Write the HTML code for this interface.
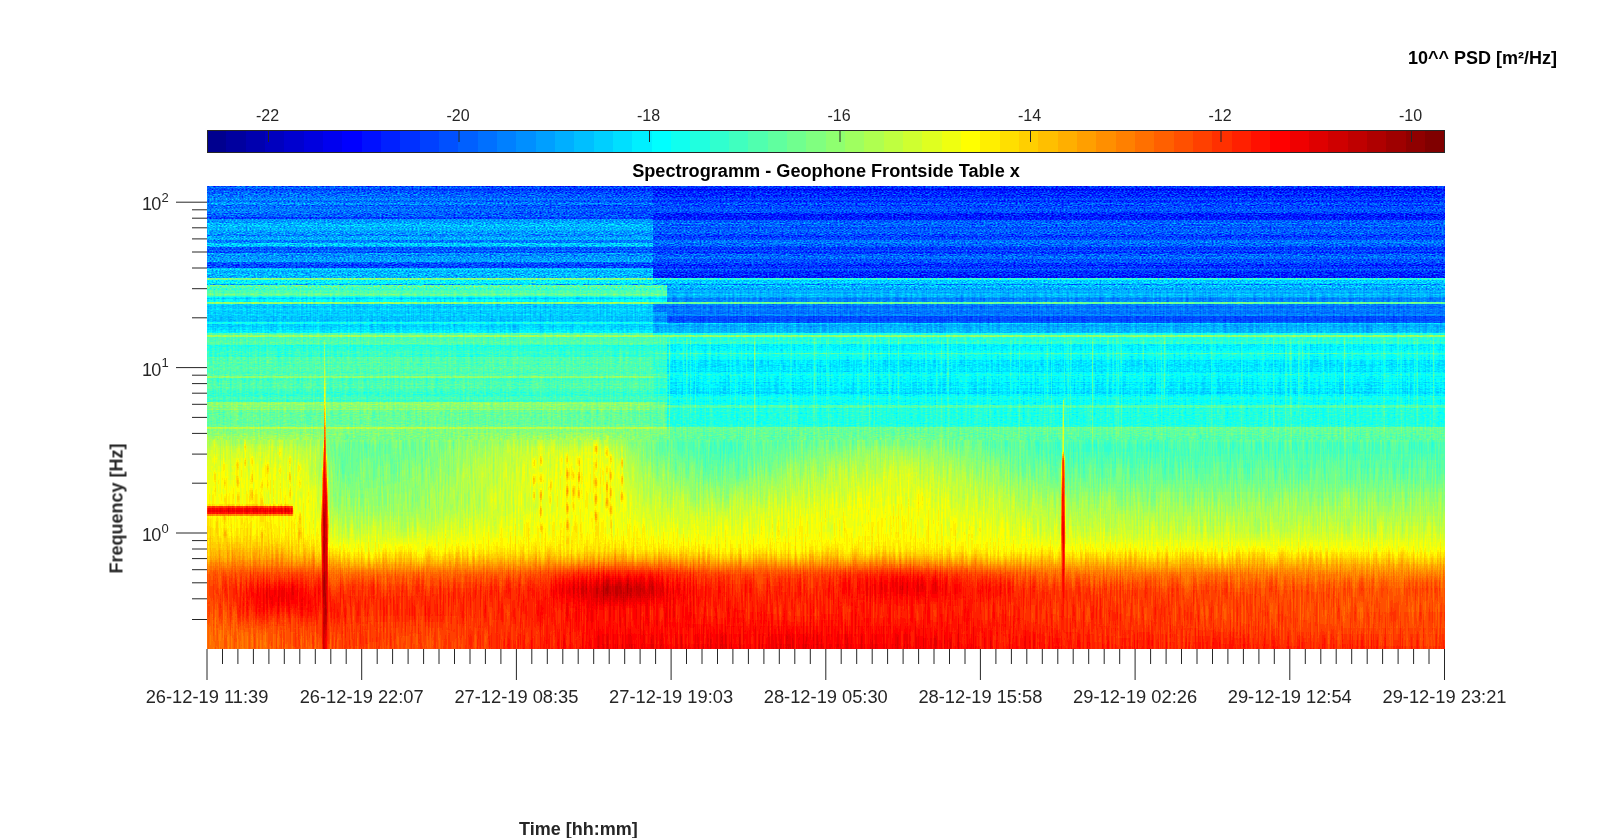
<!DOCTYPE html>
<html><head><meta charset="utf-8"><style>
html,body{margin:0;padding:0;background:#fff;width:1597px;height:838px;overflow:hidden;}
body{position:relative;font-family:"Liberation Sans",sans-serif;}
svg text{font-family:"Liberation Sans",sans-serif;}
</style></head><body>
<svg width="1597" height="838" viewBox="0 0 1597 838" style="position:absolute;left:0;top:0">
<defs>
<filter id="jet" x="0" y="0" width="1" height="1" filterUnits="objectBoundingBox" color-interpolation-filters="sRGB">
<feComponentTransfer><feFuncR type="discrete" tableValues="0 0 0 0 0 0 0 0 0 0 0 0 0 0 0 0 0 0 0 0 0 0 0 0 0.0625 0.125 0.1875 0.25 0.3125 0.375 0.4375 0.5 0.5625 0.625 0.6875 0.75 0.8125 0.875 0.9375 1 1 1 1 1 1 1 1 1 1 1 1 1 1 1 1 1 0.9375 0.875 0.8125 0.75 0.6875 0.625 0.5625 0.5"/><feFuncG type="discrete" tableValues="0 0 0 0 0 0 0 0 0.0625 0.125 0.1875 0.25 0.3125 0.375 0.4375 0.5 0.5625 0.625 0.6875 0.75 0.8125 0.875 0.9375 1 1 1 1 1 1 1 1 1 1 1 1 1 1 1 1 1 0.9375 0.875 0.8125 0.75 0.6875 0.625 0.5625 0.5 0.4375 0.375 0.3125 0.25 0.1875 0.125 0.0625 0 0 0 0 0 0 0 0 0"/><feFuncB type="discrete" tableValues="0.5625 0.625 0.6875 0.75 0.8125 0.875 0.9375 1 1 1 1 1 1 1 1 1 1 1 1 1 1 1 1 1 0.9375 0.875 0.8125 0.75 0.6875 0.625 0.5625 0.5 0.4375 0.375 0.3125 0.25 0.1875 0.125 0.0625 0 0 0 0 0 0 0 0 0 0 0 0 0 0 0 0 0 0 0 0 0 0 0 0 0"/><feFuncA type="identity"/></feComponentTransfer>
</filter>
<filter id="nz1" x="207" y="186" width="1238" height="104" filterUnits="userSpaceOnUse" color-interpolation-filters="sRGB">
<feTurbulence type="fractalNoise" baseFrequency="0.5 1.1" numOctaves="1" seed="3" result="t"/>
<feColorMatrix in="t" type="matrix" values="1 0 0 0 0  1 0 0 0 0  1 0 0 0 0  0 0 0 0 1" result="n"/>
<feComposite in="SourceGraphic" in2="n" operator="arithmetic" k1="0" k2="1" k3="0.3" k4="-0.15"/>
</filter>
<filter id="nz2" x="207" y="290" width="1238" height="150" filterUnits="userSpaceOnUse" color-interpolation-filters="sRGB">
<feTurbulence type="fractalNoise" baseFrequency="0.3 0.9" numOctaves="1" seed="4" result="t"/>
<feColorMatrix in="t" type="matrix" values="1 0 0 0 0  1 0 0 0 0  1 0 0 0 0  0 0 0 0 1" result="n"/>
<feTurbulence type="fractalNoise" baseFrequency="0.6 0.035" numOctaves="1" seed="7" result="t2"/>
<feColorMatrix in="t2" type="matrix" values="1 0 0 0 0  1 0 0 0 0  1 0 0 0 0  0 0 0 0 1" result="n2"/>
<feComposite in="SourceGraphic" in2="n" operator="arithmetic" k1="0" k2="1" k3="0.11" k4="-0.055" result="s1"/>
<feComposite in="s1" in2="n2" operator="arithmetic" k1="0" k2="1" k3="0.1" k4="-0.05"/>
</filter>
<filter id="nz3" x="207" y="440" width="1238" height="209" filterUnits="userSpaceOnUse" color-interpolation-filters="sRGB">
<feTurbulence type="fractalNoise" baseFrequency="0.6 0.035" numOctaves="1" seed="5" result="t"/>
<feColorMatrix in="t" type="matrix" values="1 0 0 0 0  1 0 0 0 0  1 0 0 0 0  0 0 0 0 1" result="n"/>
<feComposite in="SourceGraphic" in2="n" operator="arithmetic" k1="0" k2="1" k3="0.13" k4="-0.065"/>
</filter>
<linearGradient id="vlg" x1="0" y1="0" x2="0" y2="1"><stop offset="0" stop-color="#fff" stop-opacity="0.3"/><stop offset="0.05" stop-color="#fff" stop-opacity="1"/><stop offset="0.6" stop-color="#fff" stop-opacity="0.8"/><stop offset="1" stop-color="#fff" stop-opacity="0"/></linearGradient>
<clipPath id="pc"><rect x="207" y="186" width="1238" height="463"/></clipPath>
</defs>
<g filter="url(#jet)" clip-path="url(#pc)" shape-rendering="crispEdges">
<g filter="url(#nz1)"><path fill="#1e1e1e" d="M653 189h792v1h-792z"/>
<path fill="#222222" d="M653 190h792v1h-792zM653 276h792v1h-792zM653 277h792v1h-792z"/>
<path fill="#242424" d="M653 214h792v1h-792zM653 215h792v1h-792zM653 216h792v1h-792zM653 217h792v1h-792zM653 218h792v1h-792zM653 219h792v1h-792z"/>
<path fill="#262626" d="M626 186h27v1h-27zM653 188h792v1h-792zM575 189h78v1h-78zM653 192h792v1h-792zM653 195h792v1h-792zM653 213h792v1h-792zM653 265h792v1h-792zM653 272h792v1h-792zM653 275h792v1h-792z"/>
<path fill="#282828" d="M546 186h80v1h-80zM495 189h80v1h-80zM653 191h792v1h-792zM653 193h792v1h-792zM653 196h792v1h-792zM653 201h792v1h-792zM653 252h792v1h-792zM653 274h792v1h-792z"/>
<path fill="#2a2a2a" d="M467 186h79v1h-79zM653 186h792v1h-792zM416 189h79v1h-79zM576 190h77v1h-77zM653 194h792v1h-792zM653 197h792v1h-792zM653 200h792v1h-792zM653 236h792v1h-792zM653 249h792v1h-792zM653 264h792v1h-792zM653 267h792v1h-792zM653 271h792v1h-792zM653 273h792v1h-792z"/>
<path fill="#2c2c2c" d="M383 186h84v1h-84zM653 187h792v1h-792zM642 188h11v1h-11zM319 189h97v1h-97zM496 190h80v1h-80zM633 192h20v1h-20zM640 205h805v1h-805zM207 217h446v1h-446zM207 218h446v1h-446zM653 247h792v1h-792zM653 248h792v1h-792zM653 263h792v1h-792zM207 265h446v1h-446zM653 266h792v1h-792zM653 268h792v1h-792z"/>
<path fill="#2e2e2e" d="M282 186h101v1h-101zM563 188h79v1h-79zM217 189h102v1h-102zM416 190h80v1h-80zM609 191h44v1h-44zM553 192h80v1h-80zM647 193h6v1h-6zM653 198h792v1h-792zM644 201h9v1h-9zM653 202h792v1h-792zM560 205h80v1h-80zM653 235h792v1h-792zM653 237h792v1h-792zM653 251h792v1h-792zM653 253h792v1h-792zM207 267h446v1h-446zM653 270h792v1h-792z"/>
<path fill="#303030" d="M207 186h75v1h-75zM483 188h80v1h-80zM207 189h10v1h-10zM319 190h97v1h-97zM530 191h79v1h-79zM473 192h80v1h-80zM567 193h80v1h-80zM615 196h38v1h-38zM564 201h80v1h-80zM481 205h79v1h-79zM653 206h792v1h-792zM628 207h817v1h-817zM641 208h804v1h-804zM637 211h808v1h-808zM653 212h792v1h-792zM600 213h53v1h-53zM612 214h41v1h-41zM653 227h792v1h-792zM653 234h792v1h-792zM653 238h792v1h-792zM653 239h792v1h-792zM207 249h446v1h-446zM207 252h446v1h-446zM653 259h792v1h-792zM207 264h446v1h-446zM207 266h446v1h-446z"/>
<path fill="#323232" d="M611 187h42v1h-42zM403 188h80v1h-80zM218 190h101v1h-101zM450 191h80v1h-80zM392 192h81v1h-81zM488 193h79v1h-79zM577 194h76v1h-76zM642 195h11v1h-11zM535 196h80v1h-80zM605 197h48v1h-48zM653 199h792v1h-792zM624 200h29v1h-29zM484 201h80v1h-80zM653 204h792v1h-792zM401 205h80v1h-80zM577 206h76v1h-76zM548 207h80v1h-80zM561 208h80v1h-80zM558 211h79v1h-79zM601 212h52v1h-52zM505 213h95v1h-95zM484 214h128v1h-128zM577 215h76v1h-76zM653 228h792v1h-792zM653 250h792v1h-792zM653 260h792v1h-792zM653 262h792v1h-792zM207 263h446v1h-446z"/>
<path fill="#343434" d="M531 187h80v1h-80zM303 188h100v1h-100zM207 190h11v1h-11zM362 191h88v1h-88zM291 192h101v1h-101zM408 193h80v1h-80zM497 194h80v1h-80zM563 195h79v1h-79zM455 196h80v1h-80zM526 197h79v1h-79zM544 200h80v1h-80zM405 201h79v1h-79zM653 203h792v1h-792zM300 205h101v1h-101zM497 206h80v1h-80zM469 207h79v1h-79zM481 208h80v1h-80zM653 209h792v1h-792zM630 210h815v1h-815zM478 211h80v1h-80zM520 212h81v1h-81zM411 213h94v1h-94zM345 214h139v1h-139zM355 215h222v1h-222zM546 216h107v1h-107zM653 220h792v1h-792zM653 224h792v1h-792zM653 231h792v1h-792zM653 232h792v1h-792zM653 246h792v1h-792zM207 247h446v1h-446zM207 248h446v1h-446zM207 251h446v1h-446zM653 255h792v1h-792zM653 261h792v1h-792z"/>
<path fill="#363636" d="M451 187h80v1h-80zM207 188h96v1h-96zM261 191h101v1h-101zM207 192h84v1h-84zM309 193h99v1h-99zM418 194h79v1h-79zM483 195h80v1h-80zM369 196h86v1h-86zM446 197h80v1h-80zM636 198h17v1h-17zM464 200h80v1h-80zM305 201h100v1h-100zM586 202h67v1h-67zM207 205h93v1h-93zM418 206h79v1h-79zM386 207h83v1h-83zM402 208h79v1h-79zM599 209h54v1h-54zM551 210h79v1h-79zM398 211h80v1h-80zM438 212h82v1h-82zM294 213h117v1h-117zM207 214h138v1h-138zM207 215h148v1h-148zM207 216h339v1h-339zM653 221h792v1h-792zM653 222h792v1h-792zM653 225h792v1h-792zM653 229h792v1h-792zM653 233h792v1h-792zM653 244h792v1h-792zM207 262h446v1h-446zM653 269h792v1h-792z"/>
<path fill="#383838" d="M364 187h87v1h-87zM207 191h54v1h-54zM207 193h102v1h-102zM321 194h97v1h-97zM403 195h80v1h-80zM268 196h101v1h-101zM357 197h89v1h-89zM556 198h80v1h-80zM642 199h11v1h-11zM380 200h84v1h-84zM207 201h98v1h-98zM506 202h80v1h-80zM641 204h12v1h-12zM321 206h97v1h-97zM285 207h101v1h-101zM301 208h101v1h-101zM520 209h79v1h-79zM471 210h80v1h-80zM296 211h102v1h-102zM345 212h93v1h-93zM207 213h87v1h-87zM653 226h792v1h-792zM653 230h792v1h-792zM653 243h792v1h-792zM653 245h792v1h-792zM653 254h792v1h-792zM653 256h792v1h-792z"/>
<path fill="#3a3a3a" d="M263 187h101v1h-101zM220 194h101v1h-101zM303 195h100v1h-100zM207 196h61v1h-61zM256 197h101v1h-101zM477 198h79v1h-79zM562 199h80v1h-80zM279 200h101v1h-101zM426 202h80v1h-80zM561 204h80v1h-80zM220 206h101v1h-101zM207 207h78v1h-78zM207 208h94v1h-94zM440 209h80v1h-80zM389 210h82v1h-82zM207 211h89v1h-89zM242 212h103v1h-103zM653 223h792v1h-792zM653 240h792v1h-792zM653 241h792v1h-792zM207 250h446v1h-446zM653 257h792v1h-792zM653 258h792v1h-792z"/>
<path fill="#3c3c3c" d="M207 187h56v1h-56zM207 194h13v1h-13zM207 195h96v1h-96zM207 197h49v1h-49zM396 198h81v1h-81zM482 199h80v1h-80zM207 200h72v1h-72zM332 202h94v1h-94zM619 203h34v1h-34zM481 204h80v1h-80zM207 206h13v1h-13zM349 209h91v1h-91zM288 210h101v1h-101zM207 212h35v1h-35zM207 240h446v1h-446zM207 241h446v1h-446zM653 242h792v1h-792z"/>
<path fill="#3e3e3e" d="M295 198h101v1h-101zM403 199h79v1h-79zM231 202h101v1h-101zM539 203h80v1h-80zM402 204h79v1h-79zM248 209h101v1h-101zM207 210h81v1h-81zM207 235h446v1h-446zM207 242h446v1h-446zM207 255h446v1h-446zM653 284h792v1h-792z"/>
<path fill="#404040" d="M207 198h88v1h-88zM302 199h101v1h-101zM207 202h24v1h-24zM460 203h79v1h-79zM301 204h101v1h-101zM207 209h41v1h-41zM207 234h446v1h-446z"/>
<path fill="#424242" d="M207 199h95v1h-95zM375 203h85v1h-85zM207 204h94v1h-94zM207 219h446v1h-446zM207 254h446v1h-446zM207 256h446v1h-446z"/>
<path fill="#444444" d="M273 203h102v1h-102zM207 220h446v1h-446zM207 221h446v1h-446zM207 231h446v1h-446zM207 232h446v1h-446zM207 236h446v1h-446zM207 257h446v1h-446zM207 258h446v1h-446zM207 259h446v1h-446zM667 289h778v1h-778z"/>
<path fill="#464646" d="M207 203h66v1h-66zM207 222h446v1h-446zM207 233h446v1h-446zM207 253h446v1h-446zM207 260h446v1h-446zM667 288h778v1h-778z"/>
<path fill="#484848" d="M207 227h446v1h-446zM207 230h446v1h-446zM207 237h446v1h-446zM207 239h446v1h-446zM207 246h446v1h-446zM207 261h446v1h-446zM207 271h446v1h-446zM207 284h446v1h-446z"/>
<path fill="#4a4a4a" d="M207 223h446v1h-446zM207 224h446v1h-446zM207 228h446v1h-446zM207 238h446v1h-446zM207 272h446v1h-446zM207 275h446v1h-446zM207 276h446v1h-446zM207 277h446v1h-446z"/>
<path fill="#4c4c4c" d="M207 229h446v1h-446zM207 268h446v1h-446zM207 270h446v1h-446zM207 274h446v1h-446zM667 287h778v1h-778z"/>
<path fill="#4e4e4e" d="M207 225h446v1h-446zM207 226h446v1h-446zM207 273h446v1h-446zM667 285h778v1h-778zM667 286h778v1h-778z"/>
<path fill="#505050" d="M207 244h446v1h-446zM653 280h792v1h-792zM653 283h792v1h-792z"/>
<path fill="#525252" d="M207 243h446v1h-446zM207 245h446v1h-446zM653 281h792v1h-792z"/>
<path fill="#545454" d="M207 269h446v1h-446zM653 282h792v1h-792z"/>
<path fill="#5a5a5a" d="M207 280h446v1h-446zM207 283h446v1h-446z"/>
<path fill="#5c5c5c" d="M207 281h446v1h-446z"/>
<path fill="#5e5e5e" d="M207 282h446v1h-446z"/>
<path fill="#666666" d="M653 279h792v1h-792z"/>
<path fill="#6a6a6a" d="M653 278h792v1h-792zM207 289h460v1h-460z"/>
<path fill="#6c6c6c" d="M207 288h460v1h-460z"/>
<path fill="#727272" d="M207 287h460v1h-460z"/>
<path fill="#747474" d="M207 285h460v1h-460zM207 286h460v1h-460z"/>
<path fill="#7a7a7a" d="M207 279h446v1h-446z"/>
<path fill="#7e7e7e" d="M207 278h446v1h-446z"/></g>
<g filter="url(#nz2)"><path fill="#2e2e2e" d="M667 320h778v1h-778z"/>
<path fill="#303030" d="M667 316h778v1h-778zM667 317h778v1h-778zM667 319h778v1h-778z"/>
<path fill="#323232" d="M667 318h778v1h-778z"/>
<path fill="#343434" d="M667 321h778v1h-778zM667 322h778v1h-778z"/>
<path fill="#383838" d="M653 306h792v1h-792z"/>
<path fill="#3a3a3a" d="M653 307h792v1h-792zM653 311h792v1h-792zM667 312h778v1h-778zM667 313h778v1h-778z"/>
<path fill="#3c3c3c" d="M667 298h778v1h-778zM653 308h792v1h-792zM653 310h792v1h-792z"/>
<path fill="#3e3e3e" d="M667 299h778v1h-778zM653 304h792v1h-792zM653 305h792v1h-792zM653 319h14v1h-14zM653 320h14v1h-14z"/>
<path fill="#404040" d="M667 300h778v1h-778zM667 301h778v1h-778zM653 309h792v1h-792zM667 314h778v1h-778zM667 315h778v1h-778zM653 316h14v1h-14zM653 317h14v1h-14z"/>
<path fill="#424242" d="M653 318h14v1h-14zM653 321h14v1h-14z"/>
<path fill="#444444" d="M667 297h778v1h-778z"/>
<path fill="#464646" d="M667 292h778v1h-778zM653 312h14v1h-14zM653 313h14v1h-14zM653 326h792v1h-792z"/>
<path fill="#484848" d="M653 315h14v1h-14zM653 324h792v1h-792zM653 325h792v1h-792z"/>
<path fill="#4a4a4a" d="M667 290h778v1h-778zM667 293h778v1h-778zM667 295h778v1h-778zM653 314h14v1h-14zM653 327h792v1h-792zM653 329h792v1h-792z"/>
<path fill="#4c4c4c" d="M667 291h778v1h-778zM667 296h778v1h-778zM207 320h446v1h-446zM653 322h14v1h-14zM653 328h792v1h-792zM653 330h792v1h-792zM653 331h792v1h-792z"/>
<path fill="#4e4e4e" d="M207 306h446v1h-446zM207 316h446v1h-446zM207 317h446v1h-446zM207 319h446v1h-446zM653 332h792v1h-792z"/>
<path fill="#505050" d="M667 294h778v1h-778zM207 307h446v1h-446zM207 311h446v1h-446zM207 312h446v1h-446zM207 313h446v1h-446zM207 318h446v1h-446zM207 326h446v1h-446z"/>
<path fill="#525252" d="M207 298h460v1h-460zM207 304h446v1h-446zM207 305h446v1h-446zM207 308h446v1h-446zM207 310h446v1h-446zM207 315h446v1h-446zM207 321h446v1h-446zM207 324h446v1h-446zM207 325h446v1h-446z"/>
<path fill="#545454" d="M207 314h446v1h-446zM667 323h778v1h-778zM207 327h446v1h-446zM207 329h446v1h-446zM667 371h778v1h-778zM667 392h778v1h-778zM667 393h778v1h-778z"/>
<path fill="#565656" d="M207 309h446v1h-446zM207 328h446v1h-446zM667 360h778v1h-778zM667 364h778v1h-778zM667 365h778v1h-778zM667 366h778v1h-778zM667 382h778v1h-778zM667 388h778v1h-778zM667 389h778v1h-778zM667 391h778v1h-778z"/>
<path fill="#585858" d="M207 331h446v1h-446zM667 345h778v1h-778zM667 361h778v1h-778zM667 362h778v1h-778zM667 363h778v1h-778zM667 367h778v1h-778zM667 369h778v1h-778zM667 370h778v1h-778zM667 384h778v1h-778zM667 385h778v1h-778z"/>
<path fill="#5a5a5a" d="M207 297h460v1h-460zM207 299h460v1h-460zM653 323h14v1h-14zM207 330h446v1h-446zM667 344h778v1h-778zM667 346h778v1h-778zM667 347h778v1h-778zM667 349h778v1h-778zM667 368h778v1h-778zM667 379h778v1h-778zM667 383h778v1h-778zM667 386h778v1h-778zM667 390h778v1h-778z"/>
<path fill="#5c5c5c" d="M207 300h460v1h-460zM207 301h460v1h-460zM207 332h446v1h-446zM667 348h778v1h-778zM667 350h778v1h-778zM667 372h778v1h-778zM667 376h778v1h-778zM667 378h778v1h-778zM667 380h778v1h-778zM667 387h778v1h-778zM667 394h778v1h-778zM667 395h778v1h-778z"/>
<path fill="#5e5e5e" d="M667 359h778v1h-778zM667 373h778v1h-778zM667 377h778v1h-778zM667 381h778v1h-778zM667 400h395v1h-395zM1064 400h381v1h-381zM667 401h395v1h-395zM1064 401h381v1h-381z"/>
<path fill="#606060" d="M207 323h446v1h-446zM667 351h778v1h-778zM667 352h778v1h-778zM667 355h778v1h-778zM667 356h778v1h-778zM667 357h778v1h-778zM667 358h778v1h-778zM667 375h778v1h-778zM667 396h778v1h-778zM1062 400h1v1h-1zM667 402h395v1h-395zM1064 402h381v1h-381zM667 403h395v1h-395zM1064 403h381v1h-381zM667 404h395v1h-395zM1064 404h381v1h-381z"/>
<path fill="#626262" d="M207 322h446v1h-446zM667 354h778v1h-778zM667 374h778v1h-778zM667 397h778v1h-778zM667 399h778v1h-778zM1062 401h1v1h-1zM667 408h395v1h-395zM1064 408h381v1h-381z"/>
<path fill="#646464" d="M653 334h792v1h-792zM667 340h778v1h-778zM207 345h117v1h-117zM325 345h342v1h-342zM653 392h14v1h-14zM653 393h14v1h-14zM667 398h778v1h-778zM1062 402h1v1h-1zM667 412h395v1h-395zM1064 412h381v1h-381zM667 413h395v1h-395zM1064 413h381v1h-381zM667 417h395v1h-395zM1064 417h381v1h-381zM667 420h395v1h-395zM1064 420h381v1h-381zM667 421h395v1h-395zM1064 421h381v1h-381zM667 422h395v1h-395zM1064 422h381v1h-381zM667 423h395v1h-395zM1064 423h381v1h-381z"/>
<path fill="#666666" d="M207 296h460v1h-460zM653 333h792v1h-792zM667 338h778v1h-778zM667 339h778v1h-778zM207 346h117v1h-117zM325 346h342v1h-342zM653 347h14v1h-14zM653 348h14v1h-14zM653 349h14v1h-14zM653 389h14v1h-14zM653 391h14v1h-14zM1062 403h1v1h-1zM667 409h395v1h-395zM1064 409h381v1h-381zM667 410h395v1h-395zM1064 410h381v1h-381zM667 414h395v1h-395zM1064 414h381v1h-381zM667 415h395v1h-395zM1064 415h381v1h-381zM667 416h395v1h-395zM1064 416h381v1h-381zM667 418h395v1h-395zM1064 418h381v1h-381zM667 419h395v1h-395zM1064 419h381v1h-381zM667 424h395v1h-395zM1064 424h381v1h-381zM667 425h395v1h-395zM1064 425h381v1h-381z"/>
<path fill="#686868" d="M667 337h778v1h-778zM667 341h778v1h-778zM207 347h117v1h-117zM325 347h328v1h-328zM207 348h117v1h-117zM325 348h328v1h-328zM207 349h117v1h-117zM325 349h328v1h-328zM207 350h117v1h-117zM325 350h342v1h-342zM207 356h117v1h-117zM325 356h328v1h-328zM653 360h14v1h-14zM653 364h14v1h-14zM653 366h14v1h-14zM653 371h14v1h-14zM653 379h14v1h-14zM653 382h14v1h-14zM653 388h14v1h-14zM653 390h14v1h-14zM653 394h14v1h-14zM653 395h14v1h-14zM1062 404h1v1h-1zM667 411h395v1h-395zM1064 411h381v1h-381zM667 426h395v1h-395zM1064 426h381v1h-381z"/>
<path fill="#6a6a6a" d="M667 342h778v1h-778zM667 343h778v1h-778zM653 344h14v1h-14zM653 351h14v1h-14zM207 354h117v1h-117zM325 354h342v1h-342zM207 355h117v1h-117zM325 355h342v1h-342zM653 356h14v1h-14zM653 361h14v1h-14zM653 363h14v1h-14zM653 365h14v1h-14zM653 367h14v1h-14zM653 369h14v1h-14zM653 370h14v1h-14zM653 372h14v1h-14zM653 378h14v1h-14zM653 380h14v1h-14zM653 383h14v1h-14zM653 384h14v1h-14zM653 385h14v1h-14zM207 392h117v1h-117zM326 392h327v1h-327zM207 393h117v1h-117zM326 393h327v1h-327zM207 394h117v1h-117zM326 394h327v1h-327zM207 395h117v1h-117zM326 395h327v1h-327zM207 400h117v1h-117zM326 400h341v1h-341zM653 401h14v1h-14z"/>
<path fill="#6c6c6c" d="M207 351h117v1h-117zM325 351h328v1h-328zM207 352h117v1h-117zM325 352h342v1h-342zM207 353h117v1h-117zM325 353h328v1h-328zM653 359h14v1h-14zM653 362h14v1h-14zM653 368h14v1h-14zM653 373h14v1h-14zM207 379h117v1h-117zM326 379h327v1h-327zM653 381h14v1h-14zM653 386h14v1h-14zM207 391h117v1h-117zM326 391h327v1h-327zM207 396h117v1h-117zM326 396h341v1h-341zM207 401h117v1h-117zM326 401h327v1h-327z"/>
<path fill="#6e6e6e" d="M653 358h14v1h-14zM207 372h117v1h-117zM326 372h327v1h-327zM653 375h14v1h-14zM207 378h117v1h-117zM326 378h327v1h-327zM207 380h117v1h-117zM326 380h327v1h-327zM653 387h14v1h-14zM207 389h117v1h-117zM326 389h327v1h-327zM207 390h117v1h-117zM326 390h327v1h-327zM653 397h14v1h-14zM207 399h117v1h-117zM326 399h341v1h-341zM1062 408h1v1h-1z"/>
<path fill="#707070" d="M207 290h460v1h-460zM207 292h460v1h-460zM207 337h460v1h-460zM207 338h460v1h-460zM207 339h460v1h-460zM207 340h117v1h-117zM325 340h342v1h-342zM207 344h117v1h-117zM325 344h328v1h-328zM667 353h778v1h-778zM653 357h14v1h-14zM207 360h117v1h-117zM326 360h327v1h-327zM207 364h117v1h-117zM326 364h327v1h-327zM207 366h117v1h-117zM326 366h327v1h-327zM207 371h117v1h-117zM326 371h327v1h-327zM207 373h117v1h-117zM326 373h327v1h-327zM653 374h14v1h-14zM207 381h117v1h-117zM326 381h327v1h-327zM207 382h117v1h-117zM326 382h327v1h-327zM207 385h117v1h-117zM326 385h327v1h-327zM207 388h117v1h-117zM326 388h327v1h-327zM207 397h117v1h-117zM326 397h327v1h-327zM207 398h117v1h-117zM326 398h341v1h-341zM667 405h395v1h-395zM1064 405h381v1h-381zM667 407h395v1h-395zM1064 407h381v1h-381zM1062 409h1v1h-1z"/>
<path fill="#727272" d="M207 291h460v1h-460zM207 334h446v1h-446zM207 341h117v1h-117zM325 341h342v1h-342zM207 358h117v1h-117zM325 358h328v1h-328zM207 359h117v1h-117zM325 359h328v1h-328zM325 360h1v1h-1zM207 361h117v1h-117zM326 361h327v1h-327zM207 363h117v1h-117zM326 363h327v1h-327zM207 365h117v1h-117zM326 365h327v1h-327zM207 369h117v1h-117zM326 369h327v1h-327zM207 370h117v1h-117zM326 370h327v1h-327zM207 375h117v1h-117zM326 375h327v1h-327zM207 383h117v1h-117zM326 383h327v1h-327zM207 384h117v1h-117zM326 384h327v1h-327zM207 386h117v1h-117zM326 386h327v1h-327zM667 406h395v1h-395zM1064 406h381v1h-381zM1062 410h1v1h-1zM653 412h14v1h-14zM1062 412h1v1h-1zM653 413h14v1h-14zM1062 413h1v1h-1zM653 417h14v1h-14zM653 420h14v1h-14zM653 421h14v1h-14zM653 422h14v1h-14zM653 423h14v1h-14zM1055 437h7v1h-7zM1064 437h117v1h-117zM702 438h39v1h-39zM1039 438h23v1h-23zM1064 438h381v1h-381zM714 439h14v1h-14zM1051 439h11v1h-11zM1064 439h134v1h-134z"/>
<path fill="#747474" d="M207 293h460v1h-460zM207 295h460v1h-460zM207 333h446v1h-446zM207 342h117v1h-117zM325 342h342v1h-342zM207 343h117v1h-117zM325 343h342v1h-342zM653 353h14v1h-14zM207 357h117v1h-117zM325 357h328v1h-328zM325 361h1v1h-1zM207 362h117v1h-117zM326 362h327v1h-327zM325 364h1v1h-1zM207 367h117v1h-117zM326 367h327v1h-327zM207 368h117v1h-117zM326 368h327v1h-327zM207 374h117v1h-117zM326 374h327v1h-327zM653 376h14v1h-14zM653 377h14v1h-14zM207 387h117v1h-117zM326 387h327v1h-327zM653 410h14v1h-14zM1062 411h1v1h-1zM653 414h14v1h-14zM1062 414h1v1h-1zM653 415h14v1h-14zM1062 415h1v1h-1zM653 416h14v1h-14zM653 418h14v1h-14zM653 419h14v1h-14zM653 424h14v1h-14zM653 425h14v1h-14zM713 431h15v1h-15zM1051 431h11v1h-11zM1064 431h135v1h-135zM696 432h52v1h-52zM1032 432h30v1h-30zM1064 432h381v1h-381zM698 434h47v1h-47zM1035 434h27v1h-27zM1064 434h381v1h-381zM689 435h66v1h-66zM1025 435h37v1h-37zM1064 435h381v1h-381zM695 436h53v1h-53zM1032 436h30v1h-30zM1064 436h381v1h-381zM675 437h96v1h-96zM1009 437h46v1h-46zM1181 437h264v1h-264zM668 438h34v1h-34zM741 438h38v1h-38zM1001 438h38v1h-38zM683 439h31v1h-31zM728 439h34v1h-34zM1018 439h33v1h-33zM1198 439h247v1h-247z"/>
<path fill="#767676" d="M653 303h792v1h-792zM325 362h1v1h-1zM325 363h1v1h-1zM325 365h1v1h-1zM325 366h1v1h-1zM653 402h14v1h-14zM653 403h14v1h-14zM653 404h14v1h-14zM1062 405h1v1h-1zM1062 407h1v1h-1zM653 408h14v1h-14zM653 411h14v1h-14zM207 412h117v1h-117zM326 412h327v1h-327zM207 413h117v1h-117zM326 413h327v1h-327zM1062 416h1v1h-1zM207 417h117v1h-117zM326 417h327v1h-327zM1062 417h1v1h-1zM1062 418h1v1h-1zM207 420h117v1h-117zM326 420h327v1h-327zM207 421h117v1h-117zM326 421h327v1h-327zM207 422h117v1h-117zM326 422h327v1h-327zM207 423h117v1h-117zM326 423h327v1h-327zM653 426h14v1h-14zM667 430h395v1h-395zM1064 430h381v1h-381zM667 431h46v1h-46zM728 431h323v1h-323zM1199 431h246v1h-246zM667 432h29v1h-29zM748 432h284v1h-284zM667 433h145v1h-145zM970 433h92v1h-92zM1064 433h381v1h-381zM667 434h31v1h-31zM745 434h96v1h-96zM948 434h87v1h-87zM667 435h22v1h-22zM755 435h74v1h-74zM957 435h68v1h-68zM667 436h28v1h-28zM748 436h56v1h-56zM977 436h55v1h-55zM667 437h8v1h-8zM771 437h50v1h-50zM963 437h46v1h-46zM667 438h1v1h-1zM779 438h43v1h-43zM963 438h38v1h-38zM667 439h16v1h-16zM762 439h34v1h-34zM985 439h33v1h-33z"/>
<path fill="#787878" d="M653 302h792v1h-792zM325 367h1v1h-1zM325 369h1v1h-1zM325 371h1v1h-1zM325 372h1v1h-1zM1062 406h1v1h-1zM653 409h14v1h-14zM207 410h117v1h-117zM326 410h327v1h-327zM207 414h117v1h-117zM326 414h327v1h-327zM207 415h117v1h-117zM326 415h327v1h-327zM207 416h117v1h-117zM326 416h327v1h-327zM207 418h117v1h-117zM326 418h327v1h-327zM207 419h117v1h-117zM326 419h327v1h-327zM1062 419h1v1h-1zM1062 420h1v1h-1zM1062 421h1v1h-1zM1062 422h1v1h-1zM207 424h117v1h-117zM326 424h327v1h-327zM207 425h117v1h-117zM326 425h327v1h-327zM667 428h395v1h-395zM1064 428h381v1h-381zM667 429h395v1h-395zM1064 429h381v1h-381zM812 433h158v1h-158zM841 434h107v1h-107zM829 435h128v1h-128zM804 436h68v1h-68zM922 436h55v1h-55zM821 437h57v1h-57zM918 437h45v1h-45zM822 438h48v1h-48zM924 438h39v1h-39zM796 439h40v1h-40zM951 439h34v1h-34z"/>
<path fill="#7a7a7a" d="M207 294h460v1h-460zM325 368h1v1h-1zM325 370h1v1h-1zM325 373h1v1h-1zM325 378h1v1h-1zM325 379h1v1h-1zM207 411h117v1h-117zM326 411h327v1h-327zM1062 423h1v1h-1zM1062 424h1v1h-1zM207 426h117v1h-117zM326 426h327v1h-327zM667 427h395v1h-395zM1064 427h381v1h-381zM872 436h50v1h-50zM878 437h40v1h-40zM340 438h32v1h-32zM651 438h2v1h-2zM658 438h9v1h-9zM870 438h54v1h-54zM664 439h3v1h-3zM836 439h42v1h-42zM918 439h33v1h-33z"/>
<path fill="#7c7c7c" d="M324 340h1v1h-1zM324 345h1v1h-1zM325 375h1v1h-1zM325 380h1v1h-1zM653 405h14v1h-14zM653 407h14v1h-14zM1062 425h1v1h-1zM1062 426h1v1h-1zM331 431h102v1h-102zM642 431h11v1h-11zM331 432h102v1h-102zM642 432h11v1h-11zM335 434h82v1h-82zM647 434h6v1h-6zM334 435h90v1h-90zM645 435h8v1h-8zM657 435h10v1h-10zM336 436h76v1h-76zM648 436h5v1h-5zM658 436h9v1h-9zM331 437h102v1h-102zM642 437h25v1h-25zM330 438h10v1h-10zM372 438h65v1h-65zM641 438h10v1h-10zM653 438h5v1h-5zM333 439h92v1h-92zM645 439h19v1h-19zM878 439h40v1h-40z"/>
<path fill="#7e7e7e" d="M324 341h1v1h-1zM324 342h1v1h-1zM324 343h1v1h-1zM324 344h1v1h-1zM324 346h1v1h-1zM324 347h1v1h-1zM324 348h1v1h-1zM325 374h1v1h-1zM325 381h1v1h-1zM325 382h1v1h-1zM207 405h117v1h-117zM326 405h327v1h-327zM653 406h14v1h-14zM207 407h117v1h-117zM326 407h327v1h-327zM207 408h117v1h-117zM326 408h327v1h-327zM207 429h117v1h-117zM326 429h242v1h-242zM603 429h50v1h-50zM207 430h117v1h-117zM326 430h341v1h-341zM207 431h117v1h-117zM326 431h5v1h-5zM433 431h209v1h-209zM653 431h14v1h-14zM207 432h117v1h-117zM326 432h5v1h-5zM433 432h128v1h-128zM609 432h33v1h-33zM653 432h14v1h-14zM323 433h1v1h-1zM326 433h139v1h-139zM631 433h36v1h-36zM321 434h3v1h-3zM326 434h9v1h-9zM417 434h59v1h-59zM627 434h20v1h-20zM653 434h14v1h-14zM323 435h1v1h-1zM326 435h8v1h-8zM424 435h44v1h-44zM630 435h15v1h-15zM653 435h4v1h-4zM326 436h10v1h-10zM412 436h42v1h-42zM635 436h13v1h-13zM653 436h5v1h-5zM326 437h5v1h-5zM433 437h28v1h-28zM632 437h10v1h-10zM326 438h4v1h-4zM437 438h24v1h-24zM632 438h9v1h-9zM327 439h6v1h-6zM425 439h22v1h-22zM637 439h8v1h-8z"/>
<path fill="#818181" d="M207 303h446v1h-446zM653 335h792v1h-792zM324 349h1v1h-1zM324 350h1v1h-1zM207 376h117v1h-117zM326 376h327v1h-327zM207 377h117v1h-117zM326 377h327v1h-327zM325 383h1v1h-1zM325 384h1v1h-1zM325 385h1v1h-1zM325 388h1v1h-1zM325 389h1v1h-1zM325 392h1v1h-1zM207 402h117v1h-117zM326 402h327v1h-327zM207 406h117v1h-117zM326 406h327v1h-327zM568 429h35v1h-35zM653 429h14v1h-14zM561 432h48v1h-48zM207 433h116v1h-116zM465 433h95v1h-95zM609 433h22v1h-22zM207 434h36v1h-36zM247 434h6v1h-6zM261 434h17v1h-17zM282 434h39v1h-39zM476 434h66v1h-66zM610 434h17v1h-17zM307 435h16v1h-16zM468 435h42v1h-42zM616 435h14v1h-14zM318 436h6v1h-6zM454 436h34v1h-34zM623 436h12v1h-12zM317 437h7v1h-7zM461 437h29v1h-29zM623 437h9v1h-9zM318 438h5v1h-5zM461 438h25v1h-25zM624 438h8v1h-8zM326 439h1v1h-1zM447 439h21v1h-21zM630 439h7v1h-7z"/>
<path fill="#838383" d="M207 302h446v1h-446zM653 336h792v1h-792zM324 351h1v1h-1zM324 352h1v1h-1zM324 353h1v1h-1zM324 354h1v1h-1zM324 355h1v1h-1zM325 386h1v1h-1zM325 390h1v1h-1zM325 391h1v1h-1zM325 393h1v1h-1zM325 394h1v1h-1zM325 395h1v1h-1zM207 403h117v1h-117zM326 403h327v1h-327zM207 404h117v1h-117zM326 404h327v1h-327zM207 409h117v1h-117zM326 409h327v1h-327zM560 433h46v1h-46zM608 433h1v1h-1zM243 434h4v1h-4zM253 434h8v1h-8zM278 434h4v1h-4zM542 434h64v1h-64zM608 434h2v1h-2zM207 435h72v1h-72zM281 435h26v1h-26zM510 435h84v1h-84zM597 435h8v1h-8zM609 435h7v1h-7zM207 436h5v1h-5zM284 436h34v1h-34zM488 436h38v1h-38zM612 436h11v1h-11zM293 437h24v1h-24zM490 437h30v1h-30zM613 437h10v1h-10zM308 438h10v1h-10zM486 438h24v1h-24zM616 438h8v1h-8zM317 439h6v1h-6zM468 439h21v1h-21zM623 439h7v1h-7z"/>
<path fill="#858585" d="M207 335h446v1h-446zM324 356h1v1h-1zM325 387h1v1h-1zM325 396h1v1h-1zM606 433h2v1h-2zM279 435h2v1h-2zM594 435h3v1h-3zM605 435h1v1h-1zM608 435h1v1h-1zM212 436h67v1h-67zM281 436h3v1h-3zM526 436h69v1h-69zM597 436h8v1h-8zM609 436h3v1h-3zM207 437h7v1h-7zM216 437h63v1h-63zM281 437h12v1h-12zM520 437h57v1h-57zM600 437h4v1h-4zM609 437h4v1h-4zM207 438h6v1h-6zM217 438h27v1h-27zM247 438h31v1h-31zM282 438h26v1h-26zM323 438h1v1h-1zM510 438h40v1h-40zM610 438h6v1h-6zM307 439h10v1h-10zM489 439h22v1h-22zM616 439h7v1h-7z"/>
<path fill="#878787" d="M207 336h446v1h-446zM324 357h1v1h-1zM324 358h1v1h-1zM324 359h1v1h-1zM324 360h1v1h-1zM324 361h1v1h-1zM325 376h1v1h-1zM325 377h1v1h-1zM325 397h1v1h-1zM325 399h1v1h-1zM325 400h1v1h-1zM1063 400h1v1h-1zM1063 401h1v1h-1zM1063 402h1v1h-1zM653 428h14v1h-14zM1062 428h1v1h-1zM1062 429h1v1h-1zM1062 430h1v1h-1zM1062 431h1v1h-1zM1062 432h1v1h-1zM606 434h2v1h-2zM279 436h2v1h-2zM595 436h2v1h-2zM605 436h1v1h-1zM608 436h1v1h-1zM214 437h2v1h-2zM577 437h23v1h-23zM604 437h1v1h-1zM213 438h1v1h-1zM216 438h1v1h-1zM244 438h3v1h-3zM278 438h1v1h-1zM281 438h1v1h-1zM550 438h55v1h-55zM609 438h1v1h-1zM207 439h6v1h-6zM217 439h26v1h-26zM247 439h3v1h-3zM254 439h24v1h-24zM282 439h25v1h-25zM511 439h33v1h-33zM612 439h4v1h-4z"/>
<path fill="#898989" d="M324 362h1v1h-1zM324 363h1v1h-1zM324 364h1v1h-1zM324 365h1v1h-1zM325 398h1v1h-1zM325 401h1v1h-1zM1063 403h1v1h-1zM1063 404h1v1h-1zM653 427h14v1h-14zM1062 427h1v1h-1zM1062 433h1v1h-1zM1062 434h1v1h-1zM606 435h2v1h-2zM1062 435h1v1h-1zM1062 436h1v1h-1zM279 437h2v1h-2zM605 437h1v1h-1zM608 437h1v1h-1zM1062 437h1v1h-1zM214 438h2v1h-2zM279 438h2v1h-2zM605 438h1v1h-1zM608 438h1v1h-1zM1062 438h1v1h-1zM213 439h1v1h-1zM216 439h1v1h-1zM243 439h4v1h-4zM250 439h4v1h-4zM278 439h1v1h-1zM281 439h1v1h-1zM323 439h1v1h-1zM544 439h50v1h-50zM597 439h8v1h-8zM609 439h3v1h-3zM1062 439h1v1h-1z"/>
<path fill="#8b8b8b" d="M324 366h1v1h-1zM324 367h1v1h-1zM324 368h1v1h-1zM324 369h1v1h-1zM1063 405h1v1h-1zM1063 406h1v1h-1zM1063 407h1v1h-1zM1063 408h1v1h-1zM1063 409h1v1h-1zM1063 410h1v1h-1zM207 428h117v1h-117zM326 428h327v1h-327zM606 436h2v1h-2zM214 439h2v1h-2zM279 439h2v1h-2zM594 439h3v1h-3zM605 439h1v1h-1zM608 439h1v1h-1z"/>
<path fill="#8d8d8d" d="M324 370h1v1h-1zM324 371h1v1h-1zM324 372h1v1h-1zM324 373h1v1h-1zM1063 411h1v1h-1zM1063 412h1v1h-1zM1063 413h1v1h-1zM1063 414h1v1h-1zM1063 415h1v1h-1zM207 427h117v1h-117zM326 427h327v1h-327zM606 437h2v1h-2zM606 438h2v1h-2z"/>
<path fill="#8f8f8f" d="M324 374h1v1h-1zM324 375h1v1h-1zM324 378h1v1h-1zM1063 416h1v1h-1zM1063 417h1v1h-1zM1063 418h1v1h-1zM1063 419h1v1h-1zM1063 420h1v1h-1zM1063 421h1v1h-1zM606 439h2v1h-2z"/>
<path fill="#919191" d="M324 376h1v1h-1zM324 377h1v1h-1zM324 379h1v1h-1zM324 380h1v1h-1zM324 381h1v1h-1zM324 382h1v1h-1zM1063 422h1v1h-1zM1063 423h1v1h-1zM1063 424h1v1h-1zM1063 425h1v1h-1z"/>
<path fill="#939393" d="M324 383h1v1h-1zM324 384h1v1h-1zM324 385h1v1h-1zM325 402h1v1h-1zM1063 426h1v1h-1z"/>
<path fill="#959595" d="M324 386h1v1h-1zM324 387h1v1h-1zM324 388h1v1h-1zM324 389h1v1h-1zM324 390h1v1h-1zM325 403h1v1h-1zM325 404h1v1h-1zM325 405h1v1h-1zM1063 427h1v1h-1zM1063 428h1v1h-1zM1063 429h1v1h-1zM1063 430h1v1h-1zM1063 431h1v1h-1zM1063 432h1v1h-1zM1063 433h1v1h-1z"/>
<path fill="#979797" d="M324 391h1v1h-1zM324 392h1v1h-1zM324 393h1v1h-1zM324 394h1v1h-1zM325 406h1v1h-1zM325 407h1v1h-1zM1063 434h1v1h-1zM1063 435h1v1h-1zM1063 436h1v1h-1zM1063 437h1v1h-1zM1063 438h1v1h-1zM1063 439h1v1h-1z"/>
<path fill="#999999" d="M324 395h1v1h-1zM324 396h1v1h-1zM324 397h1v1h-1zM325 408h1v1h-1zM325 410h1v1h-1zM325 412h1v1h-1z"/>
<path fill="#9b9b9b" d="M324 398h1v1h-1zM324 399h1v1h-1zM324 400h1v1h-1zM325 409h1v1h-1zM325 411h1v1h-1zM325 413h1v1h-1z"/>
<path fill="#9d9d9d" d="M324 401h1v1h-1zM325 414h1v1h-1z"/>
<path fill="#9f9f9f" d="M324 402h1v1h-1zM325 415h1v1h-1zM325 416h1v1h-1z"/>
<path fill="#a1a1a1" d="M324 403h1v1h-1zM324 404h1v1h-1zM325 417h1v1h-1zM325 418h1v1h-1z"/>
<path fill="#a3a3a3" d="M324 405h1v1h-1zM324 406h1v1h-1zM325 419h1v1h-1zM325 420h1v1h-1z"/>
<path fill="#a5a5a5" d="M324 407h1v1h-1zM324 408h1v1h-1zM325 421h1v1h-1z"/>
<path fill="#a7a7a7" d="M324 409h1v1h-1zM324 410h1v1h-1zM325 422h1v1h-1zM325 423h1v1h-1z"/>
<path fill="#a9a9a9" d="M324 411h1v1h-1zM324 412h1v1h-1zM325 424h1v1h-1z"/>
<path fill="#ababab" d="M324 413h1v1h-1zM325 425h1v1h-1zM325 426h1v1h-1z"/>
<path fill="#adadad" d="M324 414h1v1h-1zM324 415h1v1h-1z"/>
<path fill="#afafaf" d="M324 416h1v1h-1zM324 417h1v1h-1z"/>
<path fill="#b1b1b1" d="M324 418h1v1h-1zM325 427h1v1h-1zM325 429h1v1h-1zM325 430h1v1h-1z"/>
<path fill="#b3b3b3" d="M324 419h1v1h-1zM324 420h1v1h-1zM325 428h1v1h-1zM325 431h1v1h-1zM325 432h1v1h-1z"/>
<path fill="#b5b5b5" d="M324 421h1v1h-1zM324 422h1v1h-1zM325 433h1v1h-1z"/>
<path fill="#b7b7b7" d="M324 423h1v1h-1zM325 434h1v1h-1zM325 435h1v1h-1z"/>
<path fill="#b9b9b9" d="M324 424h1v1h-1zM324 425h1v1h-1zM325 436h1v1h-1zM325 437h1v1h-1z"/>
<path fill="#bbbbbb" d="M324 426h1v1h-1zM325 438h1v1h-1z"/>
<path fill="#bdbdbd" d="M324 427h1v1h-1zM324 428h1v1h-1zM325 439h1v1h-1z"/>
<path fill="#bfbfbf" d="M324 429h1v1h-1zM324 430h1v1h-1z"/>
<path fill="#c1c1c1" d="M324 431h1v1h-1zM324 432h1v1h-1z"/>
<path fill="#c3c3c3" d="M324 433h1v1h-1zM324 434h1v1h-1z"/>
<path fill="#c5c5c5" d="M324 435h1v1h-1zM324 436h1v1h-1z"/>
<path fill="#c7c7c7" d="M324 437h1v1h-1zM324 438h1v1h-1z"/>
<path fill="#c9c9c9" d="M324 439h1v1h-1z"/></g>
<g filter="url(#nz3)"><path fill="#6e6e6e" d="M1064 444h100v2h-100zM1064 446h103v2h-103zM1059 448h3v2h-3zM1064 448h113v2h-113zM1061 450h1v2h-1zM1064 450h108v2h-108z"/>
<path fill="#707070" d="M704 442h34v2h-34zM1042 442h20v2h-20zM1064 442h381v2h-381zM701 444h41v2h-41zM1038 444h24v2h-24zM1164 444h281v2h-281zM703 446h36v2h-36zM1041 446h21v2h-21zM1167 446h278v2h-278zM703 448h36v2h-36zM1041 448h18v2h-18zM1177 448h268v2h-268zM705 450h31v2h-31zM1044 450h17v2h-17zM1172 450h273v2h-273zM709 452h22v2h-22zM1048 452h14v2h-14zM1064 452h381v2h-381zM717 454h6v2h-6zM1054 454h8v2h-8zM1065 454h156v2h-156zM1065 456h110v2h-110z"/>
<path fill="#727272" d="M714 440h13v2h-13zM1052 440h10v2h-10zM1064 440h133v2h-133zM683 442h21v2h-21zM738 442h23v2h-23zM1019 442h23v2h-23zM683 444h18v2h-18zM742 444h19v2h-19zM1019 444h19v2h-19zM687 446h16v2h-16zM739 446h17v2h-17zM1024 446h17v2h-17zM689 448h14v2h-14zM739 448h15v2h-15zM1026 448h15v2h-15zM692 450h13v2h-13zM736 450h14v2h-14zM1030 450h14v2h-14zM696 452h13v2h-13zM731 452h14v2h-14zM1035 452h13v2h-13zM701 454h16v2h-16zM723 454h17v2h-17zM1040 454h14v2h-14zM1221 454h224v2h-224zM706 456h29v2h-29zM1045 456h17v2h-17zM1175 456h270v2h-270zM711 458h18v2h-18zM1050 458h12v2h-12zM1065 458h380v2h-380zM1056 460h5v2h-5zM1065 460h169v2h-169zM1067 462h100v2h-100z"/>
<path fill="#747474" d="M686 440h28v2h-28zM727 440h31v2h-31zM1022 440h30v2h-30zM1197 440h248v2h-248zM667 442h16v2h-16zM761 442h23v2h-23zM996 442h23v2h-23zM667 444h16v2h-16zM761 444h19v2h-19zM1000 444h19v2h-19zM672 446h15v2h-15zM756 446h16v2h-16zM1008 446h16v2h-16zM675 448h14v2h-14zM754 448h14v2h-14zM1012 448h14v2h-14zM679 450h13v2h-13zM750 450h14v2h-14zM1016 450h14v2h-14zM683 452h13v2h-13zM745 452h14v2h-14zM1021 452h14v2h-14zM688 454h13v2h-13zM740 454h13v2h-13zM1027 454h13v2h-13zM693 456h13v2h-13zM735 456h13v2h-13zM1032 456h13v2h-13zM698 458h13v2h-13zM729 458h13v2h-13zM1038 458h12v2h-12zM703 460h34v2h-34zM1042 460h14v2h-14zM1234 460h211v2h-211zM708 462h24v2h-24zM1047 462h14v2h-14zM1065 462h2v2h-2zM1167 462h278v2h-278zM714 464h12v2h-12zM1052 464h9v2h-9zM1065 464h380v2h-380zM1058 466h3v2h-3zM1065 466h380v2h-380z"/>
<path fill="#767676" d="M667 440h19v2h-19zM758 440h29v2h-29zM993 440h29v2h-29zM784 442h26v2h-26zM972 442h24v2h-24zM666 444h1v2h-1zM780 444h20v2h-20zM981 444h19v2h-19zM666 446h6v2h-6zM772 446h17v2h-17zM991 446h17v2h-17zM665 448h10v2h-10zM768 448h15v2h-15zM997 448h15v2h-15zM667 450h12v2h-12zM764 450h14v2h-14zM1002 450h14v2h-14zM671 452h12v2h-12zM759 452h13v2h-13zM1008 452h13v2h-13zM676 454h12v2h-12zM753 454h13v2h-13zM1014 454h13v2h-13zM681 456h12v2h-12zM748 456h12v2h-12zM1020 456h12v2h-12zM686 458h12v2h-12zM742 458h13v2h-13zM1025 458h13v2h-13zM691 460h12v2h-12zM737 460h13v2h-13zM1030 460h12v2h-12zM695 462h13v2h-13zM732 462h13v2h-13zM1035 462h12v2h-12zM700 464h14v2h-14zM726 464h14v2h-14zM1040 464h12v2h-12zM704 466h31v2h-31zM1045 466h13v2h-13zM709 468h21v2h-21zM1049 468h12v2h-12zM1065 468h380v2h-380zM717 470h6v2h-6zM1054 470h7v2h-7zM1065 470h380v2h-380zM1065 472h380v2h-380z"/>
<path fill="#787878" d="M787 440h33v2h-33zM964 440h29v2h-29zM341 442h24v2h-24zM656 442h11v2h-11zM810 442h29v2h-29zM949 442h23v2h-23zM338 444h51v2h-51zM654 444h12v2h-12zM800 444h24v2h-24zM961 444h20v2h-20zM338 446h52v2h-52zM655 446h11v2h-11zM789 446h19v2h-19zM974 446h17v2h-17zM337 448h61v2h-61zM655 448h10v2h-10zM783 448h16v2h-16zM982 448h15v2h-15zM336 450h63v2h-63zM656 450h11v2h-11zM778 450h14v2h-14zM988 450h14v2h-14zM337 452h55v2h-55zM659 452h12v2h-12zM772 452h13v2h-13zM995 452h13v2h-13zM338 454h44v2h-44zM664 454h12v2h-12zM766 454h13v2h-13zM1001 454h13v2h-13zM339 456h35v2h-35zM669 456h12v2h-12zM760 456h13v2h-13zM1007 456h13v2h-13zM340 458h25v2h-25zM674 458h12v2h-12zM755 458h12v2h-12zM1013 458h12v2h-12zM342 460h16v2h-16zM679 460h12v2h-12zM750 460h12v2h-12zM1018 460h12v2h-12zM346 462h3v2h-3zM683 462h12v2h-12zM745 462h12v2h-12zM1023 462h12v2h-12zM688 464h12v2h-12zM740 464h12v2h-12zM1028 464h12v2h-12zM693 466h11v2h-11zM735 466h12v2h-12zM1033 466h12v2h-12zM697 468h12v2h-12zM730 468h12v2h-12zM1038 468h11v2h-11zM702 470h15v2h-15zM723 470h15v2h-15zM1042 470h12v2h-12zM707 472h26v2h-26zM1047 472h14v2h-14zM713 474h13v2h-13zM1052 474h9v2h-9zM1065 474h380v2h-380zM1058 476h3v2h-3zM1065 476h380v2h-380zM1122 478h323v2h-323z"/>
<path fill="#7a7a7a" d="M663 440h4v2h-4zM820 440h37v2h-37zM935 440h29v2h-29zM333 442h8v2h-8zM365 442h61v2h-61zM646 442h10v2h-10zM839 442h29v2h-29zM925 442h24v2h-24zM332 444h6v2h-6zM389 444h38v2h-38zM646 444h8v2h-8zM824 444h25v2h-25zM941 444h20v2h-20zM333 446h5v2h-5zM390 446h35v2h-35zM648 446h7v2h-7zM808 446h21v2h-21zM957 446h17v2h-17zM333 448h4v2h-4zM398 448h28v2h-28zM648 448h7v2h-7zM799 448h18v2h-18zM966 448h16v2h-16zM333 450h3v2h-3zM399 450h26v2h-26zM650 450h6v2h-6zM792 450h16v2h-16zM974 450h14v2h-14zM333 452h4v2h-4zM392 452h31v2h-31zM652 452h7v2h-7zM785 452h14v2h-14zM981 452h14v2h-14zM333 454h5v2h-5zM382 454h38v2h-38zM655 454h9v2h-9zM779 454h13v2h-13zM988 454h13v2h-13zM334 456h5v2h-5zM374 456h41v2h-41zM658 456h11v2h-11zM773 456h13v2h-13zM994 456h13v2h-13zM335 458h5v2h-5zM365 458h44v2h-44zM662 458h12v2h-12zM767 458h13v2h-13zM1000 458h13v2h-13zM335 460h7v2h-7zM358 460h43v2h-43zM667 460h12v2h-12zM762 460h12v2h-12zM1006 460h12v2h-12zM336 462h10v2h-10zM349 462h44v2h-44zM672 462h11v2h-11zM757 462h12v2h-12zM1011 462h12v2h-12zM337 464h48v2h-48zM676 464h12v2h-12zM752 464h11v2h-11zM1017 464h11v2h-11zM338 466h40v2h-40zM681 466h12v2h-12zM747 466h11v2h-11zM1022 466h11v2h-11zM338 468h33v2h-33zM686 468h11v2h-11zM742 468h11v2h-11zM1027 468h11v2h-11zM340 470h24v2h-24zM690 470h12v2h-12zM738 470h11v2h-11zM1031 470h11v2h-11zM341 472h16v2h-16zM695 472h12v2h-12zM733 472h11v2h-11zM1036 472h11v2h-11zM346 474h3v2h-3zM700 474h13v2h-13zM726 474h13v2h-13zM1040 474h12v2h-12zM706 476h27v2h-27zM1045 476h13v2h-13zM715 478h9v2h-9zM1051 478h10v2h-10zM1065 478h57v2h-57zM1057 480h4v2h-4zM1065 480h380v2h-380zM1092 482h353v2h-353z"/>
<path fill="#7c7c7c" d="M334 440h88v2h-88zM646 440h17v2h-17zM857 440h78v2h-78zM329 442h4v2h-4zM426 442h16v2h-16zM640 442h6v2h-6zM868 442h57v2h-57zM329 444h3v2h-3zM427 444h14v2h-14zM641 444h5v2h-5zM849 444h25v2h-25zM921 444h20v2h-20zM330 446h3v2h-3zM425 446h13v2h-13zM643 446h5v2h-5zM829 446h22v2h-22zM939 446h18v2h-18zM330 448h3v2h-3zM426 448h11v2h-11zM644 448h4v2h-4zM817 448h20v2h-20zM950 448h16v2h-16zM330 450h3v2h-3zM425 450h11v2h-11zM645 450h5v2h-5zM808 450h18v2h-18zM959 450h15v2h-15zM330 452h3v2h-3zM423 452h11v2h-11zM647 452h5v2h-5zM799 452h17v2h-17zM967 452h14v2h-14zM331 454h2v2h-2zM420 454h12v2h-12zM649 454h6v2h-6zM792 454h15v2h-15zM974 454h14v2h-14zM1064 454h1v2h-1zM331 456h3v2h-3zM415 456h15v2h-15zM651 456h7v2h-7zM786 456h13v2h-13zM981 456h13v2h-13zM332 458h3v2h-3zM409 458h18v2h-18zM654 458h8v2h-8zM780 458h13v2h-13zM988 458h12v2h-12zM332 460h3v2h-3zM401 460h24v2h-24zM657 460h10v2h-10zM774 460h12v2h-12zM994 460h12v2h-12zM333 462h3v2h-3zM393 462h29v2h-29zM661 462h11v2h-11zM769 462h12v2h-12zM999 462h12v2h-12zM333 464h4v2h-4zM385 464h33v2h-33zM665 464h11v2h-11zM763 464h12v2h-12zM1005 464h12v2h-12zM334 466h4v2h-4zM378 466h36v2h-36zM670 466h11v2h-11zM758 466h12v2h-12zM1010 466h12v2h-12zM334 468h4v2h-4zM371 468h37v2h-37zM674 468h12v2h-12zM753 468h12v2h-12zM1015 468h12v2h-12zM335 470h5v2h-5zM364 470h37v2h-37zM679 470h11v2h-11zM749 470h11v2h-11zM1020 470h11v2h-11zM335 472h6v2h-6zM357 472h37v2h-37zM684 472h11v2h-11zM744 472h11v2h-11zM1025 472h11v2h-11zM336 474h10v2h-10zM349 474h38v2h-38zM689 474h11v2h-11zM739 474h11v2h-11zM1030 474h10v2h-10zM337 476h43v2h-43zM694 476h12v2h-12zM733 476h11v2h-11zM1034 476h11v2h-11zM338 478h34v2h-34zM700 478h15v2h-15zM724 478h14v2h-14zM1039 478h12v2h-12zM340 480h22v2h-22zM708 480h23v2h-23zM1044 480h13v2h-13zM345 482h6v2h-6zM1050 482h11v2h-11zM1065 482h27v2h-27zM1057 484h4v2h-4zM1065 484h380v2h-380zM1084 486h361v2h-361z"/>
<path fill="#7e7e7e" d="M329 440h5v2h-5zM422 440h20v2h-20zM639 440h7v2h-7zM326 442h3v2h-3zM442 442h15v2h-15zM634 442h6v2h-6zM326 444h3v2h-3zM441 444h13v2h-13zM636 444h5v2h-5zM874 444h47v2h-47zM327 446h3v2h-3zM438 446h11v2h-11zM638 446h5v2h-5zM851 446h21v2h-21zM922 446h17v2h-17zM327 448h3v2h-3zM437 448h10v2h-10zM640 448h4v2h-4zM837 448h20v2h-20zM935 448h15v2h-15zM328 450h2v2h-2zM436 450h10v2h-10zM641 450h4v2h-4zM826 450h19v2h-19zM944 450h15v2h-15zM328 452h2v2h-2zM434 452h10v2h-10zM642 452h5v2h-5zM816 452h18v2h-18zM952 452h15v2h-15zM328 454h3v2h-3zM432 454h10v2h-10zM644 454h5v2h-5zM807 454h18v2h-18zM960 454h14v2h-14zM329 456h2v2h-2zM430 456h10v2h-10zM646 456h5v2h-5zM799 456h17v2h-17zM967 456h14v2h-14zM329 458h3v2h-3zM427 458h11v2h-11zM648 458h6v2h-6zM793 458h14v2h-14zM975 458h13v2h-13zM330 460h2v2h-2zM425 460h10v2h-10zM650 460h7v2h-7zM786 460h13v2h-13zM981 460h13v2h-13zM330 462h3v2h-3zM422 462h11v2h-11zM653 462h8v2h-8zM781 462h12v2h-12zM987 462h12v2h-12zM331 464h2v2h-2zM418 464h13v2h-13zM655 464h10v2h-10zM775 464h12v2h-12zM993 464h12v2h-12zM331 466h3v2h-3zM414 466h15v2h-15zM659 466h11v2h-11zM770 466h11v2h-11zM999 466h11v2h-11zM331 468h3v2h-3zM408 468h18v2h-18zM663 468h11v2h-11zM765 468h11v2h-11zM1004 468h11v2h-11zM332 470h3v2h-3zM401 470h23v2h-23zM668 470h11v2h-11zM760 470h11v2h-11zM1009 470h11v2h-11zM332 472h3v2h-3zM394 472h27v2h-27zM672 472h12v2h-12zM755 472h11v2h-11zM1014 472h11v2h-11zM333 474h3v2h-3zM387 474h31v2h-31zM677 474h12v2h-12zM750 474h11v2h-11zM1019 474h11v2h-11zM333 476h4v2h-4zM380 476h34v2h-34zM682 476h12v2h-12zM744 476h11v2h-11zM1024 476h10v2h-10zM334 478h4v2h-4zM372 478h37v2h-37zM688 478h12v2h-12zM738 478h11v2h-11zM1028 478h11v2h-11zM335 480h5v2h-5zM362 480h41v2h-41zM695 480h13v2h-13zM731 480h12v2h-12zM1033 480h11v2h-11zM336 482h9v2h-9zM351 482h45v2h-45zM702 482h34v2h-34zM1038 482h12v2h-12zM337 484h50v2h-50zM711 484h16v2h-16zM1044 484h13v2h-13zM339 486h38v2h-38zM1050 486h11v2h-11zM1065 486h19v2h-19zM341 488h24v2h-24zM1057 488h4v2h-4zM1065 488h380v2h-380zM1080 490h365v2h-365z"/>
<path fill="#818181" d="M326 440h3v2h-3zM442 440h19v2h-19zM633 440h6v2h-6zM322 442h1v2h-1zM457 442h15v2h-15zM629 442h5v2h-5zM454 444h12v2h-12zM632 444h4v2h-4zM326 446h1v2h-1zM449 446h11v2h-11zM634 446h4v2h-4zM872 446h50v2h-50zM326 448h1v2h-1zM447 448h11v2h-11zM636 448h4v2h-4zM857 448h19v2h-19zM919 448h16v2h-16zM326 450h2v2h-2zM446 450h10v2h-10zM637 450h4v2h-4zM845 450h18v2h-18zM929 450h15v2h-15zM327 452h1v2h-1zM444 452h10v2h-10zM638 452h4v2h-4zM834 452h18v2h-18zM938 452h14v2h-14zM327 454h1v2h-1zM442 454h10v2h-10zM640 454h4v2h-4zM825 454h18v2h-18zM946 454h14v2h-14zM327 456h2v2h-2zM440 456h10v2h-10zM642 456h4v2h-4zM816 456h17v2h-17zM953 456h14v2h-14zM327 458h2v2h-2zM438 458h10v2h-10zM643 458h5v2h-5zM807 458h17v2h-17zM961 458h14v2h-14zM328 460h2v2h-2zM435 460h10v2h-10zM645 460h5v2h-5zM799 460h16v2h-16zM968 460h13v2h-13zM328 462h2v2h-2zM433 462h10v2h-10zM647 462h6v2h-6zM793 462h14v2h-14zM975 462h12v2h-12zM328 464h3v2h-3zM431 464h10v2h-10zM649 464h6v2h-6zM787 464h12v2h-12zM981 464h12v2h-12zM329 466h2v2h-2zM429 466h10v2h-10zM652 466h7v2h-7zM781 466h12v2h-12zM987 466h12v2h-12zM329 468h2v2h-2zM426 468h11v2h-11zM654 468h9v2h-9zM776 468h11v2h-11zM993 468h11v2h-11zM330 470h2v2h-2zM424 470h11v2h-11zM658 470h10v2h-10zM771 470h11v2h-11zM998 470h11v2h-11zM330 472h2v2h-2zM421 472h12v2h-12zM662 472h10v2h-10zM766 472h11v2h-11zM1003 472h11v2h-11zM330 474h3v2h-3zM418 474h13v2h-13zM666 474h11v2h-11zM761 474h10v2h-10zM1008 474h11v2h-11zM331 476h2v2h-2zM414 476h15v2h-15zM671 476h11v2h-11zM755 476h11v2h-11zM1013 476h11v2h-11zM331 478h3v2h-3zM409 478h18v2h-18zM676 478h12v2h-12zM749 478h11v2h-11zM1017 478h11v2h-11zM332 480h3v2h-3zM403 480h22v2h-22zM682 480h13v2h-13zM743 480h11v2h-11zM1022 480h11v2h-11zM333 482h3v2h-3zM396 482h27v2h-27zM689 482h13v2h-13zM736 482h12v2h-12zM1027 482h11v2h-11zM334 484h3v2h-3zM387 484h34v2h-34zM696 484h15v2h-15zM727 484h14v2h-14zM1032 484h12v2h-12zM334 486h5v2h-5zM377 486h42v2h-42zM704 486h29v2h-29zM1038 486h12v2h-12zM335 488h6v2h-6zM365 488h50v2h-50zM1043 488h14v2h-14zM336 490h74v2h-74zM1050 490h11v2h-11zM1065 490h15v2h-15zM338 492h63v2h-63zM1057 492h4v2h-4zM1065 492h380v2h-380zM339 494h49v2h-49zM1078 494h367v2h-367zM342 496h28v2h-28zM1135 496h310v2h-310z"/>
<path fill="#838383" d="M320 440h3v2h-3zM461 440h18v2h-18zM626 440h7v2h-7zM318 442h4v2h-4zM472 442h15v2h-15zM624 442h5v2h-5zM320 444h3v2h-3zM466 444h13v2h-13zM627 444h5v2h-5zM322 446h1v2h-1zM460 446h12v2h-12zM630 446h4v2h-4zM458 448h10v2h-10zM632 448h4v2h-4zM876 448h43v2h-43zM456 450h10v2h-10zM633 450h4v2h-4zM863 450h19v2h-19zM914 450h15v2h-15zM454 452h10v2h-10zM635 452h3v2h-3zM852 452h19v2h-19zM924 452h14v2h-14zM452 454h10v2h-10zM636 454h4v2h-4zM843 454h18v2h-18zM932 454h14v2h-14zM450 456h10v2h-10zM638 456h4v2h-4zM833 456h18v2h-18zM939 456h14v2h-14zM448 458h9v2h-9zM639 458h4v2h-4zM824 458h17v2h-17zM947 458h14v2h-14zM327 460h1v2h-1zM445 460h10v2h-10zM641 460h4v2h-4zM815 460h17v2h-17zM954 460h14v2h-14zM327 462h1v2h-1zM443 462h10v2h-10zM643 462h4v2h-4zM807 462h16v2h-16zM961 462h14v2h-14zM327 464h1v2h-1zM441 464h10v2h-10zM644 464h5v2h-5zM799 464h15v2h-15zM968 464h13v2h-13zM327 466h2v2h-2zM439 466h10v2h-10zM646 466h6v2h-6zM793 466h13v2h-13zM975 466h12v2h-12zM327 468h2v2h-2zM437 468h10v2h-10zM648 468h6v2h-6zM787 468h12v2h-12zM981 468h12v2h-12zM328 470h2v2h-2zM435 470h10v2h-10zM651 470h7v2h-7zM782 470h11v2h-11zM987 470h11v2h-11zM328 472h2v2h-2zM433 472h10v2h-10zM653 472h9v2h-9zM777 472h10v2h-10zM992 472h11v2h-11zM328 474h2v2h-2zM431 474h10v2h-10zM656 474h10v2h-10zM771 474h11v2h-11zM997 474h11v2h-11zM329 476h2v2h-2zM429 476h10v2h-10zM660 476h11v2h-11zM766 476h11v2h-11zM1002 476h11v2h-11zM329 478h2v2h-2zM427 478h11v2h-11zM664 478h12v2h-12zM760 478h12v2h-12zM1007 478h10v2h-10zM330 480h2v2h-2zM425 480h11v2h-11zM669 480h13v2h-13zM754 480h12v2h-12zM1011 480h11v2h-11zM330 482h3v2h-3zM423 482h12v2h-12zM675 482h14v2h-14zM748 482h12v2h-12zM1016 482h11v2h-11zM331 484h3v2h-3zM421 484h13v2h-13zM682 484h14v2h-14zM741 484h12v2h-12zM1021 484h11v2h-11zM331 486h3v2h-3zM419 486h13v2h-13zM689 486h15v2h-15zM733 486h13v2h-13zM1026 486h12v2h-12zM332 488h3v2h-3zM415 488h16v2h-16zM698 488h40v2h-40zM1031 488h12v2h-12zM333 490h3v2h-3zM410 490h19v2h-19zM708 490h21v2h-21zM1037 490h13v2h-13zM334 492h4v2h-4zM401 492h27v2h-27zM1043 492h14v2h-14zM334 494h5v2h-5zM388 494h38v2h-38zM1049 494h12v2h-12zM1066 494h12v2h-12zM335 496h7v2h-7zM370 496h54v2h-54zM1057 496h4v2h-4zM1066 496h69v2h-69zM337 498h84v2h-84zM1077 498h368v2h-368zM338 500h80v2h-80zM1125 500h320v2h-320zM340 502h72v2h-72zM344 504h43v2h-43z"/>
<path fill="#858585" d="M315 440h5v2h-5zM479 440h19v2h-19zM620 440h6v2h-6zM313 442h5v2h-5zM487 442h15v2h-15zM619 442h5v2h-5zM317 444h3v2h-3zM479 444h13v2h-13zM624 444h3v2h-3zM319 446h3v2h-3zM472 446h11v2h-11zM626 446h4v2h-4zM320 448h3v2h-3zM468 448h11v2h-11zM628 448h4v2h-4zM321 450h2v2h-2zM466 450h10v2h-10zM630 450h3v2h-3zM882 450h32v2h-32zM322 452h1v2h-1zM464 452h10v2h-10zM631 452h4v2h-4zM871 452h18v2h-18zM908 452h16v2h-16zM322 454h1v2h-1zM462 454h9v2h-9zM633 454h3v2h-3zM861 454h17v2h-17zM917 454h15v2h-15zM460 456h9v2h-9zM634 456h4v2h-4zM851 456h17v2h-17zM925 456h14v2h-14zM457 458h10v2h-10zM635 458h4v2h-4zM841 458h18v2h-18zM933 458h14v2h-14zM455 460h10v2h-10zM637 460h4v2h-4zM832 460h17v2h-17zM941 460h13v2h-13zM453 462h10v2h-10zM638 462h5v2h-5zM823 462h17v2h-17zM948 462h13v2h-13zM451 464h10v2h-10zM640 464h4v2h-4zM814 464h17v2h-17zM955 464h13v2h-13zM449 466h10v2h-10zM642 466h4v2h-4zM806 466h16v2h-16zM962 466h13v2h-13zM447 468h10v2h-10zM644 468h4v2h-4zM799 468h15v2h-15zM969 468h12v2h-12zM327 470h1v2h-1zM445 470h9v2h-9zM645 470h6v2h-6zM793 470h13v2h-13zM975 470h12v2h-12zM327 472h1v2h-1zM443 472h9v2h-9zM647 472h6v2h-6zM787 472h12v2h-12zM981 472h11v2h-11zM327 474h1v2h-1zM441 474h10v2h-10zM650 474h6v2h-6zM782 474h11v2h-11zM986 474h11v2h-11zM328 476h1v2h-1zM439 476h10v2h-10zM652 476h8v2h-8zM777 476h11v2h-11zM991 476h11v2h-11zM328 478h1v2h-1zM438 478h10v2h-10zM655 478h9v2h-9zM772 478h11v2h-11zM996 478h11v2h-11zM328 480h2v2h-2zM436 480h11v2h-11zM658 480h11v2h-11zM766 480h11v2h-11zM1000 480h11v2h-11zM328 482h2v2h-2zM435 482h11v2h-11zM662 482h13v2h-13zM760 482h11v2h-11zM1005 482h11v2h-11zM329 484h2v2h-2zM434 484h10v2h-10zM668 484h14v2h-14zM753 484h12v2h-12zM1009 484h12v2h-12zM329 486h2v2h-2zM432 486h11v2h-11zM674 486h15v2h-15zM746 486h12v2h-12zM1014 486h12v2h-12zM330 488h2v2h-2zM431 488h11v2h-11zM682 488h16v2h-16zM738 488h13v2h-13zM1019 488h12v2h-12zM330 490h3v2h-3zM429 490h12v2h-12zM690 490h18v2h-18zM729 490h15v2h-15zM1025 490h12v2h-12zM331 492h3v2h-3zM428 492h11v2h-11zM700 492h35v2h-35zM1030 492h13v2h-13zM331 494h3v2h-3zM426 494h12v2h-12zM713 494h10v2h-10zM1036 494h13v2h-13zM332 496h3v2h-3zM424 496h13v2h-13zM1042 496h15v2h-15zM333 498h4v2h-4zM421 498h14v2h-14zM1049 498h12v2h-12zM1066 498h11v2h-11zM334 500h4v2h-4zM418 500h16v2h-16zM1057 500h4v2h-4zM1066 500h59v2h-59zM335 502h5v2h-5zM412 502h20v2h-20zM1076 502h369v2h-369zM336 504h8v2h-8zM387 504h43v2h-43zM1117 504h328v2h-328zM337 506h91v2h-91zM339 508h85v2h-85zM343 510h72v2h-72z"/>
<path fill="#878787" d="M298 440h17v2h-17zM498 440h20v2h-20zM614 440h6v2h-6zM298 442h15v2h-15zM502 442h16v2h-16zM614 442h5v2h-5zM312 444h5v2h-5zM492 444h13v2h-13zM619 444h1v2h-1zM623 444h1v2h-1zM316 446h3v2h-3zM483 446h11v2h-11zM624 446h2v2h-2zM318 448h2v2h-2zM479 448h10v2h-10zM625 448h3v2h-3zM319 450h2v2h-2zM476 450h10v2h-10zM626 450h4v2h-4zM320 452h2v2h-2zM326 452h1v2h-1zM474 452h9v2h-9zM628 452h3v2h-3zM889 452h19v2h-19zM320 454h2v2h-2zM471 454h10v2h-10zM629 454h4v2h-4zM878 454h39v2h-39zM321 456h2v2h-2zM469 456h10v2h-10zM630 456h4v2h-4zM868 456h18v2h-18zM910 456h15v2h-15zM321 458h2v2h-2zM467 458h10v2h-10zM632 458h3v2h-3zM859 458h17v2h-17zM919 458h14v2h-14zM322 460h1v2h-1zM465 460h10v2h-10zM633 460h4v2h-4zM849 460h18v2h-18zM927 460h14v2h-14zM322 462h1v2h-1zM463 462h10v2h-10zM635 462h3v2h-3zM840 462h17v2h-17zM934 462h14v2h-14zM461 464h10v2h-10zM636 464h4v2h-4zM831 464h17v2h-17zM942 464h13v2h-13zM459 466h9v2h-9zM638 466h4v2h-4zM822 466h17v2h-17zM949 466h13v2h-13zM457 468h9v2h-9zM639 468h5v2h-5zM814 468h16v2h-16zM956 468h13v2h-13zM454 470h10v2h-10zM641 470h4v2h-4zM806 470h16v2h-16zM963 470h12v2h-12zM452 472h10v2h-10zM643 472h4v2h-4zM799 472h15v2h-15zM969 472h12v2h-12zM451 474h10v2h-10zM644 474h6v2h-6zM793 474h13v2h-13zM975 474h11v2h-11zM449 476h10v2h-10zM646 476h6v2h-6zM788 476h12v2h-12zM980 476h11v2h-11zM448 478h10v2h-10zM648 478h7v2h-7zM783 478h11v2h-11zM984 478h12v2h-12zM447 480h10v2h-10zM650 480h8v2h-8zM777 480h12v2h-12zM989 480h11v2h-11zM446 482h10v2h-10zM653 482h9v2h-9zM771 482h12v2h-12zM993 482h12v2h-12zM328 484h1v2h-1zM444 484h11v2h-11zM656 484h12v2h-12zM765 484h12v2h-12zM998 484h11v2h-11zM328 486h1v2h-1zM443 486h11v2h-11zM660 486h14v2h-14zM758 486h13v2h-13zM1002 486h12v2h-12zM328 488h2v2h-2zM442 488h11v2h-11zM666 488h16v2h-16zM751 488h13v2h-13zM1007 488h12v2h-12zM328 490h2v2h-2zM441 490h11v2h-11zM673 490h17v2h-17zM744 490h13v2h-13zM1012 490h13v2h-13zM329 492h2v2h-2zM439 492h12v2h-12zM682 492h18v2h-18zM735 492h14v2h-14zM1018 492h12v2h-12zM329 494h2v2h-2zM438 494h12v2h-12zM691 494h22v2h-22zM723 494h18v2h-18zM1023 494h13v2h-13zM1065 494h1v2h-1zM330 496h2v2h-2zM437 496h11v2h-11zM703 496h28v2h-28zM1029 496h13v2h-13zM330 498h3v2h-3zM435 498h12v2h-12zM1035 498h14v2h-14zM331 500h3v2h-3zM434 500h12v2h-12zM1042 500h15v2h-15zM331 502h4v2h-4zM432 502h13v2h-13zM1048 502h13v2h-13zM1066 502h10v2h-10zM332 504h4v2h-4zM430 504h13v2h-13zM1057 504h4v2h-4zM1066 504h51v2h-51zM333 506h4v2h-4zM428 506h13v2h-13zM1075 506h370v2h-370zM334 508h5v2h-5zM424 508h15v2h-15zM1110 508h335v2h-335zM336 510h7v2h-7zM415 510h19v2h-19zM1143 510h302v2h-302zM338 512h90v2h-90zM342 514h73v2h-73z"/>
<path fill="#898989" d="M207 440h6v2h-6zM217 440h26v2h-26zM247 440h3v2h-3zM254 440h24v2h-24zM282 440h16v2h-16zM518 440h33v2h-33zM612 440h2v2h-2zM207 442h6v2h-6zM217 442h25v2h-25zM248 442h1v2h-1zM255 442h24v2h-24zM281 442h17v2h-17zM518 442h22v2h-22zM543 442h2v2h-2zM613 442h1v2h-1zM1062 442h1v2h-1zM298 444h14v2h-14zM505 444h14v2h-14zM614 444h5v2h-5zM620 444h3v2h-3zM312 446h4v2h-4zM494 446h12v2h-12zM619 446h1v2h-1zM315 448h3v2h-3zM489 448h11v2h-11zM624 448h1v2h-1zM316 450h3v2h-3zM486 450h10v2h-10zM624 450h2v2h-2zM317 452h3v2h-3zM483 452h10v2h-10zM625 452h3v2h-3zM318 454h2v2h-2zM481 454h10v2h-10zM626 454h3v2h-3zM318 456h3v2h-3zM479 456h10v2h-10zM627 456h3v2h-3zM886 456h24v2h-24zM319 458h2v2h-2zM477 458h10v2h-10zM628 458h4v2h-4zM876 458h43v2h-43zM320 460h2v2h-2zM475 460h10v2h-10zM630 460h3v2h-3zM867 460h17v2h-17zM913 460h14v2h-14zM1061 460h1v2h-1zM320 462h2v2h-2zM473 462h10v2h-10zM631 462h4v2h-4zM857 462h17v2h-17zM921 462h13v2h-13zM321 464h2v2h-2zM471 464h9v2h-9zM632 464h4v2h-4zM848 464h17v2h-17zM928 464h14v2h-14zM321 466h1v2h-1zM468 466h10v2h-10zM634 466h4v2h-4zM839 466h16v2h-16zM936 466h13v2h-13zM466 468h10v2h-10zM635 468h4v2h-4zM830 468h16v2h-16zM943 468h13v2h-13zM464 470h10v2h-10zM637 470h4v2h-4zM822 470h16v2h-16zM950 470h13v2h-13zM462 472h10v2h-10zM638 472h5v2h-5zM814 472h16v2h-16zM956 472h13v2h-13zM461 474h9v2h-9zM640 474h4v2h-4zM806 474h16v2h-16zM962 474h13v2h-13zM459 476h10v2h-10zM641 476h5v2h-5zM800 476h15v2h-15zM968 476h12v2h-12zM458 478h10v2h-10zM643 478h5v2h-5zM794 478h14v2h-14zM972 478h12v2h-12zM457 480h10v2h-10zM644 480h6v2h-6zM789 480h12v2h-12zM977 480h12v2h-12zM456 482h10v2h-10zM646 482h7v2h-7zM783 482h12v2h-12zM981 482h12v2h-12zM455 484h11v2h-11zM648 484h8v2h-8zM777 484h12v2h-12zM986 484h12v2h-12zM454 486h11v2h-11zM650 486h10v2h-10zM771 486h13v2h-13zM991 486h11v2h-11zM453 488h11v2h-11zM654 488h12v2h-12zM764 488h13v2h-13zM995 488h12v2h-12zM452 490h11v2h-11zM658 490h15v2h-15zM757 490h14v2h-14zM1000 490h12v2h-12zM328 492h1v2h-1zM451 492h11v2h-11zM663 492h19v2h-19zM749 492h14v2h-14zM1005 492h13v2h-13zM328 494h1v2h-1zM450 494h11v2h-11zM671 494h20v2h-20zM741 494h15v2h-15zM1010 494h13v2h-13zM328 496h2v2h-2zM448 496h12v2h-12zM681 496h22v2h-22zM731 496h16v2h-16zM1016 496h13v2h-13zM328 498h2v2h-2zM447 498h12v2h-12zM693 498h45v2h-45zM1022 498h13v2h-13zM328 500h3v2h-3zM446 500h12v2h-12zM708 500h18v2h-18zM1028 500h14v2h-14zM329 502h2v2h-2zM445 502h12v2h-12zM1034 502h14v2h-14zM330 504h2v2h-2zM443 504h13v2h-13zM1041 504h16v2h-16zM330 506h3v2h-3zM441 506h13v2h-13zM1048 506h13v2h-13zM1066 506h9v2h-9zM331 508h3v2h-3zM439 508h13v2h-13zM1056 508h5v2h-5zM1066 508h44v2h-44zM332 510h4v2h-4zM434 510h14v2h-14zM1071 510h72v2h-72zM333 512h5v2h-5zM428 512h14v2h-14zM1101 512h344v2h-344zM335 514h7v2h-7zM415 514h20v2h-20zM1130 514h315v2h-315zM337 516h89v2h-89zM342 518h51v2h-51z"/>
<path fill="#8b8b8b" d="M213 440h1v2h-1zM216 440h1v2h-1zM243 440h1v2h-1zM246 440h1v2h-1zM250 440h4v2h-4zM278 440h1v2h-1zM281 440h1v2h-1zM551 440h43v2h-43zM598 440h7v2h-7zM608 440h4v2h-4zM1062 440h1v2h-1zM242 442h1v2h-1zM247 442h1v2h-1zM249 442h2v2h-2zM253 442h2v2h-2zM279 442h2v2h-2zM540 442h3v2h-3zM545 442h31v2h-31zM600 442h6v2h-6zM608 442h2v2h-2zM612 442h1v2h-1zM207 444h6v2h-6zM217 444h19v2h-19zM268 444h11v2h-11zM281 444h17v2h-17zM519 444h20v2h-20zM613 444h1v2h-1zM1062 444h1v2h-1zM300 446h12v2h-12zM506 446h12v2h-12zM615 446h4v2h-4zM620 446h1v2h-1zM623 446h1v2h-1zM1062 446h1v2h-1zM309 448h6v2h-6zM500 448h10v2h-10zM617 448h3v2h-3zM623 448h1v2h-1zM312 450h4v2h-4zM496 450h10v2h-10zM314 452h3v2h-3zM493 452h10v2h-10zM623 452h2v2h-2zM315 454h3v2h-3zM491 454h10v2h-10zM624 454h2v2h-2zM316 456h2v2h-2zM489 456h10v2h-10zM624 456h3v2h-3zM316 458h3v2h-3zM487 458h10v2h-10zM625 458h3v2h-3zM317 460h3v2h-3zM485 460h10v2h-10zM626 460h4v2h-4zM884 460h29v2h-29zM318 462h2v2h-2zM483 462h9v2h-9zM627 462h4v2h-4zM874 462h19v2h-19zM905 462h16v2h-16zM318 464h3v2h-3zM480 464h10v2h-10zM629 464h3v2h-3zM865 464h16v2h-16zM915 464h13v2h-13zM319 466h2v2h-2zM322 466h1v2h-1zM478 466h10v2h-10zM630 466h4v2h-4zM855 466h17v2h-17zM922 466h14v2h-14zM320 468h2v2h-2zM476 468h10v2h-10zM632 468h3v2h-3zM846 468h17v2h-17zM930 468h13v2h-13zM320 470h2v2h-2zM474 470h10v2h-10zM633 470h4v2h-4zM838 470h16v2h-16zM937 470h13v2h-13zM321 472h1v2h-1zM472 472h10v2h-10zM634 472h4v2h-4zM830 472h16v2h-16zM943 472h13v2h-13zM321 474h1v2h-1zM470 474h10v2h-10zM636 474h4v2h-4zM822 474h16v2h-16zM949 474h13v2h-13zM321 476h1v2h-1zM469 476h10v2h-10zM637 476h4v2h-4zM815 476h16v2h-16zM955 476h13v2h-13zM468 478h10v2h-10zM638 478h5v2h-5zM808 478h16v2h-16zM959 478h13v2h-13zM467 480h10v2h-10zM640 480h4v2h-4zM801 480h16v2h-16zM964 480h13v2h-13zM466 482h11v2h-11zM641 482h5v2h-5zM795 482h15v2h-15zM969 482h12v2h-12zM466 484h10v2h-10zM642 484h6v2h-6zM789 484h14v2h-14zM973 484h13v2h-13zM465 486h10v2h-10zM644 486h6v2h-6zM784 486h13v2h-13zM978 486h13v2h-13zM464 488h11v2h-11zM646 488h8v2h-8zM777 488h13v2h-13zM983 488h12v2h-12zM463 490h11v2h-11zM648 490h10v2h-10zM771 490h13v2h-13zM988 490h12v2h-12zM462 492h11v2h-11zM651 492h12v2h-12zM763 492h14v2h-14zM992 492h13v2h-13zM461 494h11v2h-11zM655 494h16v2h-16zM756 494h14v2h-14zM997 494h13v2h-13zM460 496h12v2h-12zM660 496h21v2h-21zM747 496h15v2h-15zM1003 496h13v2h-13zM459 498h12v2h-12zM669 498h24v2h-24zM738 498h16v2h-16zM1008 498h14v2h-14zM458 500h12v2h-12zM681 500h27v2h-27zM726 500h18v2h-18zM1014 500h14v2h-14zM328 502h1v2h-1zM457 502h12v2h-12zM695 502h39v2h-39zM1020 502h14v2h-14zM328 504h2v2h-2zM456 504h12v2h-12zM1026 504h15v2h-15zM328 506h2v2h-2zM454 506h13v2h-13zM1033 506h15v2h-15zM329 508h2v2h-2zM452 508h13v2h-13zM1039 508h17v2h-17zM329 510h3v2h-3zM448 510h13v2h-13zM1046 510h15v2h-15zM1066 510h5v2h-5zM330 512h3v2h-3zM442 512h14v2h-14zM1054 512h7v2h-7zM1066 512h35v2h-35zM331 514h4v2h-4zM435 514h15v2h-15zM1066 514h64v2h-64zM333 516h4v2h-4zM426 516h16v2h-16zM1088 516h357v2h-357zM335 518h7v2h-7zM393 518h41v2h-41zM1117 518h328v2h-328zM337 520h85v2h-85zM1149 520h296v2h-296zM343 522h28v2h-28z"/>
<path fill="#8d8d8d" d="M244 440h2v2h-2zM279 440h2v2h-2zM323 440h1v2h-1zM594 440h4v2h-4zM605 440h1v2h-1zM213 442h1v2h-1zM216 442h1v2h-1zM243 442h1v2h-1zM246 442h1v2h-1zM251 442h2v2h-2zM576 442h18v2h-18zM598 442h2v2h-2zM606 442h2v2h-2zM236 444h7v2h-7zM247 444h3v2h-3zM254 444h14v2h-14zM279 444h2v2h-2zM539 444h1v2h-1zM542 444h25v2h-25zM603 444h2v2h-2zM608 444h1v2h-1zM612 444h1v2h-1zM207 446h6v2h-6zM218 446h9v2h-9zM275 446h2v2h-2zM282 446h7v2h-7zM291 446h9v2h-9zM518 446h14v2h-14zM613 446h2v2h-2zM295 448h14v2h-14zM510 448h13v2h-13zM614 448h3v2h-3zM620 448h1v2h-1zM1062 448h1v2h-1zM305 450h7v2h-7zM506 450h11v2h-11zM616 450h5v2h-5zM623 450h1v2h-1zM308 452h6v2h-6zM503 452h10v2h-10zM617 452h4v2h-4zM310 454h5v2h-5zM501 454h10v2h-10zM619 454h2v2h-2zM623 454h1v2h-1zM312 456h4v2h-4zM499 456h10v2h-10zM313 458h3v2h-3zM497 458h10v2h-10zM624 458h1v2h-1zM314 460h3v2h-3zM495 460h9v2h-9zM625 460h1v2h-1zM315 462h3v2h-3zM492 462h10v2h-10zM625 462h2v2h-2zM893 462h12v2h-12zM1061 462h1v2h-1zM316 464h2v2h-2zM490 464h10v2h-10zM625 464h4v2h-4zM881 464h34v2h-34zM317 466h2v2h-2zM488 466h10v2h-10zM626 466h4v2h-4zM872 466h17v2h-17zM908 466h14v2h-14zM317 468h3v2h-3zM486 468h10v2h-10zM628 468h4v2h-4zM863 468h16v2h-16zM917 468h13v2h-13zM318 470h2v2h-2zM484 470h10v2h-10zM629 470h4v2h-4zM854 470h16v2h-16zM924 470h13v2h-13zM318 472h3v2h-3zM482 472h10v2h-10zM630 472h4v2h-4zM846 472h16v2h-16zM930 472h13v2h-13zM319 474h2v2h-2zM480 474h10v2h-10zM632 474h4v2h-4zM838 474h16v2h-16zM936 474h13v2h-13zM319 476h2v2h-2zM327 476h1v2h-1zM479 476h10v2h-10zM633 476h4v2h-4zM831 476h16v2h-16zM942 476h13v2h-13zM320 478h2v2h-2zM478 478h10v2h-10zM634 478h4v2h-4zM824 478h17v2h-17zM946 478h13v2h-13zM320 480h2v2h-2zM477 480h11v2h-11zM635 480h5v2h-5zM817 480h18v2h-18zM950 480h14v2h-14zM321 482h1v2h-1zM477 482h10v2h-10zM636 482h5v2h-5zM810 482h18v2h-18zM955 482h14v2h-14zM321 484h1v2h-1zM476 484h11v2h-11zM637 484h5v2h-5zM803 484h18v2h-18zM959 484h14v2h-14zM321 486h1v2h-1zM475 486h11v2h-11zM639 486h5v2h-5zM797 486h17v2h-17zM964 486h14v2h-14zM475 488h11v2h-11zM640 488h6v2h-6zM790 488h16v2h-16zM969 488h14v2h-14zM474 490h11v2h-11zM642 490h6v2h-6zM784 490h14v2h-14zM974 490h14v2h-14zM473 492h11v2h-11zM643 492h8v2h-8zM777 492h15v2h-15zM979 492h13v2h-13zM472 494h12v2h-12zM646 494h9v2h-9zM770 494h15v2h-15zM984 494h13v2h-13zM472 496h11v2h-11zM648 496h12v2h-12zM762 496h15v2h-15zM989 496h14v2h-14zM1065 496h1v2h-1zM471 498h12v2h-12zM652 498h17v2h-17zM754 498h16v2h-16zM994 498h14v2h-14zM470 500h12v2h-12zM657 500h24v2h-24zM744 500h17v2h-17zM1000 500h14v2h-14zM469 502h12v2h-12zM666 502h29v2h-29zM734 502h18v2h-18zM1006 502h14v2h-14zM468 504h13v2h-13zM680 504h61v2h-61zM1012 504h14v2h-14zM467 506h12v2h-12zM699 506h31v2h-31zM1018 506h15v2h-15zM465 508h13v2h-13zM1024 508h15v2h-15zM461 510h14v2h-14zM1030 510h16v2h-16zM329 512h1v2h-1zM456 512h14v2h-14zM1036 512h18v2h-18zM329 514h2v2h-2zM450 514h14v2h-14zM1043 514h18v2h-18zM330 516h3v2h-3zM442 516h15v2h-15zM1049 516h12v2h-12zM1066 516h22v2h-22zM331 518h4v2h-4zM434 518h16v2h-16zM1058 518h3v2h-3zM1066 518h51v2h-51zM332 520h5v2h-5zM422 520h19v2h-19zM1075 520h74v2h-74zM334 522h9v2h-9zM371 522h60v2h-60zM1104 522h341v2h-341zM337 524h79v2h-79zM1133 524h312v2h-312zM343 526h17v2h-17z"/>
<path fill="#8f8f8f" d="M214 440h2v2h-2zM606 440h2v2h-2zM594 442h1v2h-1zM597 442h1v2h-1zM610 442h2v2h-2zM213 444h1v2h-1zM216 444h1v2h-1zM250 444h1v2h-1zM253 444h1v2h-1zM540 444h2v2h-2zM567 444h26v2h-26zM598 444h5v2h-5zM605 444h3v2h-3zM609 444h1v2h-1zM213 446h1v2h-1zM216 446h2v2h-2zM227 446h10v2h-10zM239 446h4v2h-4zM247 446h3v2h-3zM254 446h21v2h-21zM277 446h2v2h-2zM281 446h1v2h-1zM289 446h2v2h-2zM532 446h7v2h-7zM543 446h17v2h-17zM612 446h1v2h-1zM621 446h2v2h-2zM207 448h6v2h-6zM217 448h17v2h-17zM270 448h8v2h-8zM282 448h7v2h-7zM290 448h5v2h-5zM523 448h9v2h-9zM536 448h2v2h-2zM612 448h2v2h-2zM285 450h3v2h-3zM291 450h14v2h-14zM517 450h14v2h-14zM613 450h3v2h-3zM293 452h15v2h-15zM513 452h13v2h-13zM614 452h3v2h-3zM621 452h2v2h-2zM301 454h9v2h-9zM511 454h12v2h-12zM615 454h4v2h-4zM621 454h2v2h-2zM304 456h8v2h-8zM509 456h11v2h-11zM616 456h4v2h-4zM623 456h1v2h-1zM307 458h6v2h-6zM507 458h10v2h-10zM617 458h3v2h-3zM309 460h5v2h-5zM504 460h11v2h-11zM624 460h1v2h-1zM311 462h4v2h-4zM502 462h10v2h-10zM624 462h1v2h-1zM312 464h4v2h-4zM500 464h10v2h-10zM624 464h1v2h-1zM313 466h4v2h-4zM498 466h10v2h-10zM624 466h2v2h-2zM889 466h19v2h-19zM314 468h3v2h-3zM496 468h10v2h-10zM625 468h3v2h-3zM879 468h38v2h-38zM315 470h3v2h-3zM494 470h10v2h-10zM625 470h4v2h-4zM870 470h17v2h-17zM910 470h14v2h-14zM316 472h2v2h-2zM492 472h10v2h-10zM627 472h3v2h-3zM862 472h16v2h-16zM918 472h12v2h-12zM317 474h2v2h-2zM490 474h10v2h-10zM628 474h4v2h-4zM854 474h16v2h-16zM924 474h12v2h-12zM317 476h2v2h-2zM489 476h10v2h-10zM629 476h4v2h-4zM847 476h17v2h-17zM929 476h13v2h-13zM318 478h2v2h-2zM488 478h10v2h-10zM630 478h4v2h-4zM841 478h17v2h-17zM933 478h13v2h-13zM318 480h2v2h-2zM488 480h10v2h-10zM631 480h4v2h-4zM835 480h17v2h-17zM937 480h13v2h-13zM318 482h3v2h-3zM487 482h11v2h-11zM631 482h5v2h-5zM828 482h18v2h-18zM941 482h14v2h-14zM319 484h2v2h-2zM487 484h10v2h-10zM632 484h5v2h-5zM821 484h19v2h-19zM945 484h14v2h-14zM319 486h2v2h-2zM486 486h11v2h-11zM633 486h6v2h-6zM814 486h19v2h-19zM949 486h15v2h-15zM320 488h2v2h-2zM486 488h10v2h-10zM635 488h5v2h-5zM806 488h20v2h-20zM954 488h15v2h-15zM320 490h2v2h-2zM485 490h11v2h-11zM636 490h6v2h-6zM798 490h20v2h-20zM959 490h15v2h-15zM320 492h2v2h-2zM484 492h12v2h-12zM637 492h6v2h-6zM792 492h17v2h-17zM964 492h15v2h-15zM321 494h1v2h-1zM484 494h11v2h-11zM639 494h7v2h-7zM785 494h16v2h-16zM969 494h15v2h-15zM483 496h12v2h-12zM641 496h7v2h-7zM777 496h16v2h-16zM975 496h14v2h-14zM483 498h11v2h-11zM643 498h9v2h-9zM770 498h15v2h-15zM980 498h14v2h-14zM482 500h12v2h-12zM645 500h12v2h-12zM761 500h17v2h-17zM986 500h14v2h-14zM481 502h13v2h-13zM648 502h18v2h-18zM752 502h17v2h-17zM991 502h15v2h-15zM481 504h12v2h-12zM653 504h27v2h-27zM741 504h19v2h-19zM997 504h15v2h-15zM479 506h13v2h-13zM661 506h38v2h-38zM730 506h19v2h-19zM1003 506h15v2h-15zM328 508h1v2h-1zM478 508h13v2h-13zM678 508h61v2h-61zM1008 508h16v2h-16zM475 510h13v2h-13zM700 510h27v2h-27zM1014 510h16v2h-16zM470 512h14v2h-14zM1020 512h16v2h-16zM464 514h15v2h-15zM1025 514h18v2h-18zM329 516h1v2h-1zM457 516h15v2h-15zM1031 516h18v2h-18zM329 518h2v2h-2zM450 518h15v2h-15zM1037 518h21v2h-21zM329 520h3v2h-3zM441 520h17v2h-17zM1044 520h17v2h-17zM1066 520h9v2h-9zM330 522h4v2h-4zM431 522h18v2h-18zM1053 522h8v2h-8zM1066 522h38v2h-38zM332 524h5v2h-5zM416 524h23v2h-23zM1066 524h67v2h-67zM334 526h9v2h-9zM360 526h68v2h-68zM1091 526h354v2h-354zM337 528h66v2h-66zM1120 528h325v2h-325zM345 530h6v2h-6zM1161 530h284v2h-284z"/>
<path fill="#919191" d="M214 442h2v2h-2zM244 442h2v2h-2zM323 442h1v2h-1zM595 442h2v2h-2zM243 444h1v2h-1zM246 444h1v2h-1zM593 444h1v2h-1zM611 444h1v2h-1zM237 446h2v2h-2zM250 446h1v2h-1zM253 446h1v2h-1zM279 446h2v2h-2zM539 446h1v2h-1zM542 446h1v2h-1zM560 446h23v2h-23zM599 446h6v2h-6zM609 446h1v2h-1zM213 448h4v2h-4zM234 448h2v2h-2zM240 448h3v2h-3zM247 448h3v2h-3zM254 448h16v2h-16zM289 448h1v2h-1zM532 448h1v2h-1zM535 448h1v2h-1zM538 448h2v2h-2zM543 448h19v2h-19zM611 448h1v2h-1zM621 448h2v2h-2zM207 450h29v2h-29zM240 450h3v2h-3zM248 450h2v2h-2zM254 450h12v2h-12zM269 450h9v2h-9zM282 450h3v2h-3zM288 450h3v2h-3zM531 450h2v2h-2zM535 450h5v2h-5zM543 450h7v2h-7zM612 450h1v2h-1zM621 450h2v2h-2zM1062 450h1v2h-1zM207 452h6v2h-6zM217 452h15v2h-15zM271 452h6v2h-6zM282 452h11v2h-11zM526 452h7v2h-7zM535 452h4v2h-4zM613 452h1v2h-1zM283 454h5v2h-5zM292 454h9v2h-9zM523 454h10v2h-10zM536 454h2v2h-2zM613 454h2v2h-2zM284 456h3v2h-3zM292 456h12v2h-12zM520 456h12v2h-12zM614 456h2v2h-2zM620 456h1v2h-1zM1064 456h1v2h-1zM293 458h14v2h-14zM517 458h14v2h-14zM614 458h3v2h-3zM296 460h1v2h-1zM302 460h7v2h-7zM515 460h13v2h-13zM615 460h5v2h-5zM303 462h8v2h-8zM512 462h13v2h-13zM616 462h4v2h-4zM306 464h6v2h-6zM510 464h12v2h-12zM617 464h2v2h-2zM1061 464h1v2h-1zM308 466h5v2h-5zM508 466h11v2h-11zM310 468h4v2h-4zM506 468h10v2h-10zM624 468h1v2h-1zM312 470h3v2h-3zM504 470h10v2h-10zM623 470h2v2h-2zM887 470h23v2h-23zM313 472h3v2h-3zM502 472h10v2h-10zM624 472h3v2h-3zM878 472h40v2h-40zM314 474h3v2h-3zM500 474h10v2h-10zM625 474h3v2h-3zM870 474h17v2h-17zM910 474h14v2h-14zM314 476h3v2h-3zM499 476h10v2h-10zM625 476h4v2h-4zM864 476h16v2h-16zM916 476h13v2h-13zM315 478h3v2h-3zM498 478h11v2h-11zM626 478h4v2h-4zM858 478h17v2h-17zM920 478h13v2h-13zM315 480h3v2h-3zM498 480h10v2h-10zM626 480h5v2h-5zM852 480h18v2h-18zM924 480h13v2h-13zM316 482h2v2h-2zM498 482h10v2h-10zM627 482h4v2h-4zM846 482h18v2h-18zM927 482h14v2h-14zM316 484h3v2h-3zM497 484h11v2h-11zM628 484h4v2h-4zM840 484h19v2h-19zM931 484h14v2h-14zM317 486h2v2h-2zM497 486h11v2h-11zM629 486h4v2h-4zM833 486h20v2h-20zM935 486h14v2h-14zM317 488h3v2h-3zM496 488h11v2h-11zM629 488h6v2h-6zM826 488h20v2h-20zM939 488h15v2h-15zM318 490h2v2h-2zM496 490h11v2h-11zM630 490h6v2h-6zM818 490h21v2h-21zM944 490h15v2h-15zM318 492h2v2h-2zM496 492h11v2h-11zM632 492h5v2h-5zM809 492h22v2h-22zM948 492h16v2h-16zM319 494h2v2h-2zM495 494h12v2h-12zM633 494h6v2h-6zM801 494h21v2h-21zM953 494h16v2h-16zM319 496h2v2h-2zM495 496h12v2h-12zM634 496h7v2h-7zM793 496h20v2h-20zM958 496h17v2h-17zM319 498h2v2h-2zM494 498h12v2h-12zM636 498h7v2h-7zM785 498h18v2h-18zM964 498h16v2h-16zM1065 498h1v2h-1zM320 500h1v2h-1zM494 500h12v2h-12zM637 500h8v2h-8zM778 500h17v2h-17zM970 500h16v2h-16zM320 502h1v2h-1zM494 502h12v2h-12zM639 502h9v2h-9zM769 502h17v2h-17zM976 502h15v2h-15zM493 504h12v2h-12zM642 504h11v2h-11zM760 504h18v2h-18zM982 504h15v2h-15zM492 506h13v2h-13zM645 506h16v2h-16zM749 506h20v2h-20zM987 506h16v2h-16zM491 508h13v2h-13zM649 508h29v2h-29zM739 508h20v2h-20zM993 508h15v2h-15zM488 510h13v2h-13zM655 510h45v2h-45zM727 510h23v2h-23zM998 510h16v2h-16zM484 512h14v2h-14zM672 512h69v2h-69zM1003 512h17v2h-17zM479 514h14v2h-14zM694 514h37v2h-37zM1008 514h17v2h-17zM472 516h16v2h-16zM1013 516h18v2h-18zM465 518h16v2h-16zM1018 518h19v2h-19zM458 520h16v2h-16zM1024 520h20v2h-20zM329 522h1v2h-1zM449 522h17v2h-17zM1031 522h22v2h-22zM329 524h3v2h-3zM439 524h19v2h-19zM1038 524h23v2h-23zM330 526h4v2h-4zM428 526h20v2h-20zM1047 526h14v2h-14zM1066 526h25v2h-25zM332 528h5v2h-5zM403 528h34v2h-34zM1057 528h4v2h-4zM1066 528h54v2h-54zM334 530h11v2h-11zM351 530h72v2h-72zM1078 530h83v2h-83zM337 532h50v2h-50zM1111 532h334v2h-334z"/>
<path fill="#939393" d="M214 444h2v2h-2zM251 444h2v2h-2zM610 444h1v2h-1zM214 446h2v2h-2zM540 446h2v2h-2zM583 446h11v2h-11zM598 446h1v2h-1zM605 446h1v2h-1zM608 446h1v2h-1zM610 446h2v2h-2zM236 448h1v2h-1zM239 448h1v2h-1zM250 448h1v2h-1zM253 448h1v2h-1zM278 448h1v2h-1zM281 448h1v2h-1zM533 448h2v2h-2zM542 448h1v2h-1zM562 448h21v2h-21zM599 448h6v2h-6zM609 448h2v2h-2zM236 450h1v2h-1zM239 450h1v2h-1zM247 450h1v2h-1zM250 450h1v2h-1zM253 450h1v2h-1zM266 450h3v2h-3zM533 450h2v2h-2zM540 450h3v2h-3zM550 450h17v2h-17zM609 450h3v2h-3zM213 452h1v2h-1zM216 452h1v2h-1zM232 452h5v2h-5zM240 452h4v2h-4zM246 452h5v2h-5zM253 452h14v2h-14zM269 452h2v2h-2zM277 452h1v2h-1zM533 452h2v2h-2zM539 452h21v2h-21zM612 452h1v2h-1zM207 454h6v2h-6zM217 454h20v2h-20zM239 454h5v2h-5zM246 454h4v2h-4zM254 454h12v2h-12zM270 454h8v2h-8zM282 454h1v2h-1zM288 454h1v2h-1zM291 454h1v2h-1zM326 454h1v2h-1zM533 454h3v2h-3zM538 454h1v2h-1zM543 454h15v2h-15zM207 456h6v2h-6zM217 456h19v2h-19zM240 456h3v2h-3zM247 456h2v2h-2zM255 456h11v2h-11zM270 456h8v2h-8zM282 456h2v2h-2zM287 456h1v2h-1zM532 456h1v2h-1zM536 456h3v2h-3zM543 456h11v2h-11zM613 456h1v2h-1zM621 456h2v2h-2zM207 458h5v2h-5zM218 458h5v2h-5zM227 458h6v2h-6zM270 458h8v2h-8zM282 458h6v2h-6zM292 458h1v2h-1zM531 458h1v2h-1zM536 458h2v2h-2zM544 458h5v2h-5zM613 458h1v2h-1zM623 458h1v2h-1zM273 460h5v2h-5zM282 460h6v2h-6zM292 460h4v2h-4zM297 460h5v2h-5zM528 460h4v2h-4zM537 460h1v2h-1zM613 460h2v2h-2zM282 462h5v2h-5zM292 462h6v2h-6zM302 462h1v2h-1zM525 462h6v2h-6zM537 462h1v2h-1zM614 462h2v2h-2zM292 464h6v2h-6zM302 464h4v2h-4zM522 464h9v2h-9zM614 464h3v2h-3zM619 464h1v2h-1zM294 466h3v2h-3zM302 466h6v2h-6zM519 466h12v2h-12zM615 466h5v2h-5zM1061 466h1v2h-1zM303 468h7v2h-7zM516 468h13v2h-13zM616 468h4v2h-4zM623 468h1v2h-1zM304 470h8v2h-8zM514 470h12v2h-12zM618 470h3v2h-3zM622 470h1v2h-1zM307 472h6v2h-6zM512 472h12v2h-12zM619 472h1v2h-1zM623 472h1v2h-1zM309 474h5v2h-5zM510 474h12v2h-12zM624 474h1v2h-1zM887 474h23v2h-23zM310 476h4v2h-4zM509 476h11v2h-11zM624 476h1v2h-1zM880 476h36v2h-36zM311 478h4v2h-4zM509 478h11v2h-11zM625 478h1v2h-1zM875 478h19v2h-19zM904 478h16v2h-16zM312 480h3v2h-3zM508 480h12v2h-12zM625 480h1v2h-1zM870 480h17v2h-17zM909 480h15v2h-15zM312 482h4v2h-4zM508 482h11v2h-11zM625 482h2v2h-2zM864 482h18v2h-18zM913 482h14v2h-14zM313 484h3v2h-3zM508 484h11v2h-11zM625 484h3v2h-3zM859 484h19v2h-19zM917 484h14v2h-14zM314 486h3v2h-3zM508 486h11v2h-11zM624 486h5v2h-5zM853 486h19v2h-19zM920 486h15v2h-15zM314 488h3v2h-3zM507 488h12v2h-12zM625 488h4v2h-4zM846 488h21v2h-21zM924 488h15v2h-15zM315 490h3v2h-3zM507 490h12v2h-12zM625 490h5v2h-5zM839 490h21v2h-21zM928 490h16v2h-16zM315 492h3v2h-3zM507 492h12v2h-12zM626 492h6v2h-6zM831 492h23v2h-23zM933 492h15v2h-15zM316 494h3v2h-3zM507 494h12v2h-12zM627 494h6v2h-6zM822 494h24v2h-24zM937 494h16v2h-16zM316 496h3v2h-3zM507 496h12v2h-12zM628 496h6v2h-6zM813 496h25v2h-25zM942 496h16v2h-16zM317 498h2v2h-2zM506 498h13v2h-13zM629 498h7v2h-7zM803 498h25v2h-25zM947 498h17v2h-17zM317 500h3v2h-3zM506 500h13v2h-13zM630 500h7v2h-7zM795 500h23v2h-23zM952 500h18v2h-18zM318 502h2v2h-2zM506 502h13v2h-13zM632 502h7v2h-7zM786 502h21v2h-21zM958 502h18v2h-18zM318 504h3v2h-3zM505 504h14v2h-14zM633 504h9v2h-9zM778 504h19v2h-19zM964 504h18v2h-18zM319 506h2v2h-2zM505 506h14v2h-14zM635 506h10v2h-10zM769 506h19v2h-19zM970 506h17v2h-17zM319 508h2v2h-2zM504 508h14v2h-14zM638 508h11v2h-11zM759 508h20v2h-20zM976 508h17v2h-17zM320 510h1v2h-1zM501 510h14v2h-14zM641 510h14v2h-14zM750 510h21v2h-21zM982 510h16v2h-16zM498 512h14v2h-14zM645 512h27v2h-27zM741 512h22v2h-22zM986 512h17v2h-17zM493 514h15v2h-15zM651 514h43v2h-43zM731 514h24v2h-24zM990 514h18v2h-18zM488 516h15v2h-15zM662 516h85v2h-85zM995 516h18v2h-18zM481 518h16v2h-16zM684 518h54v2h-54zM999 518h19v2h-19zM474 520h17v2h-17zM707 520h18v2h-18zM1004 520h20v2h-20zM466 522h18v2h-18zM1010 522h21v2h-21zM458 524h18v2h-18zM1016 524h22v2h-22zM329 526h1v2h-1zM448 526h20v2h-20zM1023 526h24v2h-24zM329 528h3v2h-3zM437 528h21v2h-21zM1031 528h26v2h-26zM329 530h5v2h-5zM423 530h24v2h-24zM1040 530h21v2h-21zM1066 530h12v2h-12zM331 532h6v2h-6zM387 532h47v2h-47zM1052 532h9v2h-9zM1066 532h45v2h-45zM334 534h80v2h-80zM1075 534h370v2h-370zM340 536h23v2h-23zM1122 536h323v2h-323z"/>
<path fill="#959595" d="M323 444h1v2h-1zM594 444h1v2h-1zM597 444h1v2h-1zM243 446h1v2h-1zM246 446h1v2h-1zM251 446h2v2h-2zM237 448h2v2h-2zM243 448h1v2h-1zM246 448h1v2h-1zM251 448h2v2h-2zM540 448h2v2h-2zM583 448h11v2h-11zM598 448h1v2h-1zM243 450h1v2h-1zM246 450h1v2h-1zM251 450h2v2h-2zM278 450h1v2h-1zM281 450h1v2h-1zM567 450h26v2h-26zM599 450h6v2h-6zM214 452h2v2h-2zM239 452h1v2h-1zM244 452h2v2h-2zM251 452h2v2h-2zM267 452h2v2h-2zM560 452h6v2h-6zM569 452h9v2h-9zM581 452h1v2h-1zM599 452h6v2h-6zM213 454h1v2h-1zM216 454h1v2h-1zM237 454h2v2h-2zM244 454h2v2h-2zM250 454h1v2h-1zM253 454h1v2h-1zM266 454h1v2h-1zM269 454h1v2h-1zM290 454h1v2h-1zM539 454h1v2h-1zM542 454h1v2h-1zM558 454h2v2h-2zM562 454h3v2h-3zM570 454h6v2h-6zM601 454h3v2h-3zM236 456h4v2h-4zM243 456h1v2h-1zM246 456h1v2h-1zM249 456h1v2h-1zM254 456h1v2h-1zM266 456h1v2h-1zM269 456h1v2h-1zM281 456h1v2h-1zM288 456h1v2h-1zM291 456h1v2h-1zM535 456h1v2h-1zM554 456h5v2h-5zM563 456h2v2h-2zM571 456h1v2h-1zM212 458h1v2h-1zM217 458h1v2h-1zM223 458h4v2h-4zM233 458h4v2h-4zM239 458h4v2h-4zM247 458h3v2h-3zM254 458h16v2h-16zM278 458h1v2h-1zM281 458h1v2h-1zM538 458h1v2h-1zM543 458h1v2h-1zM549 458h10v2h-10zM620 458h1v2h-1zM207 460h6v2h-6zM217 460h7v2h-7zM226 460h10v2h-10zM240 460h3v2h-3zM247 460h3v2h-3zM254 460h13v2h-13zM269 460h4v2h-4zM278 460h4v2h-4zM536 460h1v2h-1zM538 460h1v2h-1zM543 460h15v2h-15zM207 462h6v2h-6zM217 462h6v2h-6zM227 462h8v2h-8zM241 462h1v2h-1zM248 462h1v2h-1zM255 462h11v2h-11zM270 462h9v2h-9zM281 462h1v2h-1zM287 462h1v2h-1zM298 462h1v2h-1zM301 462h1v2h-1zM531 462h1v2h-1zM536 462h1v2h-1zM538 462h1v2h-1zM543 462h15v2h-15zM613 462h1v2h-1zM207 464h6v2h-6zM217 464h5v2h-5zM228 464h6v2h-6zM264 464h1v2h-1zM271 464h7v2h-7zM282 464h6v2h-6zM531 464h1v2h-1zM536 464h3v2h-3zM543 464h11v2h-11zM613 464h1v2h-1zM271 466h6v2h-6zM282 466h7v2h-7zM291 466h3v2h-3zM297 466h1v2h-1zM531 466h1v2h-1zM536 466h3v2h-3zM543 466h6v2h-6zM613 466h2v2h-2zM623 466h1v2h-1zM283 468h6v2h-6zM291 468h7v2h-7zM302 468h1v2h-1zM529 468h3v2h-3zM536 468h3v2h-3zM543 468h3v2h-3zM613 468h3v2h-3zM620 468h1v2h-1zM284 470h4v2h-4zM292 470h6v2h-6zM302 470h2v2h-2zM526 470h7v2h-7zM536 470h3v2h-3zM614 470h4v2h-4zM621 470h1v2h-1zM293 472h5v2h-5zM302 472h5v2h-5zM524 472h8v2h-8zM536 472h2v2h-2zM615 472h4v2h-4zM620 472h1v2h-1zM295 474h3v2h-3zM301 474h8v2h-8zM522 474h9v2h-9zM616 474h4v2h-4zM302 476h8v2h-8zM520 476h11v2h-11zM617 476h3v2h-3zM303 478h8v2h-8zM327 478h1v2h-1zM520 478h11v2h-11zM617 478h2v2h-2zM624 478h1v2h-1zM894 478h10v2h-10zM305 480h7v2h-7zM520 480h11v2h-11zM617 480h2v2h-2zM624 480h1v2h-1zM887 480h22v2h-22zM306 482h6v2h-6zM519 482h12v2h-12zM618 482h1v2h-1zM624 482h1v2h-1zM882 482h31v2h-31zM308 484h5v2h-5zM519 484h12v2h-12zM618 484h1v2h-1zM624 484h1v2h-1zM878 484h39v2h-39zM309 486h5v2h-5zM519 486h13v2h-13zM619 486h1v2h-1zM623 486h1v2h-1zM872 486h23v2h-23zM902 486h18v2h-18zM310 488h4v2h-4zM519 488h13v2h-13zM623 488h2v2h-2zM867 488h21v2h-21zM908 488h16v2h-16zM311 490h4v2h-4zM519 490h12v2h-12zM624 490h1v2h-1zM860 490h22v2h-22zM913 490h15v2h-15zM311 492h4v2h-4zM519 492h12v2h-12zM624 492h2v2h-2zM854 492h22v2h-22zM917 492h16v2h-16zM312 494h4v2h-4zM519 494h12v2h-12zM625 494h2v2h-2zM846 494h24v2h-24zM921 494h16v2h-16zM313 496h3v2h-3zM519 496h12v2h-12zM625 496h3v2h-3zM838 496h25v2h-25zM925 496h17v2h-17zM314 498h3v2h-3zM519 498h12v2h-12zM625 498h4v2h-4zM828 498h27v2h-27zM930 498h17v2h-17zM314 500h3v2h-3zM519 500h13v2h-13zM625 500h5v2h-5zM818 500h28v2h-28zM934 500h18v2h-18zM1065 500h1v2h-1zM315 502h3v2h-3zM519 502h13v2h-13zM625 502h7v2h-7zM807 502h29v2h-29zM940 502h18v2h-18zM1065 502h1v2h-1zM315 504h3v2h-3zM519 504h15v2h-15zM535 504h1v2h-1zM625 504h8v2h-8zM797 504h28v2h-28zM945 504h19v2h-19zM316 506h3v2h-3zM519 506h18v2h-18zM627 506h8v2h-8zM788 506h24v2h-24zM951 506h19v2h-19zM317 508h2v2h-2zM518 508h18v2h-18zM628 508h10v2h-10zM779 508h22v2h-22zM956 508h20v2h-20zM317 510h3v2h-3zM328 510h1v2h-1zM515 510h18v2h-18zM630 510h11v2h-11zM771 510h22v2h-22zM962 510h20v2h-20zM318 512h3v2h-3zM512 512h17v2h-17zM633 512h12v2h-12zM763 512h23v2h-23zM967 512h19v2h-19zM319 514h2v2h-2zM508 514h16v2h-16zM637 514h14v2h-14zM755 514h24v2h-24zM971 514h19v2h-19zM319 516h2v2h-2zM503 516h16v2h-16zM641 516h21v2h-21zM747 516h25v2h-25zM975 516h20v2h-20zM320 518h1v2h-1zM497 518h16v2h-16zM646 518h38v2h-38zM738 518h27v2h-27zM980 518h19v2h-19zM491 520h16v2h-16zM655 520h52v2h-52zM725 520h31v2h-31zM984 520h20v2h-20zM484 522h17v2h-17zM674 522h72v2h-72zM989 522h21v2h-21zM476 524h19v2h-19zM696 524h39v2h-39zM994 524h22v2h-22zM468 526h19v2h-19zM1000 526h23v2h-23zM458 528h21v2h-21zM1006 528h25v2h-25zM447 530h22v2h-22zM1014 530h26v2h-26zM329 532h2v2h-2zM434 532h24v2h-24zM1023 532h29v2h-29zM329 534h5v2h-5zM414 534h30v2h-30zM1035 534h26v2h-26zM1066 534h9v2h-9zM332 536h8v2h-8zM363 536h65v2h-65zM1052 536h9v2h-9zM1066 536h56v2h-56zM337 538h50v2h-50zM1095 538h350v2h-350z"/>
<path fill="#979797" d="M606 446h2v2h-2zM279 448h2v2h-2zM605 448h1v2h-1zM608 448h1v2h-1zM237 450h2v2h-2zM244 450h2v2h-2zM593 450h1v2h-1zM598 450h1v2h-1zM237 452h2v2h-2zM278 452h1v2h-1zM281 452h1v2h-1zM566 452h3v2h-3zM578 452h3v2h-3zM582 452h12v2h-12zM598 452h1v2h-1zM609 452h1v2h-1zM611 452h1v2h-1zM251 454h2v2h-2zM267 454h2v2h-2zM278 454h1v2h-1zM281 454h1v2h-1zM289 454h1v2h-1zM560 454h2v2h-2zM565 454h1v2h-1zM569 454h1v2h-1zM576 454h2v2h-2zM580 454h14v2h-14zM598 454h3v2h-3zM604 454h1v2h-1zM612 454h1v2h-1zM213 456h1v2h-1zM216 456h1v2h-1zM244 456h2v2h-2zM250 456h1v2h-1zM253 456h1v2h-1zM267 456h2v2h-2zM278 456h1v2h-1zM533 456h2v2h-2zM559 456h1v2h-1zM562 456h1v2h-1zM565 456h1v2h-1zM570 456h1v2h-1zM572 456h5v2h-5zM581 456h13v2h-13zM598 456h7v2h-7zM243 458h1v2h-1zM246 458h1v2h-1zM279 458h2v2h-2zM288 458h1v2h-1zM291 458h1v2h-1zM532 458h1v2h-1zM535 458h1v2h-1zM563 458h2v2h-2zM570 458h6v2h-6zM582 458h4v2h-4zM599 458h7v2h-7zM608 458h1v2h-1zM224 460h2v2h-2zM267 460h2v2h-2zM558 460h1v2h-1zM563 460h2v2h-2zM570 460h6v2h-6zM601 460h5v2h-5zM607 460h2v2h-2zM620 460h1v2h-1zM623 460h1v2h-1zM213 462h1v2h-1zM216 462h1v2h-1zM223 462h1v2h-1zM226 462h1v2h-1zM235 462h1v2h-1zM240 462h1v2h-1zM242 462h1v2h-1zM247 462h1v2h-1zM249 462h1v2h-1zM254 462h1v2h-1zM266 462h1v2h-1zM269 462h1v2h-1zM279 462h2v2h-2zM288 462h1v2h-1zM291 462h1v2h-1zM299 462h2v2h-2zM558 462h1v2h-1zM563 462h2v2h-2zM570 462h4v2h-4zM603 462h2v2h-2zM623 462h1v2h-1zM213 464h1v2h-1zM216 464h1v2h-1zM222 464h1v2h-1zM227 464h1v2h-1zM234 464h2v2h-2zM240 464h3v2h-3zM247 464h3v2h-3zM254 464h10v2h-10zM265 464h1v2h-1zM270 464h1v2h-1zM278 464h1v2h-1zM281 464h1v2h-1zM288 464h1v2h-1zM291 464h1v2h-1zM298 464h1v2h-1zM301 464h1v2h-1zM554 464h6v2h-6zM562 464h4v2h-4zM612 464h1v2h-1zM623 464h1v2h-1zM207 466h16v2h-16zM227 466h9v2h-9zM240 466h3v2h-3zM247 466h3v2h-3zM254 466h7v2h-7zM263 466h3v2h-3zM270 466h1v2h-1zM277 466h1v2h-1zM289 466h2v2h-2zM301 466h1v2h-1zM539 466h1v2h-1zM542 466h1v2h-1zM549 466h11v2h-11zM563 466h2v2h-2zM611 466h2v2h-2zM620 466h1v2h-1zM207 468h7v2h-7zM216 468h7v2h-7zM227 468h9v2h-9zM240 468h3v2h-3zM247 468h3v2h-3zM254 468h6v2h-6zM264 468h2v2h-2zM270 468h8v2h-8zM282 468h1v2h-1zM289 468h2v2h-2zM322 468h1v2h-1zM532 468h1v2h-1zM535 468h1v2h-1zM539 468h2v2h-2zM542 468h1v2h-1zM546 468h4v2h-4zM552 468h7v2h-7zM612 468h1v2h-1zM621 468h2v2h-2zM1061 468h1v2h-1zM207 470h5v2h-5zM218 470h4v2h-4zM228 470h7v2h-7zM241 470h1v2h-1zM248 470h1v2h-1zM255 470h4v2h-4zM264 470h1v2h-1zM270 470h8v2h-8zM282 470h2v2h-2zM288 470h1v2h-1zM291 470h1v2h-1zM298 470h1v2h-1zM301 470h1v2h-1zM533 470h3v2h-3zM539 470h1v2h-1zM542 470h7v2h-7zM553 470h5v2h-5zM613 470h1v2h-1zM271 472h7v2h-7zM282 472h6v2h-6zM292 472h1v2h-1zM298 472h1v2h-1zM301 472h1v2h-1zM532 472h1v2h-1zM535 472h1v2h-1zM538 472h1v2h-1zM543 472h6v2h-6zM554 472h1v2h-1zM613 472h2v2h-2zM621 472h2v2h-2zM273 474h4v2h-4zM282 474h6v2h-6zM292 474h3v2h-3zM298 474h3v2h-3zM531 474h1v2h-1zM536 474h3v2h-3zM544 474h5v2h-5zM614 474h2v2h-2zM623 474h1v2h-1zM282 476h5v2h-5zM292 476h10v2h-10zM531 476h1v2h-1zM536 476h2v2h-2zM544 476h5v2h-5zM614 476h3v2h-3zM282 478h5v2h-5zM292 478h6v2h-6zM302 478h1v2h-1zM531 478h1v2h-1zM536 478h2v2h-2zM544 478h4v2h-4zM614 478h3v2h-3zM619 478h1v2h-1zM285 480h2v2h-2zM292 480h6v2h-6zM302 480h3v2h-3zM531 480h1v2h-1zM536 480h3v2h-3zM544 480h4v2h-4zM614 480h3v2h-3zM619 480h1v2h-1zM292 482h6v2h-6zM302 482h4v2h-4zM531 482h1v2h-1zM536 482h3v2h-3zM543 482h5v2h-5zM614 482h4v2h-4zM619 482h1v2h-1zM293 484h4v2h-4zM302 484h6v2h-6zM531 484h1v2h-1zM536 484h3v2h-3zM543 484h5v2h-5zM614 484h4v2h-4zM619 484h1v2h-1zM623 484h1v2h-1zM295 486h2v2h-2zM302 486h7v2h-7zM532 486h1v2h-1zM535 486h5v2h-5zM542 486h6v2h-6zM614 486h5v2h-5zM620 486h1v2h-1zM895 486h7v2h-7zM302 488h8v2h-8zM532 488h1v2h-1zM535 488h4v2h-4zM543 488h5v2h-5zM614 488h9v2h-9zM888 488h20v2h-20zM302 490h9v2h-9zM531 490h1v2h-1zM536 490h3v2h-3zM543 490h6v2h-6zM614 490h6v2h-6zM623 490h1v2h-1zM882 490h31v2h-31zM303 492h8v2h-8zM531 492h1v2h-1zM536 492h3v2h-3zM544 492h5v2h-5zM615 492h5v2h-5zM876 492h41v2h-41zM305 494h7v2h-7zM531 494h1v2h-1zM536 494h3v2h-3zM544 494h5v2h-5zM615 494h5v2h-5zM624 494h1v2h-1zM870 494h51v2h-51zM307 496h6v2h-6zM321 496h1v2h-1zM531 496h1v2h-1zM536 496h3v2h-3zM544 496h5v2h-5zM615 496h4v2h-4zM624 496h1v2h-1zM863 496h25v2h-25zM907 496h18v2h-18zM308 498h6v2h-6zM531 498h1v2h-1zM536 498h3v2h-3zM543 498h6v2h-6zM616 498h3v2h-3zM624 498h1v2h-1zM855 498h26v2h-26zM912 498h18v2h-18zM309 500h5v2h-5zM532 500h1v2h-1zM536 500h3v2h-3zM543 500h6v2h-6zM554 500h1v2h-1zM616 500h4v2h-4zM624 500h1v2h-1zM846 500h28v2h-28zM917 500h17v2h-17zM310 502h5v2h-5zM532 502h8v2h-8zM542 502h7v2h-7zM554 502h2v2h-2zM617 502h3v2h-3zM624 502h1v2h-1zM836 502h30v2h-30zM921 502h19v2h-19zM311 504h4v2h-4zM534 504h1v2h-1zM536 504h4v2h-4zM543 504h7v2h-7zM553 504h4v2h-4zM617 504h4v2h-4zM623 504h2v2h-2zM825 504h31v2h-31zM926 504h19v2h-19zM1065 504h1v2h-1zM312 506h4v2h-4zM537 506h2v2h-2zM543 506h14v2h-14zM618 506h2v2h-2zM623 506h4v2h-4zM812 506h34v2h-34zM931 506h20v2h-20zM1065 506h1v2h-1zM313 508h4v2h-4zM536 508h3v2h-3zM543 508h14v2h-14zM624 508h4v2h-4zM801 508h34v2h-34zM936 508h20v2h-20zM1065 508h1v2h-1zM314 510h3v2h-3zM533 510h5v2h-5zM544 510h11v2h-11zM624 510h6v2h-6zM793 510h32v2h-32zM941 510h21v2h-21zM315 512h3v2h-3zM529 512h9v2h-9zM544 512h8v2h-8zM624 512h9v2h-9zM786 512h29v2h-29zM945 512h22v2h-22zM315 514h4v2h-4zM524 514h14v2h-14zM544 514h3v2h-3zM625 514h12v2h-12zM779 514h27v2h-27zM949 514h22v2h-22zM316 516h3v2h-3zM519 516h19v2h-19zM628 516h13v2h-13zM772 516h27v2h-27zM953 516h22v2h-22zM317 518h3v2h-3zM513 518h22v2h-22zM632 518h14v2h-14zM765 518h27v2h-27zM957 518h23v2h-23zM318 520h3v2h-3zM507 520h21v2h-21zM636 520h19v2h-19zM756 520h30v2h-30zM961 520h23v2h-23zM319 522h2v2h-2zM501 522h19v2h-19zM641 522h33v2h-33zM746 522h32v2h-32zM966 522h23v2h-23zM320 524h1v2h-1zM495 524h19v2h-19zM649 524h47v2h-47zM735 524h34v2h-34zM970 524h24v2h-24zM487 526h20v2h-20zM664 526h95v2h-95zM975 526h25v2h-25zM479 528h21v2h-21zM686 528h60v2h-60zM981 528h25v2h-25zM469 530h22v2h-22zM709 530h20v2h-20zM987 530h27v2h-27zM458 532h23v2h-23zM994 532h29v2h-29zM444 534h26v2h-26zM1004 534h31v2h-31zM329 536h3v2h-3zM428 536h27v2h-27zM1019 536h33v2h-33zM331 538h6v2h-6zM387 538h51v2h-51zM1038 538h23v2h-23zM1066 538h29v2h-29zM335 540h79v2h-79zM1066 540h379v2h-379z"/>
<path fill="#999999" d="M1063 440h1v2h-1zM1063 442h1v2h-1zM244 444h2v2h-2zM1063 444h1v2h-1zM608 450h1v2h-1zM610 452h1v2h-1zM214 454h2v2h-2zM540 454h2v2h-2zM578 454h2v2h-2zM594 454h1v2h-1zM597 454h1v2h-1zM609 454h1v2h-1zM539 456h1v2h-1zM542 456h1v2h-1zM560 456h1v2h-1zM569 456h1v2h-1zM577 456h1v2h-1zM594 456h1v2h-1zM596 456h2v2h-2zM605 456h1v2h-1zM608 456h1v2h-1zM612 456h1v2h-1zM213 458h1v2h-1zM216 458h1v2h-1zM237 458h2v2h-2zM250 458h1v2h-1zM253 458h1v2h-1zM559 458h1v2h-1zM562 458h1v2h-1zM565 458h1v2h-1zM569 458h1v2h-1zM576 458h1v2h-1zM581 458h1v2h-1zM586 458h8v2h-8zM598 458h1v2h-1zM606 458h2v2h-2zM213 460h1v2h-1zM216 460h1v2h-1zM236 460h1v2h-1zM239 460h1v2h-1zM288 460h1v2h-1zM291 460h1v2h-1zM559 460h1v2h-1zM562 460h1v2h-1zM565 460h1v2h-1zM569 460h1v2h-1zM576 460h1v2h-1zM581 460h13v2h-13zM598 460h3v2h-3zM606 460h1v2h-1zM267 462h2v2h-2zM559 462h1v2h-1zM562 462h1v2h-1zM565 462h1v2h-1zM569 462h1v2h-1zM574 462h3v2h-3zM581 462h12v2h-12zM599 462h4v2h-4zM605 462h1v2h-1zM608 462h1v2h-1zM612 462h1v2h-1zM620 462h1v2h-1zM214 464h2v2h-2zM223 464h1v2h-1zM250 464h1v2h-1zM253 464h1v2h-1zM266 464h1v2h-1zM269 464h1v2h-1zM560 464h2v2h-2zM566 464h1v2h-1zM568 464h9v2h-9zM581 464h9v2h-9zM599 464h6v2h-6zM609 464h1v2h-1zM611 464h1v2h-1zM620 464h1v2h-1zM243 466h1v2h-1zM246 466h1v2h-1zM250 466h1v2h-1zM253 466h1v2h-1zM261 466h2v2h-2zM278 466h1v2h-1zM281 466h1v2h-1zM298 466h1v2h-1zM532 466h1v2h-1zM535 466h1v2h-1zM560 466h3v2h-3zM565 466h1v2h-1zM569 466h8v2h-8zM582 466h1v2h-1zM600 466h5v2h-5zM609 466h2v2h-2zM214 468h2v2h-2zM243 468h4v2h-4zM250 468h4v2h-4zM260 468h1v2h-1zM263 468h1v2h-1zM298 468h1v2h-1zM301 468h1v2h-1zM541 468h1v2h-1zM550 468h2v2h-2zM559 468h1v2h-1zM562 468h3v2h-3zM570 468h2v2h-2zM576 468h1v2h-1zM602 468h2v2h-2zM212 470h2v2h-2zM216 470h2v2h-2zM222 470h2v2h-2zM226 470h2v2h-2zM235 470h2v2h-2zM239 470h2v2h-2zM242 470h6v2h-6zM249 470h2v2h-2zM253 470h2v2h-2zM259 470h2v2h-2zM263 470h1v2h-1zM265 470h1v2h-1zM289 470h2v2h-2zM540 470h2v2h-2zM549 470h1v2h-1zM552 470h1v2h-1zM558 470h2v2h-2zM563 470h2v2h-2zM570 470h1v2h-1zM1061 470h1v2h-1zM207 472h6v2h-6zM217 472h7v2h-7zM226 472h11v2h-11zM239 472h11v2h-11zM254 472h7v2h-7zM263 472h3v2h-3zM270 472h1v2h-1zM288 472h1v2h-1zM291 472h1v2h-1zM299 472h2v2h-2zM533 472h2v2h-2zM549 472h1v2h-1zM552 472h2v2h-2zM555 472h4v2h-4zM563 472h2v2h-2zM207 474h6v2h-6zM217 474h7v2h-7zM226 474h10v2h-10zM240 474h10v2h-10zM254 474h7v2h-7zM263 474h4v2h-4zM269 474h4v2h-4zM277 474h1v2h-1zM281 474h1v2h-1zM532 474h1v2h-1zM535 474h1v2h-1zM543 474h1v2h-1zM549 474h11v2h-11zM563 474h1v2h-1zM613 474h1v2h-1zM620 474h1v2h-1zM207 476h5v2h-5zM218 476h5v2h-5zM227 476h9v2h-9zM240 476h9v2h-9zM255 476h6v2h-6zM263 476h4v2h-4zM269 476h10v2h-10zM280 476h2v2h-2zM287 476h1v2h-1zM538 476h1v2h-1zM543 476h1v2h-1zM549 476h15v2h-15zM613 476h1v2h-1zM207 478h5v2h-5zM218 478h4v2h-4zM228 478h7v2h-7zM241 478h8v2h-8zM255 478h5v2h-5zM264 478h2v2h-2zM270 478h12v2h-12zM287 478h1v2h-1zM298 478h1v2h-1zM301 478h1v2h-1zM538 478h1v2h-1zM543 478h1v2h-1zM548 478h2v2h-2zM553 478h11v2h-11zM613 478h1v2h-1zM270 480h9v2h-9zM281 480h4v2h-4zM287 480h1v2h-1zM543 480h1v2h-1zM548 480h1v2h-1zM553 480h12v2h-12zM613 480h1v2h-1zM271 482h8v2h-8zM281 482h8v2h-8zM291 482h1v2h-1zM548 482h1v2h-1zM553 482h12v2h-12zM612 482h2v2h-2zM271 484h8v2h-8zM281 484h12v2h-12zM297 484h1v2h-1zM532 484h1v2h-1zM535 484h1v2h-1zM539 484h1v2h-1zM542 484h1v2h-1zM548 484h1v2h-1zM553 484h12v2h-12zM612 484h2v2h-2zM620 484h1v2h-1zM272 486h17v2h-17zM291 486h4v2h-4zM297 486h1v2h-1zM533 486h2v2h-2zM540 486h2v2h-2zM548 486h1v2h-1zM553 486h12v2h-12zM613 486h1v2h-1zM621 486h2v2h-2zM275 488h13v2h-13zM292 488h6v2h-6zM301 488h1v2h-1zM533 488h2v2h-2zM539 488h1v2h-1zM542 488h1v2h-1zM548 488h1v2h-1zM553 488h12v2h-12zM613 488h1v2h-1zM279 490h9v2h-9zM292 490h7v2h-7zM301 490h1v2h-1zM532 490h1v2h-1zM535 490h1v2h-1zM549 490h1v2h-1zM552 490h13v2h-13zM613 490h1v2h-1zM620 490h1v2h-1zM282 492h5v2h-5zM293 492h10v2h-10zM543 492h1v2h-1zM549 492h16v2h-16zM613 492h2v2h-2zM285 494h2v2h-2zM293 494h5v2h-5zM301 494h4v2h-4zM543 494h1v2h-1zM549 494h1v2h-1zM552 494h13v2h-13zM613 494h2v2h-2zM293 496h5v2h-5zM302 496h5v2h-5zM543 496h1v2h-1zM553 496h12v2h-12zM570 496h1v2h-1zM613 496h2v2h-2zM619 496h1v2h-1zM888 496h19v2h-19zM293 498h4v2h-4zM302 498h6v2h-6zM553 498h13v2h-13zM570 498h1v2h-1zM613 498h3v2h-3zM619 498h1v2h-1zM881 498h31v2h-31zM295 500h2v2h-2zM303 500h6v2h-6zM535 500h1v2h-1zM539 500h1v2h-1zM542 500h1v2h-1zM553 500h1v2h-1zM555 500h11v2h-11zM570 500h2v2h-2zM612 500h4v2h-4zM874 500h43v2h-43zM303 502h7v2h-7zM540 502h2v2h-2zM549 502h1v2h-1zM552 502h2v2h-2zM556 502h9v2h-9zM570 502h1v2h-1zM613 502h4v2h-4zM620 502h1v2h-1zM623 502h1v2h-1zM866 502h55v2h-55zM303 504h8v2h-8zM542 504h1v2h-1zM550 504h3v2h-3zM557 504h8v2h-8zM570 504h1v2h-1zM613 504h4v2h-4zM621 504h2v2h-2zM856 504h33v2h-33zM905 504h21v2h-21zM304 506h8v2h-8zM557 506h8v2h-8zM570 506h1v2h-1zM614 506h4v2h-4zM620 506h1v2h-1zM622 506h1v2h-1zM846 506h34v2h-34zM911 506h20v2h-20zM306 508h7v2h-7zM557 508h8v2h-8zM570 508h1v2h-1zM614 508h7v2h-7zM623 508h1v2h-1zM835 508h37v2h-37zM916 508h20v2h-20zM308 510h6v2h-6zM538 510h1v2h-1zM543 510h1v2h-1zM555 510h10v2h-10zM570 510h1v2h-1zM614 510h6v2h-6zM623 510h1v2h-1zM825 510h38v2h-38zM920 510h21v2h-21zM1065 510h1v2h-1zM309 512h6v2h-6zM538 512h1v2h-1zM543 512h1v2h-1zM552 512h13v2h-13zM570 512h2v2h-2zM614 512h7v2h-7zM623 512h1v2h-1zM815 512h41v2h-41zM923 512h22v2h-22zM1065 512h1v2h-1zM311 514h4v2h-4zM538 514h1v2h-1zM543 514h1v2h-1zM547 514h18v2h-18zM614 514h11v2h-11zM806 514h42v2h-42zM927 514h22v2h-22zM312 516h4v2h-4zM538 516h1v2h-1zM543 516h22v2h-22zM616 516h12v2h-12zM799 516h42v2h-42zM930 516h23v2h-23zM313 518h4v2h-4zM535 518h5v2h-5zM543 518h19v2h-19zM618 518h14v2h-14zM792 518h42v2h-42zM933 518h24v2h-24zM314 520h4v2h-4zM528 520h12v2h-12zM543 520h13v2h-13zM622 520h14v2h-14zM786 520h39v2h-39zM937 520h24v2h-24zM315 522h4v2h-4zM520 522h19v2h-19zM544 522h5v2h-5zM625 522h16v2h-16zM778 522h38v2h-38zM940 522h26v2h-26zM316 524h4v2h-4zM514 524h24v2h-24zM630 524h19v2h-19zM769 524h37v2h-37zM944 524h26v2h-26zM317 526h4v2h-4zM507 526h25v2h-25zM635 526h29v2h-29zM759 526h38v2h-38zM949 526h26v2h-26zM318 528h3v2h-3zM500 528h23v2h-23zM643 528h43v2h-43zM746 528h41v2h-41zM953 528h28v2h-28zM320 530h1v2h-1zM491 530h23v2h-23zM655 530h54v2h-54zM729 530h47v2h-47zM958 530h29v2h-29zM481 532h24v2h-24zM676 532h85v2h-85zM965 532h29v2h-29zM470 534h25v2h-25zM701 534h40v2h-40zM974 534h30v2h-30zM455 536h27v2h-27zM986 536h33v2h-33zM329 538h2v2h-2zM438 538h29v2h-29zM1002 538h36v2h-36zM330 540h5v2h-5zM414 540h35v2h-35zM1023 540h38v2h-38zM334 542h95v2h-95zM1048 542h13v2h-13zM1066 542h379v2h-379zM1135 544h310v2h-310z"/>
<path fill="#9b9b9b" d="M595 444h2v2h-2zM594 446h1v2h-1zM597 446h1v2h-1zM1063 446h1v2h-1zM244 448h2v2h-2zM1063 448h1v2h-1zM605 450h1v2h-1zM594 452h1v2h-1zM597 452h1v2h-1zM608 452h1v2h-1zM566 454h1v2h-1zM568 454h1v2h-1zM595 454h2v2h-2zM605 454h1v2h-1zM608 454h1v2h-1zM279 456h2v2h-2zM289 456h2v2h-2zM561 456h1v2h-1zM580 456h1v2h-1zM595 456h1v2h-1zM609 456h1v2h-1zM539 458h1v2h-1zM542 458h1v2h-1zM594 458h1v2h-1zM597 458h1v2h-1zM612 458h1v2h-1zM622 458h1v2h-1zM243 460h1v2h-1zM246 460h1v2h-1zM250 460h1v2h-1zM253 460h1v2h-1zM532 460h1v2h-1zM535 460h1v2h-1zM612 460h1v2h-1zM224 462h2v2h-2zM236 462h1v2h-1zM239 462h1v2h-1zM243 462h1v2h-1zM246 462h1v2h-1zM250 462h1v2h-1zM253 462h1v2h-1zM532 462h1v2h-1zM535 462h1v2h-1zM560 462h2v2h-2zM593 462h1v2h-1zM598 462h1v2h-1zM606 462h2v2h-2zM609 462h1v2h-1zM226 464h1v2h-1zM243 464h1v2h-1zM246 464h1v2h-1zM279 464h2v2h-2zM289 464h2v2h-2zM299 464h2v2h-2zM532 464h1v2h-1zM535 464h1v2h-1zM539 464h1v2h-1zM542 464h1v2h-1zM567 464h1v2h-1zM590 464h4v2h-4zM598 464h1v2h-1zM608 464h1v2h-1zM610 464h1v2h-1zM223 466h1v2h-1zM226 466h1v2h-1zM236 466h1v2h-1zM239 466h1v2h-1zM251 466h2v2h-2zM266 466h1v2h-1zM269 466h1v2h-1zM540 466h2v2h-2zM566 466h3v2h-3zM577 466h1v2h-1zM580 466h2v2h-2zM583 466h10v2h-10zM598 466h2v2h-2zM223 468h1v2h-1zM226 468h1v2h-1zM236 468h1v2h-1zM239 468h1v2h-1zM261 468h2v2h-2zM278 468h1v2h-1zM281 468h1v2h-1zM533 468h2v2h-2zM560 468h2v2h-2zM565 468h1v2h-1zM569 468h1v2h-1zM572 468h1v2h-1zM574 468h2v2h-2zM577 468h1v2h-1zM580 468h13v2h-13zM598 468h4v2h-4zM604 468h1v2h-1zM609 468h3v2h-3zM237 470h2v2h-2zM251 470h2v2h-2zM299 470h2v2h-2zM550 470h2v2h-2zM562 470h1v2h-1zM571 470h1v2h-1zM576 470h1v2h-1zM581 470h12v2h-12zM598 470h7v2h-7zM612 470h1v2h-1zM224 472h2v2h-2zM237 472h2v2h-2zM250 472h1v2h-1zM253 472h1v2h-1zM261 472h2v2h-2zM266 472h1v2h-1zM269 472h1v2h-1zM278 472h1v2h-1zM281 472h1v2h-1zM539 472h1v2h-1zM542 472h1v2h-1zM550 472h2v2h-2zM559 472h1v2h-1zM562 472h1v2h-1zM570 472h2v2h-2zM576 472h1v2h-1zM582 472h6v2h-6zM599 472h6v2h-6zM224 474h2v2h-2zM236 474h4v2h-4zM261 474h2v2h-2zM267 474h2v2h-2zM278 474h1v2h-1zM288 474h1v2h-1zM291 474h1v2h-1zM560 474h3v2h-3zM564 474h1v2h-1zM570 474h1v2h-1zM582 474h3v2h-3zM600 474h5v2h-5zM212 476h1v2h-1zM217 476h1v2h-1zM223 476h1v2h-1zM226 476h1v2h-1zM249 476h1v2h-1zM254 476h1v2h-1zM261 476h2v2h-2zM267 476h2v2h-2zM279 476h1v2h-1zM564 476h1v2h-1zM570 476h1v2h-1zM601 476h5v2h-5zM620 476h1v2h-1zM623 476h1v2h-1zM212 478h1v2h-1zM217 478h1v2h-1zM222 478h1v2h-1zM227 478h1v2h-1zM235 478h1v2h-1zM240 478h1v2h-1zM249 478h1v2h-1zM254 478h1v2h-1zM260 478h1v2h-1zM263 478h1v2h-1zM266 478h1v2h-1zM269 478h1v2h-1zM299 478h2v2h-2zM552 478h1v2h-1zM564 478h1v2h-1zM570 478h2v2h-2zM601 478h5v2h-5zM608 478h1v2h-1zM207 480h6v2h-6zM217 480h6v2h-6zM227 480h9v2h-9zM240 480h10v2h-10zM254 480h6v2h-6zM264 480h2v2h-2zM279 480h2v2h-2zM288 480h1v2h-1zM291 480h1v2h-1zM298 480h1v2h-1zM301 480h1v2h-1zM327 480h1v2h-1zM565 480h1v2h-1zM569 480h3v2h-3zM582 480h1v2h-1zM601 480h4v2h-4zM612 480h1v2h-1zM207 482h7v2h-7zM216 482h7v2h-7zM227 482h9v2h-9zM240 482h10v2h-10zM254 482h6v2h-6zM264 482h2v2h-2zM270 482h1v2h-1zM279 482h2v2h-2zM298 482h1v2h-1zM301 482h1v2h-1zM539 482h1v2h-1zM542 482h1v2h-1zM565 482h2v2h-2zM568 482h5v2h-5zM575 482h2v2h-2zM582 482h2v2h-2zM601 482h3v2h-3zM609 482h3v2h-3zM620 482h1v2h-1zM623 482h1v2h-1zM207 484h16v2h-16zM227 484h9v2h-9zM240 484h11v2h-11zM253 484h7v2h-7zM264 484h2v2h-2zM270 484h1v2h-1zM279 484h2v2h-2zM301 484h1v2h-1zM540 484h2v2h-2zM565 484h1v2h-1zM569 484h3v2h-3zM575 484h2v2h-2zM581 484h4v2h-4zM600 484h4v2h-4zM609 484h3v2h-3zM207 486h6v2h-6zM217 486h6v2h-6zM227 486h9v2h-9zM240 486h11v2h-11zM253 486h7v2h-7zM264 486h2v2h-2zM270 486h2v2h-2zM289 486h2v2h-2zM298 486h1v2h-1zM301 486h1v2h-1zM570 486h2v2h-2zM576 486h1v2h-1zM581 486h6v2h-6zM600 486h4v2h-4zM612 486h1v2h-1zM207 488h6v2h-6zM217 488h6v2h-6zM227 488h9v2h-9zM240 488h10v2h-10zM254 488h6v2h-6zM264 488h2v2h-2zM270 488h5v2h-5zM288 488h1v2h-1zM291 488h1v2h-1zM298 488h1v2h-1zM549 488h1v2h-1zM570 488h1v2h-1zM576 488h1v2h-1zM581 488h7v2h-7zM599 488h5v2h-5zM207 490h6v2h-6zM217 490h6v2h-6zM227 490h9v2h-9zM240 490h9v2h-9zM255 490h5v2h-5zM264 490h2v2h-2zM269 490h10v2h-10zM299 490h2v2h-2zM533 490h2v2h-2zM570 490h1v2h-1zM582 490h8v2h-8zM599 490h6v2h-6zM207 492h5v2h-5zM218 492h4v2h-4zM228 492h7v2h-7zM241 492h8v2h-8zM255 492h5v2h-5zM263 492h19v2h-19zM287 492h1v2h-1zM292 492h1v2h-1zM532 492h1v2h-1zM535 492h1v2h-1zM570 492h1v2h-1zM582 492h10v2h-10zM599 492h6v2h-6zM620 492h1v2h-1zM623 492h1v2h-1zM264 494h21v2h-21zM287 494h1v2h-1zM292 494h1v2h-1zM298 494h3v2h-3zM550 494h2v2h-2zM570 494h2v2h-2zM582 494h11v2h-11zM599 494h7v2h-7zM608 494h1v2h-1zM265 496h23v2h-23zM292 496h1v2h-1zM298 496h1v2h-1zM301 496h1v2h-1zM549 496h1v2h-1zM552 496h1v2h-1zM565 496h1v2h-1zM569 496h1v2h-1zM571 496h1v2h-1zM575 496h2v2h-2zM581 496h12v2h-12zM599 496h6v2h-6zM269 498h19v2h-19zM292 498h1v2h-1zM297 498h1v2h-1zM532 498h1v2h-1zM535 498h1v2h-1zM549 498h1v2h-1zM552 498h1v2h-1zM566 498h1v2h-1zM568 498h2v2h-2zM571 498h2v2h-2zM575 498h2v2h-2zM581 498h12v2h-12zM599 498h6v2h-6zM612 498h1v2h-1zM272 500h17v2h-17zM291 500h4v2h-4zM297 500h1v2h-1zM302 500h1v2h-1zM533 500h2v2h-2zM549 500h1v2h-1zM552 500h1v2h-1zM566 500h1v2h-1zM568 500h2v2h-2zM572 500h1v2h-1zM574 500h4v2h-4zM580 500h13v2h-13zM599 500h6v2h-6zM609 500h3v2h-3zM623 500h1v2h-1zM276 502h13v2h-13zM291 502h7v2h-7zM302 502h1v2h-1zM565 502h1v2h-1zM569 502h1v2h-1zM571 502h1v2h-1zM575 502h18v2h-18zM599 502h5v2h-5zM612 502h1v2h-1zM293 504h5v2h-5zM302 504h1v2h-1zM540 504h2v2h-2zM571 504h1v2h-1zM576 504h18v2h-18zM598 504h7v2h-7zM889 504h16v2h-16zM294 506h5v2h-5zM301 506h3v2h-3zM539 506h1v2h-1zM542 506h1v2h-1zM571 506h1v2h-1zM576 506h18v2h-18zM598 506h7v2h-7zM613 506h1v2h-1zM621 506h1v2h-1zM880 506h31v2h-31zM294 508h5v2h-5zM300 508h6v2h-6zM571 508h1v2h-1zM575 508h19v2h-19zM598 508h8v2h-8zM613 508h1v2h-1zM872 508h44v2h-44zM294 510h4v2h-4zM301 510h7v2h-7zM571 510h2v2h-2zM575 510h19v2h-19zM598 510h11v2h-11zM613 510h1v2h-1zM620 510h1v2h-1zM863 510h57v2h-57zM294 512h3v2h-3zM302 512h7v2h-7zM328 512h1v2h-1zM565 512h1v2h-1zM569 512h1v2h-1zM572 512h21v2h-21zM599 512h10v2h-10zM613 512h1v2h-1zM621 512h2v2h-2zM856 512h67v2h-67zM303 514h8v2h-8zM565 514h1v2h-1zM569 514h24v2h-24zM599 514h10v2h-10zM613 514h1v2h-1zM848 514h79v2h-79zM1065 514h1v2h-1zM303 516h9v2h-9zM539 516h1v2h-1zM565 516h2v2h-2zM568 516h25v2h-25zM599 516h10v2h-10zM612 516h4v2h-4zM841 516h46v2h-46zM905 516h25v2h-25zM1065 516h1v2h-1zM305 518h8v2h-8zM542 518h1v2h-1zM562 518h4v2h-4zM569 518h21v2h-21zM602 518h7v2h-7zM612 518h6v2h-6zM834 518h47v2h-47zM909 518h24v2h-24zM1065 518h1v2h-1zM308 520h6v2h-6zM540 520h3v2h-3zM556 520h9v2h-9zM570 520h16v2h-16zM605 520h3v2h-3zM613 520h9v2h-9zM825 520h50v2h-50zM912 520h25v2h-25zM310 522h5v2h-5zM543 522h1v2h-1zM549 522h16v2h-16zM570 522h11v2h-11zM613 522h12v2h-12zM816 522h52v2h-52zM915 522h25v2h-25zM311 524h5v2h-5zM538 524h1v2h-1zM543 524h22v2h-22zM571 524h5v2h-5zM614 524h16v2h-16zM806 524h55v2h-55zM918 524h26v2h-26zM313 526h4v2h-4zM532 526h7v2h-7zM543 526h21v2h-21zM616 526h19v2h-19zM797 526h55v2h-55zM922 526h27v2h-27zM314 528h4v2h-4zM523 528h15v2h-15zM544 528h18v2h-18zM620 528h23v2h-23zM787 528h56v2h-56zM925 528h28v2h-28zM315 530h5v2h-5zM514 530h24v2h-24zM544 530h9v2h-9zM626 530h29v2h-29zM776 530h56v2h-56zM930 530h28v2h-28zM317 532h4v2h-4zM505 532h33v2h-33zM635 532h41v2h-41zM761 532h57v2h-57zM935 532h30v2h-30zM319 534h2v2h-2zM495 534h28v2h-28zM648 534h53v2h-53zM741 534h61v2h-61zM942 534h32v2h-32zM482 536h27v2h-27zM671 536h111v2h-111zM952 536h34v2h-34zM467 538h28v2h-28zM698 538h55v2h-55zM966 538h36v2h-36zM329 540h1v2h-1zM449 540h30v2h-30zM984 540h39v2h-39zM329 542h5v2h-5zM429 542h32v2h-32zM1006 542h42v2h-42zM333 544h107v2h-107zM1032 544h29v2h-29zM1066 544h69v2h-69zM342 546h44v2h-44zM1094 546h351v2h-351z"/>
<path fill="#9d9d9d" d="M244 446h2v2h-2zM323 446h1v2h-1zM594 448h1v2h-1zM597 448h1v2h-1zM279 450h2v2h-2zM594 450h1v2h-1zM597 450h1v2h-1zM605 452h1v2h-1zM1062 452h1v2h-1zM567 454h1v2h-1zM214 456h2v2h-2zM251 456h2v2h-2zM326 456h1v2h-1zM244 458h2v2h-2zM560 458h2v2h-2zM577 458h1v2h-1zM580 458h1v2h-1zM609 458h1v2h-1zM621 458h1v2h-1zM237 460h2v2h-2zM539 460h1v2h-1zM542 460h1v2h-1zM560 460h2v2h-2zM597 460h1v2h-1zM609 460h1v2h-1zM214 462h2v2h-2zM539 462h1v2h-1zM542 462h1v2h-1zM566 462h1v2h-1zM568 462h1v2h-1zM236 464h1v2h-1zM239 464h1v2h-1zM577 464h1v2h-1zM580 464h1v2h-1zM605 464h1v2h-1zM244 466h2v2h-2zM578 466h2v2h-2zM593 466h1v2h-1zM622 466h1v2h-1zM266 468h1v2h-1zM269 468h1v2h-1zM573 468h1v2h-1zM578 468h2v2h-2zM593 468h1v2h-1zM214 470h2v2h-2zM224 470h2v2h-2zM261 470h2v2h-2zM266 470h1v2h-1zM269 470h1v2h-1zM278 470h1v2h-1zM281 470h1v2h-1zM560 470h2v2h-2zM565 470h1v2h-1zM569 470h1v2h-1zM575 470h1v2h-1zM577 470h1v2h-1zM580 470h1v2h-1zM593 470h1v2h-1zM609 470h1v2h-1zM213 472h1v2h-1zM216 472h1v2h-1zM560 472h2v2h-2zM565 472h1v2h-1zM581 472h1v2h-1zM588 472h7v2h-7zM597 472h2v2h-2zM612 472h1v2h-1zM1061 472h1v2h-1zM213 474h1v2h-1zM216 474h1v2h-1zM250 474h1v2h-1zM253 474h1v2h-1zM279 474h2v2h-2zM539 474h1v2h-1zM571 474h1v2h-1zM576 474h1v2h-1zM581 474h1v2h-1zM585 474h9v2h-9zM597 474h3v2h-3zM605 474h1v2h-1zM608 474h1v2h-1zM621 474h2v2h-2zM224 476h2v2h-2zM236 476h1v2h-1zM239 476h1v2h-1zM288 476h1v2h-1zM291 476h1v2h-1zM532 476h1v2h-1zM535 476h1v2h-1zM565 476h1v2h-1zM569 476h1v2h-1zM571 476h1v2h-1zM576 476h1v2h-1zM581 476h13v2h-13zM598 476h3v2h-3zM606 476h3v2h-3zM213 478h1v2h-1zM216 478h1v2h-1zM223 478h1v2h-1zM226 478h1v2h-1zM261 478h2v2h-2zM267 478h2v2h-2zM288 478h1v2h-1zM291 478h1v2h-1zM550 478h2v2h-2zM565 478h1v2h-1zM569 478h1v2h-1zM575 478h2v2h-2zM581 478h13v2h-13zM598 478h3v2h-3zM606 478h2v2h-2zM612 478h1v2h-1zM620 478h1v2h-1zM623 478h1v2h-1zM213 480h1v2h-1zM216 480h1v2h-1zM260 480h1v2h-1zM263 480h1v2h-1zM266 480h1v2h-1zM269 480h1v2h-1zM539 480h1v2h-1zM549 480h1v2h-1zM552 480h1v2h-1zM566 480h1v2h-1zM568 480h1v2h-1zM572 480h1v2h-1zM575 480h2v2h-2zM581 480h1v2h-1zM583 480h10v2h-10zM599 480h2v2h-2zM605 480h1v2h-1zM608 480h2v2h-2zM620 480h1v2h-1zM623 480h1v2h-1zM214 482h2v2h-2zM250 482h1v2h-1zM253 482h1v2h-1zM289 482h2v2h-2zM532 482h1v2h-1zM535 482h1v2h-1zM567 482h1v2h-1zM573 482h2v2h-2zM577 482h1v2h-1zM581 482h1v2h-1zM584 482h9v2h-9zM598 482h3v2h-3zM604 482h1v2h-1zM251 484h2v2h-2zM298 484h1v2h-1zM566 484h1v2h-1zM572 484h1v2h-1zM574 484h1v2h-1zM577 484h4v2h-4zM585 484h9v2h-9zM598 484h2v2h-2zM604 484h1v2h-1zM622 484h1v2h-1zM213 486h4v2h-4zM223 486h1v2h-1zM226 486h1v2h-1zM236 486h1v2h-1zM239 486h1v2h-1zM251 486h2v2h-2zM565 486h1v2h-1zM569 486h1v2h-1zM575 486h1v2h-1zM577 486h1v2h-1zM580 486h1v2h-1zM587 486h7v2h-7zM598 486h2v2h-2zM604 486h1v2h-1zM609 486h1v2h-1zM213 488h1v2h-1zM216 488h1v2h-1zM223 488h1v2h-1zM226 488h1v2h-1zM236 488h4v2h-4zM250 488h1v2h-1zM253 488h1v2h-1zM260 488h1v2h-1zM263 488h1v2h-1zM266 488h1v2h-1zM269 488h1v2h-1zM299 488h2v2h-2zM540 488h2v2h-2zM552 488h1v2h-1zM565 488h1v2h-1zM569 488h1v2h-1zM571 488h1v2h-1zM588 488h6v2h-6zM597 488h2v2h-2zM604 488h1v2h-1zM213 490h1v2h-1zM216 490h1v2h-1zM223 490h4v2h-4zM236 490h4v2h-4zM249 490h1v2h-1zM254 490h1v2h-1zM260 490h1v2h-1zM263 490h1v2h-1zM266 490h3v2h-3zM288 490h1v2h-1zM291 490h1v2h-1zM539 490h1v2h-1zM542 490h1v2h-1zM550 490h2v2h-2zM565 490h1v2h-1zM571 490h1v2h-1zM576 490h1v2h-1zM581 490h1v2h-1zM590 490h5v2h-5zM597 490h2v2h-2zM621 490h2v2h-2zM212 492h2v2h-2zM216 492h2v2h-2zM222 492h6v2h-6zM235 492h2v2h-2zM239 492h2v2h-2zM249 492h1v2h-1zM254 492h1v2h-1zM260 492h3v2h-3zM565 492h1v2h-1zM569 492h1v2h-1zM571 492h1v2h-1zM576 492h1v2h-1zM581 492h1v2h-1zM592 492h2v2h-2zM598 492h1v2h-1zM605 492h1v2h-1zM608 492h1v2h-1zM207 494h16v2h-16zM227 494h9v2h-9zM240 494h10v2h-10zM254 494h7v2h-7zM262 494h2v2h-2zM532 494h1v2h-1zM535 494h1v2h-1zM565 494h1v2h-1zM569 494h1v2h-1zM575 494h2v2h-2zM581 494h1v2h-1zM593 494h1v2h-1zM598 494h1v2h-1zM606 494h2v2h-2zM623 494h1v2h-1zM207 496h16v2h-16zM227 496h9v2h-9zM240 496h10v2h-10zM254 496h6v2h-6zM264 496h1v2h-1zM532 496h1v2h-1zM535 496h1v2h-1zM550 496h1v2h-1zM572 496h1v2h-1zM593 496h1v2h-1zM598 496h1v2h-1zM605 496h1v2h-1zM608 496h1v2h-1zM612 496h1v2h-1zM207 498h16v2h-16zM227 498h9v2h-9zM240 498h10v2h-10zM254 498h6v2h-6zM264 498h5v2h-5zM288 498h1v2h-1zM291 498h1v2h-1zM298 498h1v2h-1zM301 498h1v2h-1zM321 498h1v2h-1zM539 498h1v2h-1zM542 498h1v2h-1zM567 498h1v2h-1zM573 498h2v2h-2zM577 498h1v2h-1zM580 498h1v2h-1zM593 498h1v2h-1zM598 498h1v2h-1zM609 498h1v2h-1zM611 498h1v2h-1zM207 500h16v2h-16zM227 500h9v2h-9zM240 500h10v2h-10zM254 500h6v2h-6zM264 500h8v2h-8zM289 500h2v2h-2zM540 500h2v2h-2zM567 500h1v2h-1zM573 500h1v2h-1zM578 500h2v2h-2zM593 500h1v2h-1zM598 500h1v2h-1zM620 500h1v2h-1zM207 502h15v2h-15zM228 502h8v2h-8zM240 502h11v2h-11zM253 502h7v2h-7zM264 502h12v2h-12zM289 502h2v2h-2zM301 502h1v2h-1zM550 502h2v2h-2zM572 502h1v2h-1zM593 502h1v2h-1zM598 502h1v2h-1zM604 502h1v2h-1zM609 502h3v2h-3zM621 502h2v2h-2zM298 504h1v2h-1zM301 504h1v2h-1zM565 504h1v2h-1zM569 504h1v2h-1zM575 504h1v2h-1zM612 504h1v2h-1zM299 506h2v2h-2zM565 506h1v2h-1zM569 506h1v2h-1zM575 506h1v2h-1zM594 506h4v2h-4zM299 508h1v2h-1zM539 508h1v2h-1zM565 508h1v2h-1zM569 508h1v2h-1zM594 508h1v2h-1zM597 508h1v2h-1zM606 508h3v2h-3zM621 508h2v2h-2zM298 510h3v2h-3zM565 510h1v2h-1zM569 510h1v2h-1zM574 510h1v2h-1zM621 510h2v2h-2zM297 512h2v2h-2zM301 512h1v2h-1zM593 512h1v2h-1zM598 512h1v2h-1zM294 514h4v2h-4zM302 514h1v2h-1zM566 514h1v2h-1zM568 514h1v2h-1zM593 514h1v2h-1zM598 514h1v2h-1zM609 514h1v2h-1zM612 514h1v2h-1zM281 516h7v2h-7zM292 516h6v2h-6zM302 516h1v2h-1zM542 516h1v2h-1zM567 516h1v2h-1zM593 516h1v2h-1zM598 516h1v2h-1zM609 516h3v2h-3zM887 516h18v2h-18zM285 518h3v2h-3zM291 518h7v2h-7zM302 518h3v2h-3zM540 518h2v2h-2zM590 518h4v2h-4zM598 518h4v2h-4zM609 518h3v2h-3zM881 518h28v2h-28zM292 520h6v2h-6zM302 520h6v2h-6zM565 520h1v2h-1zM569 520h1v2h-1zM586 520h8v2h-8zM598 520h7v2h-7zM608 520h2v2h-2zM612 520h1v2h-1zM875 520h37v2h-37zM1065 520h1v2h-1zM294 522h3v2h-3zM302 522h8v2h-8zM539 522h1v2h-1zM542 522h1v2h-1zM581 522h14v2h-14zM597 522h12v2h-12zM868 522h47v2h-47zM1065 522h1v2h-1zM302 524h9v2h-9zM570 524h1v2h-1zM576 524h33v2h-33zM613 524h1v2h-1zM861 524h57v2h-57zM1065 524h1v2h-1zM303 526h10v2h-10zM564 526h1v2h-1zM570 526h25v2h-25zM597 526h12v2h-12zM612 526h4v2h-4zM852 526h70v2h-70zM306 528h8v2h-8zM538 528h1v2h-1zM543 528h1v2h-1zM562 528h3v2h-3zM570 528h25v2h-25zM597 528h23v2h-23zM843 528h82v2h-82zM309 530h6v2h-6zM538 530h1v2h-1zM543 530h1v2h-1zM553 530h13v2h-13zM570 530h56v2h-56zM832 530h98v2h-98zM311 532h6v2h-6zM538 532h1v2h-1zM543 532h23v2h-23zM569 532h24v2h-24zM601 532h34v2h-34zM818 532h73v2h-73zM900 532h35v2h-35zM314 534h5v2h-5zM523 534h42v2h-42zM570 534h7v2h-7zM614 534h34v2h-34zM802 534h74v2h-74zM910 534h32v2h-32zM316 536h5v2h-5zM509 536h46v2h-46zM627 536h44v2h-44zM782 536h75v2h-75zM919 536h33v2h-33zM319 538h2v2h-2zM495 538h33v2h-33zM645 538h53v2h-53zM753 538h80v2h-80zM931 538h35v2h-35zM479 540h30v2h-30zM670 540h137v2h-137zM945 540h39v2h-39zM461 542h31v2h-31zM698 542h71v2h-71zM964 542h42v2h-42zM329 544h4v2h-4zM440 544h33v2h-33zM986 544h46v2h-46zM332 546h10v2h-10zM386 546h65v2h-65zM1016 546h45v2h-45zM1065 546h29v2h-29zM341 548h77v2h-77zM1060 548h1v2h-1zM1065 548h380v2h-380z"/>
<path fill="#9f9f9f" d="M606 448h2v2h-2zM1063 450h1v2h-1zM279 452h2v2h-2zM279 454h2v2h-2zM610 454h2v2h-2zM566 456h1v2h-1zM568 456h1v2h-1zM578 456h2v2h-2zM606 456h2v2h-2zM214 458h2v2h-2zM533 458h2v2h-2zM595 458h2v2h-2zM214 460h2v2h-2zM577 460h1v2h-1zM580 460h1v2h-1zM594 460h1v2h-1zM289 462h2v2h-2zM567 462h1v2h-1zM577 462h1v2h-1zM580 462h1v2h-1zM610 462h2v2h-2zM224 464h2v2h-2zM251 464h2v2h-2zM267 464h2v2h-2zM279 466h2v2h-2zM299 466h2v2h-2zM605 466h1v2h-1zM608 466h1v2h-1zM621 466h1v2h-1zM237 468h2v2h-2zM299 468h2v2h-2zM566 468h1v2h-1zM568 468h1v2h-1zM322 470h1v2h-1zM572 470h1v2h-1zM578 470h2v2h-2zM594 470h1v2h-1zM597 470h1v2h-1zM251 472h2v2h-2zM267 472h2v2h-2zM289 472h2v2h-2zM569 472h1v2h-1zM575 472h1v2h-1zM577 472h1v2h-1zM580 472h1v2h-1zM595 472h2v2h-2zM605 472h1v2h-1zM608 472h1v2h-1zM533 474h2v2h-2zM542 474h1v2h-1zM565 474h1v2h-1zM569 474h1v2h-1zM575 474h1v2h-1zM594 474h1v2h-1zM612 474h1v2h-1zM1061 474h1v2h-1zM213 476h1v2h-1zM216 476h1v2h-1zM250 476h1v2h-1zM253 476h1v2h-1zM575 476h1v2h-1zM612 476h1v2h-1zM236 478h1v2h-1zM239 478h1v2h-1zM250 478h1v2h-1zM253 478h1v2h-1zM532 478h1v2h-1zM535 478h1v2h-1zM609 478h1v2h-1zM214 480h2v2h-2zM223 480h1v2h-1zM226 480h1v2h-1zM250 480h1v2h-1zM253 480h1v2h-1zM299 480h2v2h-2zM532 480h1v2h-1zM535 480h1v2h-1zM542 480h1v2h-1zM567 480h1v2h-1zM573 480h2v2h-2zM593 480h1v2h-1zM598 480h1v2h-1zM223 482h1v2h-1zM226 482h1v2h-1zM260 482h1v2h-1zM263 482h1v2h-1zM266 482h1v2h-1zM269 482h1v2h-1zM327 482h1v2h-1zM549 482h1v2h-1zM552 482h1v2h-1zM580 482h1v2h-1zM593 482h1v2h-1zM608 482h1v2h-1zM223 484h1v2h-1zM226 484h1v2h-1zM236 484h1v2h-1zM239 484h1v2h-1zM260 484h1v2h-1zM263 484h1v2h-1zM266 484h1v2h-1zM269 484h1v2h-1zM533 484h2v2h-2zM549 484h1v2h-1zM552 484h1v2h-1zM568 484h1v2h-1zM573 484h1v2h-1zM621 484h1v2h-1zM260 486h1v2h-1zM263 486h1v2h-1zM266 486h1v2h-1zM269 486h1v2h-1zM549 486h1v2h-1zM552 486h1v2h-1zM572 486h1v2h-1zM578 486h2v2h-2zM611 486h1v2h-1zM214 488h2v2h-2zM224 488h2v2h-2zM251 488h2v2h-2zM289 488h2v2h-2zM575 488h1v2h-1zM577 488h1v2h-1zM580 488h1v2h-1zM594 488h1v2h-1zM612 488h1v2h-1zM250 490h1v2h-1zM253 490h1v2h-1zM261 490h2v2h-2zM569 490h1v2h-1zM575 490h1v2h-1zM595 490h2v2h-2zM605 490h1v2h-1zM608 490h1v2h-1zM214 492h2v2h-2zM288 492h1v2h-1zM291 492h1v2h-1zM539 492h1v2h-1zM542 492h1v2h-1zM575 492h1v2h-1zM594 492h1v2h-1zM597 492h1v2h-1zM606 492h2v2h-2zM223 494h1v2h-1zM226 494h1v2h-1zM236 494h1v2h-1zM239 494h1v2h-1zM261 494h1v2h-1zM288 494h1v2h-1zM291 494h1v2h-1zM612 494h1v2h-1zM620 494h1v2h-1zM260 496h1v2h-1zM263 496h1v2h-1zM288 496h1v2h-1zM291 496h1v2h-1zM299 496h2v2h-2zM539 496h1v2h-1zM542 496h1v2h-1zM551 496h1v2h-1zM566 496h1v2h-1zM568 496h1v2h-1zM574 496h1v2h-1zM606 496h2v2h-2zM609 496h1v2h-1zM623 496h1v2h-1zM605 498h1v2h-1zM608 498h1v2h-1zM610 498h1v2h-1zM620 498h1v2h-1zM623 498h1v2h-1zM236 500h1v2h-1zM239 500h1v2h-1zM250 500h1v2h-1zM253 500h1v2h-1zM298 500h1v2h-1zM301 500h1v2h-1zM550 500h2v2h-2zM222 502h1v2h-1zM227 502h1v2h-1zM236 502h4v2h-4zM251 502h2v2h-2zM298 502h1v2h-1zM566 502h1v2h-1zM568 502h1v2h-1zM574 502h1v2h-1zM572 504h1v2h-1zM594 504h1v2h-1zM597 504h1v2h-1zM609 504h1v2h-1zM572 506h1v2h-1zM605 506h1v2h-1zM608 506h1v2h-1zM542 508h1v2h-1zM572 508h1v2h-1zM595 508h2v2h-2zM573 510h1v2h-1zM594 510h1v2h-1zM597 510h1v2h-1zM612 512h1v2h-1zM298 514h1v2h-1zM301 514h1v2h-1zM539 514h1v2h-1zM542 514h1v2h-1zM567 514h1v2h-1zM207 516h15v2h-15zM228 516h21v2h-21zM255 516h4v2h-4zM265 516h16v2h-16zM288 516h1v2h-1zM291 516h1v2h-1zM265 518h20v2h-20zM288 518h3v2h-3zM566 518h1v2h-1zM568 518h1v2h-1zM266 520h26v2h-26zM594 520h1v2h-1zM597 520h1v2h-1zM271 522h18v2h-18zM291 522h3v2h-3zM297 522h2v2h-2zM301 522h1v2h-1zM565 522h1v2h-1zM569 522h1v2h-1zM595 522h2v2h-2zM609 522h1v2h-1zM612 522h1v2h-1zM276 524h13v2h-13zM291 524h11v2h-11zM539 524h1v2h-1zM542 524h1v2h-1zM565 524h1v2h-1zM609 524h1v2h-1zM612 524h1v2h-1zM281 526h22v2h-22zM565 526h1v2h-1zM595 526h2v2h-2zM609 526h1v2h-1zM1065 526h1v2h-1zM286 528h12v2h-12zM301 528h5v2h-5zM565 528h1v2h-1zM569 528h1v2h-1zM595 528h2v2h-2zM1065 528h1v2h-1zM291 530h7v2h-7zM302 530h7v2h-7zM569 530h1v2h-1zM1065 530h1v2h-1zM303 532h8v2h-8zM539 532h1v2h-1zM542 532h1v2h-1zM566 532h1v2h-1zM568 532h1v2h-1zM593 532h8v2h-8zM891 532h9v2h-9zM304 534h10v2h-10zM565 534h2v2h-2zM568 534h2v2h-2zM577 534h37v2h-37zM876 534h34v2h-34zM310 536h6v2h-6zM555 536h11v2h-11zM569 536h58v2h-58zM857 536h62v2h-62zM314 538h5v2h-5zM528 538h37v2h-37zM570 538h21v2h-21zM604 538h41v2h-41zM833 538h98v2h-98zM318 540h3v2h-3zM509 540h50v2h-50zM625 540h45v2h-45zM807 540h80v2h-80zM905 540h40v2h-40zM492 542h36v2h-36zM646 542h52v2h-52zM769 542h90v2h-90zM922 542h42v2h-42zM473 544h34v2h-34zM673 544h158v2h-158zM940 544h46v2h-46zM1065 544h1v2h-1zM328 546h4v2h-4zM451 546h35v2h-35zM705 546h85v2h-85zM966 546h50v2h-50zM332 548h9v2h-9zM418 548h41v2h-41zM1004 548h56v2h-56zM342 550h77v2h-77zM1059 550h2v2h-2zM1065 550h380v2h-380z"/>
<path fill="#a1a1a1" d="M595 452h2v2h-2zM540 456h2v2h-2zM251 458h2v2h-2zM289 458h2v2h-2zM566 458h1v2h-1zM568 458h1v2h-1zM1064 458h1v2h-1zM289 460h2v2h-2zM566 460h1v2h-1zM568 460h1v2h-1zM594 462h1v2h-1zM597 462h1v2h-1zM606 464h2v2h-2zM224 466h2v2h-2zM533 466h2v2h-2zM224 468h2v2h-2zM594 468h1v2h-1zM597 468h1v2h-1zM605 468h1v2h-1zM608 468h1v2h-1zM574 470h1v2h-1zM605 470h1v2h-1zM608 470h1v2h-1zM610 470h2v2h-2zM214 472h2v2h-2zM540 472h2v2h-2zM609 472h1v2h-1zM595 474h2v2h-2zM606 474h2v2h-2zM609 474h1v2h-1zM237 476h2v2h-2zM539 476h1v2h-1zM542 476h1v2h-1zM594 476h1v2h-1zM597 476h1v2h-1zM609 476h1v2h-1zM224 478h2v2h-2zM539 478h1v2h-1zM542 478h1v2h-1zM572 478h1v2h-1zM236 480h1v2h-1zM239 480h1v2h-1zM261 480h2v2h-2zM267 480h2v2h-2zM289 480h2v2h-2zM577 480h1v2h-1zM580 480h1v2h-1zM606 480h2v2h-2zM610 480h2v2h-2zM236 482h1v2h-1zM239 482h1v2h-1zM251 482h2v2h-2zM540 482h2v2h-2zM578 482h2v2h-2zM605 482h1v2h-1zM567 484h1v2h-1zM224 486h2v2h-2zM237 486h2v2h-2zM299 486h2v2h-2zM594 486h1v2h-1zM597 486h1v2h-1zM610 486h1v2h-1zM261 488h2v2h-2zM267 488h2v2h-2zM595 488h2v2h-2zM605 488h1v2h-1zM608 488h2v2h-2zM214 490h2v2h-2zM577 490h1v2h-1zM580 490h1v2h-1zM612 490h1v2h-1zM237 492h2v2h-2zM250 492h1v2h-1zM253 492h1v2h-1zM612 492h1v2h-1zM224 494h2v2h-2zM539 494h1v2h-1zM542 494h1v2h-1zM572 494h1v2h-1zM594 494h1v2h-1zM597 494h1v2h-1zM609 494h1v2h-1zM223 496h1v2h-1zM226 496h1v2h-1zM236 496h1v2h-1zM239 496h1v2h-1zM250 496h1v2h-1zM253 496h1v2h-1zM261 496h2v2h-2zM567 496h1v2h-1zM573 496h1v2h-1zM577 496h1v2h-1zM580 496h1v2h-1zM620 496h1v2h-1zM223 498h1v2h-1zM226 498h1v2h-1zM236 498h1v2h-1zM239 498h1v2h-1zM250 498h1v2h-1zM253 498h1v2h-1zM260 498h1v2h-1zM263 498h1v2h-1zM289 498h2v2h-2zM533 498h2v2h-2zM550 498h2v2h-2zM578 498h2v2h-2zM223 500h1v2h-1zM226 500h1v2h-1zM251 500h2v2h-2zM260 500h1v2h-1zM263 500h1v2h-1zM321 500h1v2h-1zM605 500h1v2h-1zM608 500h1v2h-1zM223 502h1v2h-1zM226 502h1v2h-1zM260 502h1v2h-1zM263 502h1v2h-1zM573 502h1v2h-1zM594 502h1v2h-1zM597 502h1v2h-1zM292 504h1v2h-1zM299 504h2v2h-2zM574 504h1v2h-1zM605 504h1v2h-1zM608 504h1v2h-1zM540 506h2v2h-2zM609 506h1v2h-1zM612 506h1v2h-1zM574 508h1v2h-1zM612 508h1v2h-1zM539 510h1v2h-1zM542 510h1v2h-1zM612 510h1v2h-1zM299 512h2v2h-2zM539 512h1v2h-1zM542 512h1v2h-1zM566 512h1v2h-1zM568 512h1v2h-1zM609 512h1v2h-1zM293 514h1v2h-1zM328 514h1v2h-1zM610 514h2v2h-2zM222 516h1v2h-1zM227 516h1v2h-1zM249 516h2v2h-2zM253 516h2v2h-2zM259 516h1v2h-1zM264 516h1v2h-1zM289 516h2v2h-2zM298 516h1v2h-1zM301 516h1v2h-1zM540 516h2v2h-2zM207 518h16v2h-16zM227 518h33v2h-33zM264 518h1v2h-1zM298 518h1v2h-1zM301 518h1v2h-1zM567 518h1v2h-1zM207 520h16v2h-16zM227 520h33v2h-33zM264 520h2v2h-2zM298 520h1v2h-1zM301 520h1v2h-1zM610 520h2v2h-2zM207 522h16v2h-16zM227 522h24v2h-24zM253 522h7v2h-7zM264 522h7v2h-7zM289 522h2v2h-2zM540 522h2v2h-2zM207 524h17v2h-17zM226 524h25v2h-25zM253 524h7v2h-7zM264 524h12v2h-12zM289 524h2v2h-2zM569 524h1v2h-1zM207 526h16v2h-16zM227 526h24v2h-24zM253 526h7v2h-7zM263 526h18v2h-18zM569 526h1v2h-1zM610 526h2v2h-2zM264 528h22v2h-22zM298 528h1v2h-1zM539 528h1v2h-1zM267 530h24v2h-24zM301 530h1v2h-1zM539 530h1v2h-1zM542 530h1v2h-1zM566 530h1v2h-1zM568 530h1v2h-1zM274 532h24v2h-24zM302 532h1v2h-1zM540 532h2v2h-2zM567 532h1v2h-1zM1065 532h1v2h-1zM282 534h16v2h-16zM302 534h2v2h-2zM567 534h1v2h-1zM1065 534h1v2h-1zM293 536h4v2h-4zM302 536h8v2h-8zM305 538h9v2h-9zM565 538h1v2h-1zM569 538h1v2h-1zM591 538h13v2h-13zM312 540h6v2h-6zM559 540h7v2h-7zM569 540h56v2h-56zM887 540h18v2h-18zM316 542h5v2h-5zM528 542h37v2h-37zM570 542h23v2h-23zM602 542h44v2h-44zM859 542h63v2h-63zM320 544h1v2h-1zM328 544h1v2h-1zM507 544h51v2h-51zM627 544h46v2h-46zM831 544h109v2h-109zM486 546h37v2h-37zM652 546h53v2h-53zM790 546h85v2h-85zM916 546h50v2h-50zM328 548h4v2h-4zM459 548h37v2h-37zM692 548h135v2h-135zM952 548h52v2h-52zM332 550h10v2h-10zM419 550h42v2h-42zM1004 550h55v2h-55z"/>
<path fill="#a3a3a3" d="M567 456h1v2h-1zM326 458h1v2h-1zM244 460h2v2h-2zM251 460h2v2h-2zM621 460h2v2h-2zM237 462h2v2h-2zM251 462h2v2h-2zM244 464h2v2h-2zM540 464h2v2h-2zM578 464h2v2h-2zM594 464h1v2h-1zM597 464h1v2h-1zM622 464h1v2h-1zM237 466h2v2h-2zM267 466h2v2h-2zM594 466h1v2h-1zM597 466h1v2h-1zM279 468h2v2h-2zM567 468h1v2h-1zM267 470h2v2h-2zM573 470h1v2h-1zM595 470h2v2h-2zM279 472h2v2h-2zM572 472h1v2h-1zM289 474h2v2h-2zM577 474h1v2h-1zM580 474h1v2h-1zM572 476h1v2h-1zM577 476h1v2h-1zM1061 476h1v2h-1zM214 478h2v2h-2zM566 478h1v2h-1zM568 478h1v2h-1zM574 478h1v2h-1zM577 478h1v2h-1zM580 478h1v2h-1zM594 478h1v2h-1zM597 478h1v2h-1zM550 480h2v2h-2zM299 482h2v2h-2zM299 484h2v2h-2zM327 484h1v2h-1zM597 484h1v2h-1zM605 484h1v2h-1zM608 484h1v2h-1zM566 486h1v2h-1zM568 486h1v2h-1zM574 486h1v2h-1zM605 486h1v2h-1zM608 486h1v2h-1zM550 488h2v2h-2zM572 488h1v2h-1zM578 488h2v2h-2zM289 490h2v2h-2zM609 490h1v2h-1zM533 492h2v2h-2zM572 492h1v2h-1zM577 492h1v2h-1zM580 492h1v2h-1zM595 492h2v2h-2zM609 492h1v2h-1zM622 492h1v2h-1zM250 494h1v2h-1zM253 494h1v2h-1zM577 494h1v2h-1zM580 494h1v2h-1zM611 496h1v2h-1zM299 498h2v2h-2zM237 500h2v2h-2zM621 500h2v2h-2zM567 502h1v2h-1zM605 502h1v2h-1zM608 502h1v2h-1zM207 504h1v2h-1zM268 504h21v2h-21zM291 504h1v2h-1zM595 504h2v2h-2zM610 504h2v2h-2zM293 506h1v2h-1zM574 506h1v2h-1zM606 506h2v2h-2zM573 508h1v2h-1zM609 508h1v2h-1zM609 510h1v2h-1zM594 512h1v2h-1zM597 512h1v2h-1zM260 516h1v2h-1zM263 516h1v2h-1zM594 518h1v2h-1zM597 518h1v2h-1zM223 520h1v2h-1zM226 520h1v2h-1zM223 522h1v2h-1zM226 522h1v2h-1zM251 522h2v2h-2zM260 522h1v2h-1zM263 522h1v2h-1zM299 522h2v2h-2zM610 522h2v2h-2zM224 524h2v2h-2zM251 524h2v2h-2zM260 524h1v2h-1zM262 524h2v2h-2zM610 524h2v2h-2zM223 526h4v2h-4zM251 526h2v2h-2zM260 526h3v2h-3zM539 526h1v2h-1zM542 526h1v2h-1zM207 528h16v2h-16zM227 528h34v2h-34zM263 528h1v2h-1zM299 528h2v2h-2zM542 528h1v2h-1zM207 530h16v2h-16zM227 530h33v2h-33zM264 530h3v2h-3zM298 530h1v2h-1zM207 532h15v2h-15zM228 532h32v2h-32zM264 532h10v2h-10zM301 532h1v2h-1zM207 534h15v2h-15zM228 534h31v2h-31zM265 534h17v2h-17zM269 536h24v2h-24zM297 536h1v2h-1zM566 536h1v2h-1zM568 536h1v2h-1zM1065 536h1v2h-1zM283 538h15v2h-15zM302 538h3v2h-3zM1065 538h1v2h-1zM302 540h10v2h-10zM1065 540h1v2h-1zM309 542h7v2h-7zM328 542h1v2h-1zM565 542h1v2h-1zM569 542h1v2h-1zM593 542h9v2h-9zM1065 542h1v2h-1zM315 544h5v2h-5zM558 544h69v2h-69zM319 546h2v2h-2zM523 546h61v2h-61zM610 546h42v2h-42zM875 546h41v2h-41zM496 548h44v2h-44zM642 548h50v2h-50zM827 548h125v2h-125zM328 550h4v2h-4zM461 550h38v2h-38zM693 550h139v2h-139zM951 550h53v2h-53zM333 552h122v2h-122zM1015 552h46v2h-46zM1065 552h380v2h-380z"/>
<path fill="#a5a5a5" d="M596 446h1v2h-1zM323 448h1v2h-1zM607 450h1v2h-1zM606 454h2v2h-2zM611 456h1v2h-1zM578 458h2v2h-2zM533 460h2v2h-2zM567 460h1v2h-1zM595 460h2v2h-2zM610 460h2v2h-2zM244 462h2v2h-2zM237 464h2v2h-2zM533 464h2v2h-2zM621 464h1v2h-1zM267 468h2v2h-2zM279 470h2v2h-2zM566 470h1v2h-1zM568 470h1v2h-1zM322 472h1v2h-1zM574 472h1v2h-1zM214 474h2v2h-2zM251 474h2v2h-2zM572 474h1v2h-1zM214 476h2v2h-2zM289 476h2v2h-2zM533 476h2v2h-2zM580 476h1v2h-1zM596 476h1v2h-1zM621 476h2v2h-2zM237 478h2v2h-2zM289 478h2v2h-2zM573 478h1v2h-1zM1061 478h1v2h-1zM224 480h2v2h-2zM251 480h2v2h-2zM597 480h1v2h-1zM261 482h2v2h-2zM267 482h2v2h-2zM533 482h2v2h-2zM597 482h1v2h-1zM621 482h2v2h-2zM224 484h2v2h-2zM237 484h2v2h-2zM594 484h1v2h-1zM261 486h2v2h-2zM267 486h2v2h-2zM573 486h1v2h-1zM251 490h2v2h-2zM540 490h2v2h-2zM572 490h1v2h-1zM606 490h2v2h-2zM621 492h1v2h-1zM237 494h2v2h-2zM566 494h1v2h-1zM568 494h1v2h-1zM574 494h1v2h-1zM224 496h2v2h-2zM289 496h2v2h-2zM594 496h1v2h-1zM597 496h1v2h-1zM610 496h1v2h-1zM251 498h2v2h-2zM261 498h2v2h-2zM540 498h2v2h-2zM594 498h1v2h-1zM597 498h1v2h-1zM606 498h2v2h-2zM299 500h2v2h-2zM594 500h1v2h-1zM597 500h1v2h-1zM299 502h2v2h-2zM321 502h1v2h-1zM208 504h15v2h-15zM227 504h24v2h-24zM253 504h7v2h-7zM264 504h4v2h-4zM289 504h2v2h-2zM566 504h1v2h-1zM568 504h1v2h-1zM573 504h1v2h-1zM573 506h1v2h-1zM293 508h1v2h-1zM595 510h2v2h-2zM293 512h1v2h-1zM567 512h1v2h-1zM299 514h2v2h-2zM594 514h1v2h-1zM597 514h1v2h-1zM223 516h1v2h-1zM226 516h1v2h-1zM251 516h2v2h-2zM328 516h1v2h-1zM594 516h1v2h-1zM597 516h1v2h-1zM223 518h1v2h-1zM226 518h1v2h-1zM260 518h1v2h-1zM263 518h1v2h-1zM260 520h1v2h-1zM263 520h1v2h-1zM299 520h2v2h-2zM566 520h1v2h-1zM568 520h1v2h-1zM595 520h2v2h-2zM224 522h2v2h-2zM261 524h1v2h-1zM223 528h1v2h-1zM226 528h1v2h-1zM261 528h2v2h-2zM260 530h1v2h-1zM263 530h1v2h-1zM567 530h1v2h-1zM222 532h1v2h-1zM227 532h1v2h-1zM298 532h1v2h-1zM222 534h1v2h-1zM227 534h1v2h-1zM259 534h1v2h-1zM264 534h1v2h-1zM298 534h1v2h-1zM301 534h1v2h-1zM207 536h16v2h-16zM227 536h33v2h-33zM264 536h5v2h-5zM298 536h1v2h-1zM301 536h1v2h-1zM247 538h12v2h-12zM264 538h19v2h-19zM298 538h1v2h-1zM301 538h1v2h-1zM566 538h1v2h-1zM275 540h27v2h-27zM290 542h19v2h-19zM566 542h1v2h-1zM568 542h1v2h-1zM305 544h10v2h-10zM313 546h6v2h-6zM584 546h26v2h-26zM318 548h3v2h-3zM540 548h102v2h-102zM499 550h46v2h-46zM645 550h48v2h-48zM832 550h119v2h-119zM328 552h5v2h-5zM455 552h39v2h-39zM708 552h108v2h-108zM966 552h49v2h-49zM336 554h108v2h-108zM1033 554h28v2h-28zM1065 554h380v2h-380z"/>
<path fill="#a7a7a7" d="M595 446h1v2h-1zM606 450h1v2h-1zM607 452h1v2h-1zM610 456h1v2h-1zM540 458h2v2h-2zM567 458h1v2h-1zM611 458h1v2h-1zM533 462h2v2h-2zM621 462h2v2h-2zM578 472h2v2h-2zM606 472h2v2h-2zM251 476h2v2h-2zM566 476h1v2h-1zM568 476h1v2h-1zM574 476h1v2h-1zM595 476h1v2h-1zM567 478h1v2h-1zM610 478h2v2h-2zM594 480h1v2h-1zM1061 480h1v2h-1zM224 482h2v2h-2zM550 482h2v2h-2zM594 482h1v2h-1zM261 484h2v2h-2zM267 484h2v2h-2zM327 486h1v2h-1zM550 486h2v2h-2zM595 486h2v2h-2zM574 488h1v2h-1zM610 488h2v2h-2zM289 492h2v2h-2zM290 494h1v2h-1zM533 494h2v2h-2zM573 494h1v2h-1zM237 496h2v2h-2zM533 496h2v2h-2zM237 498h2v2h-2zM224 502h2v2h-2zM223 504h1v2h-1zM226 504h1v2h-1zM251 504h2v2h-2zM260 504h1v2h-1zM263 504h1v2h-1zM293 510h1v2h-1zM566 510h1v2h-1zM568 510h1v2h-1zM299 516h2v2h-2zM224 520h2v2h-2zM261 522h2v2h-2zM540 524h2v2h-2zM224 528h2v2h-2zM566 528h1v2h-1zM568 528h1v2h-1zM223 530h1v2h-1zM226 530h1v2h-1zM261 530h2v2h-2zM299 530h2v2h-2zM540 530h2v2h-2zM223 532h1v2h-1zM226 532h1v2h-1zM260 532h1v2h-1zM263 532h1v2h-1zM263 534h1v2h-1zM223 536h1v2h-1zM226 536h1v2h-1zM567 536h1v2h-1zM207 538h17v2h-17zM226 538h21v2h-21zM259 538h2v2h-2zM263 538h1v2h-1zM299 538h2v2h-2zM568 538h1v2h-1zM207 540h17v2h-17zM226 540h35v2h-35zM263 540h12v2h-12zM328 540h1v2h-1zM566 540h1v2h-1zM568 540h1v2h-1zM266 542h24v2h-24zM567 542h1v2h-1zM283 544h22v2h-22zM301 546h12v2h-12zM311 548h7v2h-7zM318 550h3v2h-3zM545 550h100v2h-100zM494 552h43v2h-43zM664 552h44v2h-44zM816 552h62v2h-62zM917 552h49v2h-49zM329 554h7v2h-7zM444 554h39v2h-39zM989 554h44v2h-44zM340 556h88v2h-88zM1051 556h10v2h-10zM1065 556h380v2h-380z"/>
<path fill="#a9a9a9" d="M595 450h2v2h-2zM606 452h1v2h-1zM1063 452h1v2h-1zM1062 454h1v2h-1zM610 458h1v2h-1zM326 460h1v2h-1zM578 460h2v2h-2zM540 462h2v2h-2zM578 462h2v2h-2zM606 466h2v2h-2zM595 468h2v2h-2zM566 472h1v2h-1zM568 472h1v2h-1zM573 472h1v2h-1zM610 472h2v2h-2zM540 474h2v2h-2zM574 474h1v2h-1zM251 478h2v2h-2zM237 480h2v2h-2zM533 480h1v2h-1zM540 480h2v2h-2zM578 480h2v2h-2zM237 482h2v2h-2zM606 482h2v2h-2zM1061 482h1v2h-1zM550 484h2v2h-2zM567 486h1v2h-1zM566 488h1v2h-1zM568 488h1v2h-1zM574 490h1v2h-1zM578 490h1v2h-1zM251 492h2v2h-2zM566 492h1v2h-1zM568 492h1v2h-1zM574 492h1v2h-1zM289 494h1v2h-1zM595 494h2v2h-2zM251 496h2v2h-2zM578 496h2v2h-2zM224 498h2v2h-2zM224 500h2v2h-2zM261 500h2v2h-2zM261 502h2v2h-2zM224 504h2v2h-2zM321 504h1v2h-1zM606 504h2v2h-2zM566 506h1v2h-1zM568 506h1v2h-1zM540 508h2v2h-2zM566 508h1v2h-1zM568 508h1v2h-1zM610 512h2v2h-2zM540 514h2v2h-2zM299 518h2v2h-2zM328 518h1v2h-1zM567 520h1v2h-1zM566 522h1v2h-1zM568 522h1v2h-1zM223 534h1v2h-1zM226 534h1v2h-1zM260 534h1v2h-1zM260 536h1v2h-1zM263 536h1v2h-1zM299 536h2v2h-2zM224 538h2v2h-2zM328 538h1v2h-1zM567 538h1v2h-1zM224 540h2v2h-2zM261 540h2v2h-2zM567 540h1v2h-1zM207 542h59v2h-59zM243 544h40v2h-40zM276 546h25v2h-25zM294 548h17v2h-17zM311 550h7v2h-7zM319 552h2v2h-2zM537 552h50v2h-50zM614 552h50v2h-50zM878 552h39v2h-39zM328 554h1v2h-1zM483 554h40v2h-40zM689 554h155v2h-155zM945 554h44v2h-44zM331 556h9v2h-9zM428 556h41v2h-41zM1011 556h40v2h-40z"/>
<path fill="#ababab" d="M595 448h2v2h-2zM323 450h1v2h-1zM540 460h2v2h-2zM1064 460h1v2h-1zM567 470h1v2h-1zM607 470h1v2h-1zM322 474h1v2h-1zM566 474h1v2h-1zM568 474h1v2h-1zM573 476h1v2h-1zM611 476h1v2h-1zM533 478h2v2h-2zM621 478h2v2h-2zM534 480h1v2h-1zM621 480h2v2h-2zM1061 484h1v2h-1zM327 488h1v2h-1zM573 488h1v2h-1zM606 488h2v2h-2zM566 490h1v2h-1zM568 490h1v2h-1zM579 490h1v2h-1zM540 492h2v2h-2zM251 494h2v2h-2zM567 494h1v2h-1zM610 494h2v2h-2zM621 494h2v2h-2zM540 496h2v2h-2zM621 498h2v2h-2zM606 500h2v2h-2zM595 502h2v2h-2zM261 504h2v2h-2zM567 504h1v2h-1zM610 506h2v2h-2zM224 516h2v2h-2zM261 516h2v2h-2zM224 518h2v2h-2zM261 518h2v2h-2zM261 520h2v2h-2zM566 526h1v2h-1zM568 526h1v2h-1zM224 530h2v2h-2zM299 532h2v2h-2zM299 534h2v2h-2zM328 534h1v2h-1zM224 536h2v2h-2zM328 536h1v2h-1zM261 538h2v2h-2zM207 544h36v2h-36zM207 546h69v2h-69zM270 548h24v2h-24zM292 550h19v2h-19zM312 552h7v2h-7zM587 552h27v2h-27zM320 554h1v2h-1zM523 554h44v2h-44zM649 554h40v2h-40zM844 554h101v2h-101zM328 556h3v2h-3zM469 556h39v2h-39zM714 556h96v2h-96zM972 556h39v2h-39zM334 558h117v2h-117zM1031 558h30v2h-30zM1065 558h380v2h-380z"/>
<path fill="#adadad" d="M595 462h2v2h-2zM1064 462h1v2h-1zM606 468h2v2h-2zM606 470h1v2h-1zM573 474h1v2h-1zM578 474h2v2h-2zM610 474h2v2h-2zM540 476h2v2h-2zM610 476h1v2h-1zM540 478h2v2h-2zM595 478h2v2h-2zM606 484h2v2h-2zM1061 486h1v2h-1zM573 490h1v2h-1zM610 490h2v2h-2zM573 492h1v2h-1zM610 492h2v2h-2zM621 496h2v2h-2zM606 502h2v2h-2zM321 506h1v2h-1zM540 510h2v2h-2zM567 510h1v2h-1zM610 510h2v2h-2zM540 512h2v2h-2zM595 512h2v2h-2zM595 518h2v2h-2zM328 520h1v2h-1zM566 524h1v2h-1zM568 524h1v2h-1zM540 526h2v2h-2zM540 528h2v2h-2zM567 528h1v2h-1zM261 532h2v2h-2zM328 532h1v2h-1zM261 536h2v2h-2zM207 548h63v2h-63zM264 550h28v2h-28zM293 552h19v2h-19zM314 554h6v2h-6zM567 554h82v2h-82zM508 556h39v2h-39zM679 556h35v2h-35zM810 556h49v2h-49zM933 556h39v2h-39zM328 558h6v2h-6zM451 558h40v2h-40zM996 558h35v2h-35zM339 560h90v2h-90zM1050 560h11v2h-11zM1065 560h380v2h-380z"/>
<path fill="#afafaf" d="M326 462h1v2h-1zM1064 464h1v2h-1zM595 466h2v2h-2zM322 476h1v2h-1zM567 476h1v2h-1zM578 478h2v2h-2zM595 484h2v2h-2zM606 486h2v2h-2zM1061 488h1v2h-1zM327 490h1v2h-1zM578 492h2v2h-2zM540 494h2v2h-2zM578 494h2v2h-2zM610 508h2v2h-2zM328 522h1v2h-1zM328 530h1v2h-1zM224 532h2v2h-2zM224 534h2v2h-2zM261 534h2v2h-2zM207 550h57v2h-57zM257 552h36v2h-36zM297 554h17v2h-17zM317 556h4v2h-4zM547 556h39v2h-39zM635 556h44v2h-44zM859 556h74v2h-74zM491 558h38v2h-38zM704 558h119v2h-119zM961 558h35v2h-35zM331 560h8v2h-8zM429 560h42v2h-42zM1018 560h32v2h-32zM1172 562h273v2h-273z"/>
<path fill="#b1b1b1" d="M323 452h1v2h-1zM595 464h2v2h-2zM1064 466h1v2h-1zM578 476h2v2h-2zM567 488h1v2h-1zM1061 490h1v2h-1zM327 492h1v2h-1zM567 492h1v2h-1zM595 496h2v2h-2zM595 500h2v2h-2zM321 508h1v2h-1zM567 522h1v2h-1zM328 528h1v2h-1zM207 552h50v2h-50zM207 554h90v2h-90zM306 556h11v2h-11zM586 556h49v2h-49zM319 558h2v2h-2zM529 558h34v2h-34zM673 558h31v2h-31zM823 558h44v2h-44zM927 558h34v2h-34zM328 560h3v2h-3zM471 560h40v2h-40zM987 560h31v2h-31zM334 562h110v2h-110zM1039 562h22v2h-22zM1065 562h107v2h-107z"/>
<path fill="#b3b3b3" d="M1063 454h1v2h-1zM1062 456h1v2h-1zM326 464h1v2h-1zM1064 468h1v2h-1zM567 472h1v2h-1zM567 474h1v2h-1zM322 478h1v2h-1zM595 480h2v2h-2zM595 482h2v2h-2zM1061 492h1v2h-1zM595 498h2v2h-2zM567 506h1v2h-1zM567 508h1v2h-1zM321 510h1v2h-1zM595 514h2v2h-2zM595 516h2v2h-2zM328 524h1v2h-1zM328 526h1v2h-1zM567 526h1v2h-1zM207 556h99v2h-99zM312 558h7v2h-7zM563 558h38v2h-38zM616 558h57v2h-57zM867 558h60v2h-60zM511 560h32v2h-32zM699 560h130v2h-130zM957 560h30v2h-30zM329 562h5v2h-5zM444 562h43v2h-43zM1011 562h28v2h-28zM344 564h22v2h-22zM1059 564h2v2h-2zM1065 564h380v2h-380z"/>
<path fill="#b5b5b5" d="M323 454h1v2h-1zM1064 470h1v2h-1zM322 480h1v2h-1zM567 490h1v2h-1zM327 494h1v2h-1zM1061 494h1v2h-1zM292 514h1v2h-1zM567 524h1v2h-1zM207 558h105v2h-105zM601 558h15v2h-15zM316 560h5v2h-5zM543 560h28v2h-28zM672 560h27v2h-27zM829 560h39v2h-39zM926 560h31v2h-31zM328 562h1v2h-1zM487 562h38v2h-38zM984 562h27v2h-27zM332 564h12v2h-12zM366 564h89v2h-89zM1032 564h27v2h-27zM1140 566h305v2h-305z"/>
<path fill="#b7b7b7" d="M326 466h1v2h-1zM1064 472h1v2h-1zM327 496h1v2h-1zM1061 496h1v2h-1zM321 512h1v2h-1zM207 514h1v2h-1zM207 560h31v2h-31zM275 560h41v2h-41zM571 560h101v2h-101zM868 560h58v2h-58zM319 562h2v2h-2zM525 562h24v2h-24zM699 562h130v2h-130zM957 562h27v2h-27zM328 564h4v2h-4zM455 564h47v2h-47zM1008 564h24v2h-24zM337 566h68v2h-68zM1050 566h11v2h-11zM1065 566h75v2h-75zM1299 568h146v2h-146z"/>
<path fill="#b9b9b9" d="M323 456h1v2h-1zM1064 474h1v2h-1zM1064 476h1v2h-1zM322 482h1v2h-1zM327 498h1v2h-1zM1061 498h1v2h-1zM270 514h18v2h-18zM321 514h1v2h-1zM238 560h37v2h-37zM311 562h8v2h-8zM549 562h24v2h-24zM676 562h23v2h-23zM829 562h34v2h-34zM930 562h27v2h-27zM502 564h30v2h-30zM984 564h24v2h-24zM330 566h7v2h-7zM405 566h61v2h-61zM1028 566h22v2h-22zM1080 568h219v2h-219zM1330 570h115v2h-115z"/>
<path fill="#bbbbbb" d="M326 468h1v2h-1zM1064 478h1v2h-1zM322 484h1v2h-1zM327 500h1v2h-1zM1061 500h1v2h-1zM1061 502h1v2h-1zM1061 504h1v2h-1zM1061 506h1v2h-1zM208 514h15v2h-15zM227 514h23v2h-23zM254 514h7v2h-7zM263 514h7v2h-7zM288 514h1v2h-1zM291 514h1v2h-1zM321 516h1v2h-1zM321 544h1v2h-1zM321 546h1v2h-1zM321 548h1v2h-1zM321 550h1v2h-1zM207 562h104v2h-104zM573 562h25v2h-25zM650 562h26v2h-26zM863 562h67v2h-67zM317 564h4v2h-4zM532 564h19v2h-19zM702 564h124v2h-124zM960 564h24v2h-24zM328 566h2v2h-2zM466 566h49v2h-49zM1006 566h22v2h-22zM334 568h87v2h-87zM1044 568h17v2h-17zM1065 568h15v2h-15zM1131 570h199v2h-199zM1343 572h102v2h-102z"/>
<path fill="#bdbdbd" d="M325 440h1v2h-1zM1063 456h1v2h-1zM323 458h1v2h-1zM326 470h1v2h-1zM1064 480h1v2h-1zM1064 482h1v2h-1zM322 486h1v2h-1zM1061 508h1v2h-1zM1061 510h1v2h-1zM1061 512h1v2h-1zM223 514h1v2h-1zM226 514h1v2h-1zM250 514h1v2h-1zM253 514h1v2h-1zM261 514h2v2h-2zM289 514h2v2h-2zM1061 514h1v2h-1zM321 540h1v2h-1zM321 542h1v2h-1zM321 552h1v2h-1zM321 554h1v2h-1zM598 562h52v2h-52zM207 564h110v2h-110zM551 564h20v2h-20zM681 564h21v2h-21zM826 564h29v2h-29zM937 564h23v2h-23zM515 566h20v2h-20zM985 566h21v2h-21zM328 568h6v2h-6zM421 568h59v2h-59zM1024 568h20v2h-20zM343 570h10v2h-10zM1058 570h3v2h-3zM1065 570h66v2h-66zM1248 572h95v2h-95zM1341 574h104v2h-104z"/>
<path fill="#bfbfbf" d="M325 442h1v2h-1zM1062 458h1v2h-1zM323 460h1v2h-1zM1064 484h1v2h-1zM322 488h1v2h-1zM327 502h1v2h-1zM224 514h2v2h-2zM251 514h2v2h-2zM1061 516h1v2h-1zM321 518h1v2h-1zM1061 518h1v2h-1zM1061 520h1v2h-1zM1061 522h1v2h-1zM321 536h1v2h-1zM321 538h1v2h-1zM321 556h1v2h-1zM321 558h1v2h-1zM571 564h18v2h-18zM661 564h20v2h-20zM855 564h29v2h-29zM912 564h25v2h-25zM207 566h25v2h-25zM314 566h7v2h-7zM535 566h17v2h-17zM705 566h116v2h-116zM964 566h21v2h-21zM480 568h43v2h-43zM1005 568h19v2h-19zM332 570h11v2h-11zM353 570h85v2h-85zM1038 570h20v2h-20zM1077 572h171v2h-171zM1257 574h84v2h-84zM1329 576h116v2h-116z"/>
<path fill="#c1c1c1" d="M325 444h1v2h-1zM326 472h1v2h-1zM1064 486h1v2h-1zM1064 488h1v2h-1zM322 490h1v2h-1zM327 504h1v2h-1zM321 520h1v2h-1zM1061 524h1v2h-1zM1061 526h1v2h-1zM1061 528h1v2h-1zM1061 530h1v2h-1zM321 532h1v2h-1zM321 534h1v2h-1zM321 560h1v2h-1zM589 564h72v2h-72zM884 564h28v2h-28zM232 566h82v2h-82zM552 566h16v2h-16zM687 566h18v2h-18zM821 566h26v2h-26zM944 566h20v2h-20zM207 568h11v2h-11zM319 568h2v2h-2zM523 568h15v2h-15zM986 568h19v2h-19zM328 570h4v2h-4zM438 570h64v2h-64zM1020 570h18v2h-18zM335 572h64v2h-64zM1047 572h14v2h-14zM1065 572h12v2h-12zM1094 574h163v2h-163zM1243 576h86v2h-86zM1312 578h133v2h-133z"/>
<path fill="#c3c3c3" d="M323 462h1v2h-1zM326 474h1v2h-1zM1064 490h1v2h-1zM322 492h1v2h-1zM327 506h1v2h-1zM321 522h1v2h-1zM321 528h1v2h-1zM321 530h1v2h-1zM1061 532h1v2h-1zM1061 534h1v2h-1zM1061 536h1v2h-1zM1061 538h1v2h-1zM1061 542h1v2h-1zM1061 544h1v2h-1zM1061 546h1v2h-1zM1061 548h1v2h-1zM1061 550h1v2h-1zM1061 552h1v2h-1zM1061 554h1v2h-1zM1061 556h1v2h-1zM1061 558h1v2h-1zM321 562h1v2h-1zM321 564h1v2h-1zM568 566h15v2h-15zM669 566h18v2h-18zM847 566h25v2h-25zM923 566h21v2h-21zM218 568h33v2h-33zM311 568h8v2h-8zM538 568h14v2h-14zM708 568h109v2h-109zM968 568h18v2h-18zM207 570h3v2h-3zM502 570h26v2h-26zM1002 570h18v2h-18zM329 572h6v2h-6zM399 572h73v2h-73zM1030 572h17v2h-17zM337 574h41v2h-41zM1051 574h10v2h-10zM1065 574h29v2h-29zM1097 576h146v2h-146zM1199 578h113v2h-113zM1293 580h152v2h-152zM207 624h1v2h-1zM207 626h7v2h-7zM207 628h12v2h-12zM207 630h17v2h-17zM207 632h20v2h-20zM207 634h23v2h-23zM207 636h25v2h-25zM207 638h26v2h-26zM207 640h28v2h-28zM207 642h30v2h-30zM207 644h33v2h-33zM207 646h35v2h-35zM207 648h38v1h-38z"/>
<path fill="#c5c5c5" d="M325 446h1v2h-1zM323 464h1v2h-1zM326 476h1v2h-1zM1064 492h1v2h-1zM322 494h1v2h-1zM1064 494h1v2h-1zM327 508h1v2h-1zM321 524h1v2h-1zM321 526h1v2h-1zM1061 540h1v2h-1zM1061 560h1v2h-1zM1061 562h1v2h-1zM1061 564h1v2h-1zM321 566h1v2h-1zM583 566h18v2h-18zM649 566h20v2h-20zM872 566h51v2h-51zM251 568h60v2h-60zM552 568h13v2h-13zM691 568h17v2h-17zM817 568h23v2h-23zM950 568h18v2h-18zM210 570h28v2h-28zM316 570h5v2h-5zM528 570h13v2h-13zM985 570h17v2h-17zM207 572h3v2h-3zM328 572h1v2h-1zM472 572h50v2h-50zM1013 572h17v2h-17zM330 574h7v2h-7zM378 574h79v2h-79zM1034 574h17v2h-17zM338 576h38v2h-38zM1052 576h9v2h-9zM1065 576h32v2h-32zM1093 578h106v2h-106zM1170 580h123v2h-123zM1273 582h172v2h-172zM1331 584h114v2h-114zM207 618h3v2h-3zM207 620h7v2h-7zM207 622h12v2h-12zM208 624h16v2h-16zM214 626h16v2h-16zM219 628h18v2h-18zM224 630h20v2h-20zM227 632h22v2h-22zM230 634h23v2h-23zM232 636h25v2h-25zM233 638h27v2h-27zM235 640h28v2h-28zM237 642h29v2h-29zM240 644h29v2h-29zM242 646h30v2h-30zM245 648h29v1h-29z"/>
<path fill="#c7c7c7" d="M325 448h1v2h-1zM1063 458h1v2h-1zM1062 460h1v2h-1zM323 466h1v2h-1zM322 496h1v2h-1zM1064 496h1v2h-1zM1064 498h1v2h-1zM207 506h1v2h-1zM292 506h1v2h-1zM327 510h1v2h-1zM601 566h48v2h-48zM1061 566h1v2h-1zM321 568h1v2h-1zM565 568h13v2h-13zM675 568h16v2h-16zM840 568h22v2h-22zM932 568h18v2h-18zM1061 568h1v2h-1zM238 570h78v2h-78zM541 570h12v2h-12zM708 570h110v2h-110zM968 570h17v2h-17zM210 572h23v2h-23zM319 572h2v2h-2zM522 572h13v2h-13zM996 572h17v2h-17zM207 574h8v2h-8zM328 574h2v2h-2zM457 574h61v2h-61zM1018 574h16v2h-16zM330 576h8v2h-8zM376 576h83v2h-83zM1035 576h17v2h-17zM337 578h50v2h-50zM1051 578h10v2h-10zM1065 578h28v2h-28zM1087 580h83v2h-83zM1153 582h120v2h-120zM1252 584h79v2h-79zM1307 586h138v2h-138zM207 612h4v2h-4zM207 614h7v2h-7zM207 616h11v2h-11zM210 618h11v2h-11zM214 620h12v2h-12zM219 622h12v2h-12zM224 624h13v2h-13zM230 626h15v2h-15zM237 628h18v2h-18zM244 630h20v2h-20zM249 632h23v2h-23zM253 634h23v2h-23zM257 636h23v2h-23zM260 638h23v2h-23zM263 640h23v2h-23zM266 642h23v2h-23zM269 644h23v2h-23zM272 646h23v2h-23zM274 648h22v1h-22z"/>
<path fill="#c9c9c9" d="M325 450h1v2h-1zM1062 462h1v2h-1zM1062 464h1v2h-1zM1062 466h1v2h-1zM323 468h1v2h-1zM326 478h1v2h-1zM322 498h1v2h-1zM1064 500h1v2h-1zM1064 502h1v2h-1zM1064 504h1v2h-1zM327 512h1v2h-1zM578 568h13v2h-13zM660 568h15v2h-15zM862 568h23v2h-23zM913 568h19v2h-19zM321 570h1v2h-1zM553 570h12v2h-12zM693 570h15v2h-15zM818 570h20v2h-20zM952 570h16v2h-16zM1061 570h1v2h-1zM233 572h20v2h-20zM311 572h8v2h-8zM535 572h11v2h-11zM722 572h80v2h-80zM981 572h15v2h-15zM1061 572h1v2h-1zM215 574h19v2h-19zM320 574h1v2h-1zM518 574h14v2h-14zM1002 574h16v2h-16zM207 576h15v2h-15zM328 576h2v2h-2zM459 576h60v2h-60zM1019 576h16v2h-16zM207 578h8v2h-8zM330 578h7v2h-7zM387 578h86v2h-86zM1034 578h17v2h-17zM207 580h1v2h-1zM336 580h73v2h-73zM1049 580h12v2h-12zM1065 580h22v2h-22zM1080 582h73v2h-73zM1142 584h110v2h-110zM1222 586h85v2h-85zM1275 588h170v2h-170zM1308 590h137v2h-137zM1327 592h118v2h-118zM1334 594h111v2h-111zM1336 596h109v2h-109zM1337 598h108v2h-108zM1337 600h108v2h-108zM1337 602h108v2h-108zM207 604h3v2h-3zM1337 604h108v2h-108zM207 606h6v2h-6zM1338 606h107v2h-107zM207 608h8v2h-8zM1340 608h105v2h-105zM207 610h10v2h-10zM1345 610h100v2h-100zM211 612h9v2h-9zM214 614h9v2h-9zM218 616h9v2h-9zM221 618h10v2h-10zM226 620h10v2h-10zM231 622h12v2h-12zM237 624h14v2h-14zM245 626h17v2h-17zM255 628h22v2h-22zM264 630h24v2h-24zM272 632h23v2h-23zM276 634h23v2h-23zM280 636h23v2h-23zM283 638h23v2h-23zM286 640h22v2h-22zM289 642h22v2h-22zM292 644h21v2h-21zM295 646h20v2h-20zM296 648h21v1h-21z"/>
<path fill="#cbcbcb" d="M324 440h1v2h-1zM325 452h1v2h-1zM1062 468h1v2h-1zM1062 470h1v2h-1zM326 480h1v2h-1zM326 482h1v2h-1zM322 500h1v2h-1zM1064 506h1v2h-1zM1064 508h1v2h-1zM1064 510h1v2h-1zM1064 512h1v2h-1zM327 514h1v2h-1zM1064 514h1v2h-1zM591 568h69v2h-69zM885 568h28v2h-28zM565 570h11v2h-11zM678 570h15v2h-15zM838 570h20v2h-20zM937 570h15v2h-15zM253 572h58v2h-58zM321 572h1v2h-1zM546 572h11v2h-11zM703 572h19v2h-19zM802 572h22v2h-22zM965 572h16v2h-16zM234 574h16v2h-16zM314 574h6v2h-6zM321 574h1v2h-1zM532 574h11v2h-11zM769 574h22v2h-22zM986 574h16v2h-16zM1061 574h1v2h-1zM222 576h15v2h-15zM320 576h2v2h-2zM519 576h13v2h-13zM1003 576h16v2h-16zM1061 576h1v2h-1zM215 578h14v2h-14zM328 578h2v2h-2zM473 578h49v2h-49zM1017 578h17v2h-17zM1061 578h1v2h-1zM208 580h15v2h-15zM329 580h7v2h-7zM409 580h83v2h-83zM1032 580h17v2h-17zM1061 580h1v2h-1zM207 582h11v2h-11zM335 582h98v2h-98zM1047 582h14v2h-14zM1065 582h15v2h-15zM207 584h6v2h-6zM1072 584h70v2h-70zM207 586h1v2h-1zM1130 586h92v2h-92zM1189 588h86v2h-86zM1228 590h80v2h-80zM1248 592h79v2h-79zM1255 594h79v2h-79zM207 596h3v2h-3zM1257 596h79v2h-79zM207 598h6v2h-6zM1258 598h79v2h-79zM207 600h8v2h-8zM1258 600h79v2h-79zM207 602h10v2h-10zM1258 602h79v2h-79zM210 604h9v2h-9zM1258 604h79v2h-79zM213 606h7v2h-7zM1259 606h79v2h-79zM215 608h7v2h-7zM1261 608h79v2h-79zM217 610h8v2h-8zM1265 610h80v2h-80zM220 612h7v2h-7zM1272 612h173v2h-173zM223 614h8v2h-8zM1281 614h164v2h-164zM227 616h8v2h-8zM1290 616h155v2h-155zM231 618h9v2h-9zM1300 618h145v2h-145zM236 620h11v2h-11zM1310 620h135v2h-135zM243 622h12v2h-12zM1320 622h125v2h-125zM251 624h18v2h-18zM1331 624h114v2h-114zM262 626h26v2h-26zM1343 626h102v2h-102zM277 628h26v2h-26zM288 630h23v2h-23zM295 632h21v2h-21zM299 634h20v2h-20zM407 634h16v2h-16zM303 636h18v2h-18zM397 636h32v2h-32zM306 638h16v2h-16zM388 638h44v2h-44zM308 640h14v2h-14zM378 640h57v2h-57zM311 642h11v2h-11zM369 642h68v2h-68zM313 644h9v2h-9zM328 644h2v2h-2zM360 644h79v2h-79zM315 646h7v2h-7zM328 646h5v2h-5zM352 646h89v2h-89zM317 648h5v1h-5zM328 648h9v1h-9zM346 648h96v1h-96z"/>
<path fill="#cdcdcd" d="M324 442h1v2h-1zM325 454h1v2h-1zM323 470h1v2h-1zM1062 472h1v2h-1zM1062 474h1v2h-1zM1062 476h1v2h-1zM326 484h1v2h-1zM322 502h1v2h-1zM327 516h1v2h-1zM1064 516h1v2h-1zM1064 518h1v2h-1zM1064 520h1v2h-1zM1064 522h1v2h-1zM1064 524h1v2h-1zM1064 526h1v2h-1zM576 570h11v2h-11zM665 570h13v2h-13zM858 570h18v2h-18zM921 570h16v2h-16zM557 572h10v2h-10zM690 572h13v2h-13zM824 572h18v2h-18zM951 572h14v2h-14zM250 574h64v2h-64zM543 574h10v2h-10zM708 574h61v2h-61zM791 574h28v2h-28zM972 574h14v2h-14zM237 576h14v2h-14zM314 576h6v2h-6zM532 576h10v2h-10zM730 576h72v2h-72zM988 576h15v2h-15zM229 578h12v2h-12zM320 578h2v2h-2zM522 578h12v2h-12zM1001 578h16v2h-16zM223 580h11v2h-11zM328 580h1v2h-1zM492 580h33v2h-33zM1014 580h18v2h-18zM218 582h10v2h-10zM329 582h6v2h-6zM433 582h76v2h-76zM1029 582h18v2h-18zM1061 582h1v2h-1zM213 584h10v2h-10zM334 584h120v2h-120zM1044 584h18v2h-18zM1065 584h7v2h-7zM208 586h12v2h-12zM1065 586h65v2h-65zM207 588h10v2h-10zM1110 588h79v2h-79zM207 590h9v2h-9zM1146 590h82v2h-82zM207 592h9v2h-9zM1167 592h81v2h-81zM207 594h10v2h-10zM1176 594h79v2h-79zM210 596h9v2h-9zM1179 596h78v2h-78zM213 598h7v2h-7zM1179 598h79v2h-79zM215 600h7v2h-7zM1179 600h79v2h-79zM217 602h7v2h-7zM1179 602h79v2h-79zM219 604h6v2h-6zM1179 604h79v2h-79zM220 606h7v2h-7zM1180 606h79v2h-79zM222 608h7v2h-7zM1182 608h79v2h-79zM225 610h6v2h-6zM1186 610h79v2h-79zM227 612h8v2h-8zM1193 612h79v2h-79zM231 614h8v2h-8zM1202 614h79v2h-79zM235 616h9v2h-9zM1212 616h78v2h-78zM240 618h10v2h-10zM1222 618h78v2h-78zM247 620h12v2h-12zM1232 620h78v2h-78zM255 622h22v2h-22zM1242 622h78v2h-78zM269 624h32v2h-32zM1252 624h79v2h-79zM288 626h28v2h-28zM402 626h27v2h-27zM1264 626h79v2h-79zM303 628h19v2h-19zM378 628h65v2h-65zM1278 628h167v2h-167zM311 630h11v2h-11zM328 630h1v2h-1zM361 630h90v2h-90zM1297 630h148v2h-148zM316 632h6v2h-6zM328 632h8v2h-8zM347 632h109v2h-109zM1322 632h123v2h-123zM319 634h3v2h-3zM328 634h79v2h-79zM423 634h35v2h-35zM321 636h1v2h-1zM328 636h69v2h-69zM429 636h30v2h-30zM328 638h60v2h-60zM432 638h28v2h-28zM328 640h50v2h-50zM435 640h26v2h-26zM328 642h41v2h-41zM437 642h24v2h-24zM330 644h30v2h-30zM439 644h23v2h-23zM333 646h19v2h-19zM441 646h21v2h-21zM337 648h9v1h-9zM442 648h20v1h-20z"/>
<path fill="#cfcfcf" d="M324 444h1v2h-1zM324 446h1v2h-1zM325 456h1v2h-1zM325 458h1v2h-1zM1063 460h1v2h-1zM323 472h1v2h-1zM323 474h1v2h-1zM1062 478h1v2h-1zM1062 480h1v2h-1zM326 486h1v2h-1zM322 504h1v2h-1zM208 506h43v2h-43zM253 506h8v2h-8zM263 506h26v2h-26zM291 506h1v2h-1zM292 512h1v2h-1zM327 518h1v2h-1zM1064 528h1v2h-1zM1064 530h1v2h-1zM1064 532h1v2h-1zM1064 534h1v2h-1zM1064 536h1v2h-1zM327 540h1v2h-1zM327 542h1v2h-1zM327 544h1v2h-1zM327 546h1v2h-1zM327 548h1v2h-1zM1064 548h1v2h-1zM327 550h1v2h-1zM1064 550h1v2h-1zM327 552h1v2h-1zM1064 552h1v2h-1zM327 554h1v2h-1zM1064 554h1v2h-1zM587 570h13v2h-13zM651 570h14v2h-14zM876 570h45v2h-45zM567 572h10v2h-10zM677 572h13v2h-13zM842 572h17v2h-17zM937 572h14v2h-14zM553 574h10v2h-10zM694 574h14v2h-14zM819 574h17v2h-17zM958 574h14v2h-14zM251 576h63v2h-63zM542 576h10v2h-10zM707 576h23v2h-23zM802 576h20v2h-20zM973 576h15v2h-15zM241 578h12v2h-12zM313 578h7v2h-7zM534 578h10v2h-10zM719 578h92v2h-92zM986 578h15v2h-15zM234 580h10v2h-10zM319 580h3v2h-3zM525 580h11v2h-11zM769 580h30v2h-30zM998 580h16v2h-16zM228 582h9v2h-9zM328 582h1v2h-1zM509 582h19v2h-19zM1011 582h18v2h-18zM223 584h9v2h-9zM328 584h6v2h-6zM454 584h63v2h-63zM1025 584h19v2h-19zM220 586h8v2h-8zM333 586h145v2h-145zM1040 586h22v2h-22zM217 588h8v2h-8zM342 588h86v2h-86zM1055 588h7v2h-7zM1065 588h45v2h-45zM216 590h8v2h-8zM1075 590h71v2h-71zM216 592h8v2h-8zM1094 592h73v2h-73zM217 594h7v2h-7zM1103 594h73v2h-73zM219 596h7v2h-7zM1105 596h74v2h-74zM220 598h7v2h-7zM1105 598h74v2h-74zM222 600h6v2h-6zM1105 600h74v2h-74zM224 602h6v2h-6zM1105 602h74v2h-74zM225 604h6v2h-6zM1106 604h73v2h-73zM227 606h6v2h-6zM1106 606h74v2h-74zM229 608h6v2h-6zM1108 608h74v2h-74zM231 610h7v2h-7zM1112 610h74v2h-74zM235 612h7v2h-7zM1118 612h75v2h-75zM239 614h7v2h-7zM1126 614h76v2h-76zM244 616h8v2h-8zM1135 616h77v2h-77zM250 618h12v2h-12zM1144 618h78v2h-78zM259 620h29v2h-29zM409 620h16v2h-16zM1153 620h79v2h-79zM277 622h40v2h-40zM368 622h82v2h-82zM1163 622h79v2h-79zM301 624h21v2h-21zM328 624h138v2h-138zM1173 624h79v2h-79zM316 626h6v2h-6zM328 626h74v2h-74zM429 626h49v2h-49zM1184 626h80v2h-80zM328 628h50v2h-50zM443 628h42v2h-42zM1198 628h80v2h-80zM329 630h32v2h-32zM451 630h38v2h-38zM1216 630h81v2h-81zM336 632h11v2h-11zM456 632h34v2h-34zM1242 632h80v2h-80zM458 634h32v2h-32zM1272 634h173v2h-173zM459 636h29v2h-29zM1303 636h142v2h-142zM460 638h27v2h-27zM1335 638h110v2h-110zM461 640h25v2h-25zM461 642h24v2h-24zM462 644h22v2h-22zM462 646h21v2h-21zM462 648h21v1h-21z"/>
<path fill="#d1d1d1" d="M324 448h1v2h-1zM324 450h1v2h-1zM325 460h1v2h-1zM1063 462h1v2h-1zM1063 464h1v2h-1zM1063 466h1v2h-1zM1063 468h1v2h-1zM323 476h1v2h-1zM1062 482h1v2h-1zM1062 484h1v2h-1zM1062 486h1v2h-1zM326 488h1v2h-1zM326 490h1v2h-1zM251 506h2v2h-2zM261 506h2v2h-2zM289 506h2v2h-2zM322 506h1v2h-1zM322 508h1v2h-1zM207 512h1v2h-1zM327 520h1v2h-1zM327 532h1v2h-1zM327 534h1v2h-1zM327 536h1v2h-1zM327 538h1v2h-1zM1064 538h1v2h-1zM1064 540h1v2h-1zM1064 542h1v2h-1zM1064 544h1v2h-1zM1064 546h1v2h-1zM327 556h1v2h-1zM1064 556h1v2h-1zM327 558h1v2h-1zM1064 558h1v2h-1zM1064 560h1v2h-1zM1064 562h1v2h-1zM1064 564h1v2h-1zM1064 566h1v2h-1zM600 570h51v2h-51zM577 572h9v2h-9zM665 572h12v2h-12zM859 572h17v2h-17zM922 572h15v2h-15zM563 574h9v2h-9zM682 574h12v2h-12zM836 574h16v2h-16zM945 574h13v2h-13zM552 576h9v2h-9zM694 576h13v2h-13zM822 576h16v2h-16zM960 576h13v2h-13zM253 578h60v2h-60zM544 578h9v2h-9zM703 578h16v2h-16zM811 578h17v2h-17zM972 578h14v2h-14zM244 580h10v2h-10zM312 580h7v2h-7zM536 580h9v2h-9zM712 580h57v2h-57zM799 580h21v2h-21zM983 580h15v2h-15zM237 582h9v2h-9zM319 582h3v2h-3zM528 582h10v2h-10zM724 582h88v2h-88zM995 582h16v2h-16zM232 584h8v2h-8zM517 584h13v2h-13zM770 584h32v2h-32zM1008 584h17v2h-17zM228 586h8v2h-8zM328 586h5v2h-5zM478 586h44v2h-44zM1021 586h19v2h-19zM225 588h7v2h-7zM331 588h11v2h-11zM428 588h80v2h-80zM1033 588h22v2h-22zM224 590h7v2h-7zM336 590h137v2h-137zM1043 590h19v2h-19zM1065 590h10v2h-10zM224 592h6v2h-6zM340 592h108v2h-108zM1048 592h14v2h-14zM1065 592h29v2h-29zM224 594h7v2h-7zM348 594h82v2h-82zM1050 594h12v2h-12zM1065 594h38v2h-38zM226 596h6v2h-6zM1050 596h12v2h-12zM1065 596h40v2h-40zM227 598h6v2h-6zM1050 598h12v2h-12zM1064 598h41v2h-41zM228 600h6v2h-6zM1049 600h13v2h-13zM1064 600h41v2h-41zM230 602h6v2h-6zM1047 602h15v2h-15zM1064 602h41v2h-41zM231 604h6v2h-6zM1046 604h16v2h-16zM1064 604h42v2h-42zM233 606h6v2h-6zM1044 606h18v2h-18zM1064 606h42v2h-42zM235 608h6v2h-6zM1044 608h18v2h-18zM1064 608h44v2h-44zM238 610h6v2h-6zM1046 610h16v2h-16zM1064 610h48v2h-48zM242 612h6v2h-6zM1051 612h11v2h-11zM1064 612h54v2h-54zM246 614h8v2h-8zM1057 614h5v2h-5zM1064 614h62v2h-62zM252 616h13v2h-13zM351 616h109v2h-109zM1065 616h70v2h-70zM262 618h50v2h-50zM320 618h2v2h-2zM328 618h158v2h-158zM1073 618h71v2h-71zM288 620h34v2h-34zM328 620h81v2h-81zM425 620h77v2h-77zM1082 620h71v2h-71zM317 622h5v2h-5zM328 622h40v2h-40zM450 622h61v2h-61zM1091 622h72v2h-72zM466 624h50v2h-50zM1100 624h73v2h-73zM478 626h42v2h-42zM1110 626h74v2h-74zM485 628h36v2h-36zM1121 628h77v2h-77zM489 630h33v2h-33zM1134 630h82v2h-82zM490 632h31v2h-31zM1151 632h91v2h-91zM490 634h29v2h-29zM1176 634h96v2h-96zM488 636h28v2h-28zM1211 636h92v2h-92zM487 638h27v2h-27zM1255 638h80v2h-80zM486 640h25v2h-25zM1287 640h158v2h-158zM327 642h1v2h-1zM485 642h24v2h-24zM1319 642h126v2h-126zM327 644h1v2h-1zM484 644h22v2h-22zM1355 644h90v2h-90zM327 646h1v2h-1zM483 646h22v2h-22zM327 648h1v1h-1zM483 648h21v1h-21z"/>
<path fill="#d3d3d3" d="M324 452h1v2h-1zM325 462h1v2h-1zM1063 470h1v2h-1zM1063 472h1v2h-1zM1063 474h1v2h-1zM323 478h1v2h-1zM1062 488h1v2h-1zM1062 490h1v2h-1zM326 492h1v2h-1zM1062 492h1v2h-1zM207 508h1v2h-1zM292 508h1v2h-1zM322 510h1v2h-1zM327 522h1v2h-1zM327 528h1v2h-1zM327 530h1v2h-1zM327 560h1v2h-1zM327 562h1v2h-1zM1064 568h1v2h-1zM1064 570h1v2h-1zM586 572h10v2h-10zM653 572h12v2h-12zM876 572h20v2h-20zM903 572h19v2h-19zM1064 572h1v2h-1zM572 574h8v2h-8zM671 574h11v2h-11zM852 574h15v2h-15zM932 574h13v2h-13zM561 576h9v2h-9zM683 576h11v2h-11zM838 576h14v2h-14zM948 576h12v2h-12zM553 578h9v2h-9zM691 578h12v2h-12zM828 578h14v2h-14zM959 578h13v2h-13zM254 580h22v2h-22zM284 580h28v2h-28zM545 580h9v2h-9zM699 580h13v2h-13zM820 580h15v2h-15zM970 580h13v2h-13zM246 582h9v2h-9zM312 582h7v2h-7zM538 582h9v2h-9zM706 582h18v2h-18zM812 582h16v2h-16zM980 582h15v2h-15zM240 584h8v2h-8zM318 584h4v2h-4zM530 584h10v2h-10zM715 584h55v2h-55zM802 584h19v2h-19zM991 584h17v2h-17zM236 586h7v2h-7zM522 586h11v2h-11zM729 586h86v2h-86zM1003 586h18v2h-18zM232 588h7v2h-7zM328 588h3v2h-3zM508 588h19v2h-19zM760 588h49v2h-49zM1013 588h20v2h-20zM231 590h6v2h-6zM329 590h7v2h-7zM473 590h49v2h-49zM780 590h23v2h-23zM1022 590h21v2h-21zM230 592h6v2h-6zM331 592h9v2h-9zM448 592h71v2h-71zM1025 592h23v2h-23zM231 594h6v2h-6zM332 594h16v2h-16zM430 594h87v2h-87zM1026 594h24v2h-24zM1064 594h1v2h-1zM232 596h5v2h-5zM333 596h183v2h-183zM1023 596h27v2h-27zM1064 596h1v2h-1zM233 598h5v2h-5zM334 598h182v2h-182zM1020 598h30v2h-30zM234 600h6v2h-6zM334 600h182v2h-182zM1016 600h33v2h-33zM236 602h5v2h-5zM335 602h181v2h-181zM1011 602h36v2h-36zM237 604h6v2h-6zM336 604h180v2h-180zM1005 604h41v2h-41zM239 606h6v2h-6zM336 606h181v2h-181zM998 606h46v2h-46zM241 608h6v2h-6zM336 608h182v2h-182zM993 608h51v2h-51zM244 610h7v2h-7zM333 610h188v2h-188zM992 610h54v2h-54zM248 612h8v2h-8zM328 612h196v2h-196zM997 612h54v2h-54zM254 614h13v2h-13zM319 614h3v2h-3zM328 614h199v2h-199zM1006 614h51v2h-51zM265 616h57v2h-57zM328 616h23v2h-23zM460 616h69v2h-69zM1015 616h47v2h-47zM1064 616h1v2h-1zM312 618h8v2h-8zM486 618h45v2h-45zM1024 618h38v2h-38zM1064 618h9v2h-9zM502 620h31v2h-31zM1031 620h31v2h-31zM1064 620h18v2h-18zM511 622h24v2h-24zM1038 622h24v2h-24zM1064 622h27v2h-27zM516 624h21v2h-21zM1044 624h18v2h-18zM1064 624h36v2h-36zM520 626h18v2h-18zM1050 626h12v2h-12zM1064 626h46v2h-46zM521 628h18v2h-18zM1056 628h6v2h-6zM1064 628h57v2h-57zM522 630h17v2h-17zM1065 630h69v2h-69zM327 632h1v2h-1zM521 632h17v2h-17zM1079 632h72v2h-72zM327 634h1v2h-1zM519 634h17v2h-17zM1097 634h79v2h-79zM327 636h1v2h-1zM516 636h18v2h-18zM1115 636h96v2h-96zM327 638h1v2h-1zM514 638h18v2h-18zM1134 638h121v2h-121zM327 640h1v2h-1zM511 640h19v2h-19zM1158 640h129v2h-129zM509 642h18v2h-18zM1221 642h98v2h-98zM506 644h19v2h-19zM1270 644h85v2h-85zM505 646h19v2h-19zM1296 646h149v2h-149zM504 648h18v1h-18zM1316 648h129v1h-129z"/>
<path fill="#d5d5d5" d="M324 454h1v2h-1zM324 456h1v2h-1zM325 464h1v2h-1zM325 466h1v2h-1zM1063 476h1v2h-1zM1063 478h1v2h-1zM323 480h1v2h-1zM1063 480h1v2h-1zM323 482h1v2h-1zM1063 482h1v2h-1zM326 494h1v2h-1zM1062 494h1v2h-1zM1062 496h1v2h-1zM1062 498h1v2h-1zM207 510h1v2h-1zM292 510h1v2h-1zM322 512h1v2h-1zM327 524h1v2h-1zM327 526h1v2h-1zM327 564h1v2h-1zM327 566h1v2h-1zM596 572h57v2h-57zM896 572h7v2h-7zM580 574h8v2h-8zM661 574h10v2h-10zM867 574h15v2h-15zM918 574h14v2h-14zM1064 574h1v2h-1zM570 576h8v2h-8zM672 576h11v2h-11zM852 576h13v2h-13zM936 576h12v2h-12zM1064 576h1v2h-1zM562 578h8v2h-8zM681 578h10v2h-10zM842 578h13v2h-13zM947 578h12v2h-12zM1064 578h1v2h-1zM276 580h8v2h-8zM554 580h8v2h-8zM688 580h11v2h-11zM835 580h13v2h-13zM957 580h13v2h-13zM1064 580h1v2h-1zM255 582h15v2h-15zM291 582h21v2h-21zM547 582h8v2h-8zM694 582h12v2h-12zM828 582h13v2h-13zM966 582h14v2h-14zM1064 582h1v2h-1zM248 584h8v2h-8zM311 584h7v2h-7zM540 584h9v2h-9zM701 584h14v2h-14zM821 584h15v2h-15zM976 584h15v2h-15zM1064 584h1v2h-1zM243 586h6v2h-6zM318 586h4v2h-4zM533 586h9v2h-9zM708 586h21v2h-21zM815 586h16v2h-16zM986 586h17v2h-17zM1064 586h1v2h-1zM239 588h6v2h-6zM321 588h1v2h-1zM527 588h10v2h-10zM715 588h45v2h-45zM809 588h17v2h-17zM995 588h18v2h-18zM1064 588h1v2h-1zM237 590h6v2h-6zM328 590h1v2h-1zM522 590h11v2h-11zM722 590h58v2h-58zM803 590h21v2h-21zM1001 590h21v2h-21zM1064 590h1v2h-1zM236 592h6v2h-6zM328 592h3v2h-3zM519 592h13v2h-13zM728 592h95v2h-95zM1003 592h22v2h-22zM1064 592h1v2h-1zM237 594h5v2h-5zM328 594h4v2h-4zM517 594h14v2h-14zM731 594h94v2h-94zM1001 594h25v2h-25zM237 596h5v2h-5zM328 596h5v2h-5zM516 596h16v2h-16zM732 596h95v2h-95zM997 596h26v2h-26zM238 598h5v2h-5zM328 598h6v2h-6zM516 598h17v2h-17zM732 598h98v2h-98zM991 598h29v2h-29zM240 600h5v2h-5zM328 600h6v2h-6zM516 600h18v2h-18zM732 600h103v2h-103zM984 600h32v2h-32zM241 602h5v2h-5zM328 602h7v2h-7zM516 602h19v2h-19zM732 602h108v2h-108zM974 602h37v2h-37zM243 604h5v2h-5zM328 604h8v2h-8zM516 604h21v2h-21zM732 604h114v2h-114zM962 604h43v2h-43zM245 606h5v2h-5zM328 606h8v2h-8zM517 606h21v2h-21zM733 606h121v2h-121zM948 606h50v2h-50zM1062 606h1v2h-1zM247 608h6v2h-6zM328 608h8v2h-8zM518 608h22v2h-22zM737 608h123v2h-123zM938 608h55v2h-55zM1062 608h1v2h-1zM251 610h7v2h-7zM318 610h4v2h-4zM328 610h5v2h-5zM521 610h22v2h-22zM745 610h114v2h-114zM933 610h59v2h-59zM1062 610h1v2h-1zM256 612h14v2h-14zM303 612h19v2h-19zM524 612h21v2h-21zM760 612h87v2h-87zM938 612h59v2h-59zM1062 612h2v2h-2zM267 614h52v2h-52zM527 614h20v2h-20zM782 614h40v2h-40zM949 614h57v2h-57zM1062 614h2v2h-2zM529 616h19v2h-19zM964 616h51v2h-51zM1062 616h2v2h-2zM531 618h19v2h-19zM978 618h46v2h-46zM1062 618h2v2h-2zM533 620h18v2h-18zM990 620h41v2h-41zM1062 620h2v2h-2zM535 622h18v2h-18zM999 622h39v2h-39zM1062 622h2v2h-2zM537 624h17v2h-17zM1007 624h37v2h-37zM1062 624h2v2h-2zM327 626h1v2h-1zM538 626h17v2h-17zM1015 626h35v2h-35zM1062 626h2v2h-2zM327 628h1v2h-1zM539 628h16v2h-16zM1022 628h34v2h-34zM1062 628h2v2h-2zM327 630h1v2h-1zM539 630h16v2h-16zM1029 630h36v2h-36zM538 632h15v2h-15zM1036 632h43v2h-43zM536 634h15v2h-15zM1044 634h53v2h-53zM534 636h15v2h-15zM1053 636h62v2h-62zM532 638h15v2h-15zM1062 638h2v2h-2zM1065 638h69v2h-69zM530 640h14v2h-14zM1063 640h1v2h-1zM1082 640h76v2h-76zM527 642h15v2h-15zM1063 642h1v2h-1zM1101 642h120v2h-120zM525 644h15v2h-15zM1063 644h1v2h-1zM1119 644h151v2h-151zM524 646h14v2h-14zM1063 646h1v2h-1zM1135 646h161v2h-161zM522 648h15v1h-15zM1063 648h1v1h-1zM1150 648h166v1h-166z"/>
<path fill="#d7d7d7" d="M324 458h1v2h-1zM324 460h1v2h-1zM325 468h1v2h-1zM323 484h1v2h-1zM1063 484h1v2h-1zM1063 486h1v2h-1zM1063 488h1v2h-1zM1063 490h1v2h-1zM326 496h1v2h-1zM326 498h1v2h-1zM1062 500h1v2h-1zM1062 502h1v2h-1zM1062 504h1v2h-1zM1062 506h1v2h-1zM1062 508h1v2h-1zM1062 510h1v2h-1zM322 514h1v2h-1zM327 568h1v2h-1zM327 570h1v2h-1zM588 574h10v2h-10zM650 574h11v2h-11zM882 574h36v2h-36zM578 576h7v2h-7zM663 576h9v2h-9zM865 576h13v2h-13zM923 576h13v2h-13zM570 578h7v2h-7zM671 578h10v2h-10zM855 578h12v2h-12zM936 578h11v2h-11zM562 580h8v2h-8zM678 580h10v2h-10zM848 580h11v2h-11zM945 580h12v2h-12zM270 582h21v2h-21zM555 582h8v2h-8zM684 582h10v2h-10zM841 582h13v2h-13zM954 582h12v2h-12zM256 584h11v2h-11zM295 584h16v2h-16zM549 584h8v2h-8zM690 584h11v2h-11zM836 584h13v2h-13zM962 584h14v2h-14zM249 586h7v2h-7zM310 586h8v2h-8zM542 586h9v2h-9zM696 586h12v2h-12zM831 586h14v2h-14zM970 586h16v2h-16zM245 588h6v2h-6zM316 588h5v2h-5zM537 588h9v2h-9zM701 588h14v2h-14zM826 588h16v2h-16zM977 588h18v2h-18zM243 590h5v2h-5zM319 590h3v2h-3zM533 590h10v2h-10zM705 590h17v2h-17zM824 590h16v2h-16zM982 590h19v2h-19zM242 592h5v2h-5zM321 592h1v2h-1zM532 592h9v2h-9zM707 592h21v2h-21zM823 592h19v2h-19zM982 592h21v2h-21zM242 594h5v2h-5zM321 594h1v2h-1zM531 594h10v2h-10zM707 594h24v2h-24zM825 594h20v2h-20zM977 594h24v2h-24zM242 596h5v2h-5zM321 596h1v2h-1zM532 596h11v2h-11zM706 596h26v2h-26zM827 596h24v2h-24zM969 596h28v2h-28zM243 598h5v2h-5zM321 598h1v2h-1zM533 598h11v2h-11zM704 598h28v2h-28zM830 598h27v2h-27zM958 598h33v2h-33zM1062 598h1v2h-1zM245 600h5v2h-5zM320 600h2v2h-2zM534 600h12v2h-12zM702 600h30v2h-30zM835 600h31v2h-31zM945 600h39v2h-39zM1062 600h1v2h-1zM246 602h5v2h-5zM319 602h3v2h-3zM535 602h14v2h-14zM700 602h32v2h-32zM840 602h36v2h-36zM930 602h44v2h-44zM1062 602h1v2h-1zM248 604h6v2h-6zM317 604h5v2h-5zM537 604h15v2h-15zM697 604h35v2h-35zM846 604h43v2h-43zM913 604h49v2h-49zM1062 604h2v2h-2zM250 606h6v2h-6zM314 606h8v2h-8zM538 606h17v2h-17zM693 606h40v2h-40zM854 606h94v2h-94zM1063 606h1v2h-1zM253 608h8v2h-8zM308 608h14v2h-14zM540 608h18v2h-18zM689 608h48v2h-48zM860 608h78v2h-78zM1063 608h1v2h-1zM258 610h17v2h-17zM289 610h29v2h-29zM543 610h19v2h-19zM688 610h57v2h-57zM859 610h74v2h-74zM1063 610h1v2h-1zM270 612h33v2h-33zM545 612h19v2h-19zM693 612h67v2h-67zM847 612h91v2h-91zM547 614h19v2h-19zM703 614h79v2h-79zM822 614h127v2h-127zM548 616h19v2h-19zM721 616h243v2h-243zM550 618h18v2h-18zM748 618h116v2h-116zM916 618h62v2h-62zM551 620h18v2h-18zM789 620h26v2h-26zM932 620h58v2h-58zM327 622h1v2h-1zM553 622h17v2h-17zM948 622h51v2h-51zM327 624h1v2h-1zM554 624h17v2h-17zM964 624h43v2h-43zM555 626h16v2h-16zM978 626h37v2h-37zM555 628h16v2h-16zM988 628h34v2h-34zM555 630h16v2h-16zM996 630h33v2h-33zM553 632h16v2h-16zM1003 632h33v2h-33zM551 634h16v2h-16zM1010 634h34v2h-34zM549 636h15v2h-15zM1018 636h35v2h-35zM547 638h15v2h-15zM1026 638h36v2h-36zM1064 638h1v2h-1zM544 640h15v2h-15zM1035 640h28v2h-28zM1064 640h18v2h-18zM542 642h15v2h-15zM1044 642h19v2h-19zM1064 642h37v2h-37zM540 644h15v2h-15zM1054 644h9v2h-9zM1064 644h55v2h-55zM538 646h15v2h-15zM1065 646h70v2h-70zM537 648h14v1h-14zM1076 648h74v1h-74z"/>
<path fill="#d9d9d9" d="M324 462h1v2h-1zM324 464h1v2h-1zM325 470h1v2h-1zM325 472h1v2h-1zM323 486h1v2h-1zM323 488h1v2h-1zM1063 492h1v2h-1zM1063 494h1v2h-1zM1063 496h1v2h-1zM326 500h1v2h-1zM208 512h84v2h-84zM1062 512h1v2h-1zM1062 514h1v2h-1zM322 516h1v2h-1zM1062 516h1v2h-1zM322 518h1v2h-1zM1062 518h1v2h-1zM1062 520h1v2h-1zM1062 522h1v2h-1zM1062 524h1v2h-1zM322 540h1v2h-1zM322 542h1v2h-1zM322 544h1v2h-1zM322 546h1v2h-1zM322 548h1v2h-1zM322 550h1v2h-1zM322 552h1v2h-1zM327 572h1v2h-1zM327 574h1v2h-1zM598 574h52v2h-52zM585 576h8v2h-8zM654 576h9v2h-9zM878 576h17v2h-17zM906 576h17v2h-17zM577 578h7v2h-7zM663 578h8v2h-8zM867 578h12v2h-12zM923 578h13v2h-13zM570 580h7v2h-7zM670 580h8v2h-8zM859 580h12v2h-12zM934 580h11v2h-11zM563 582h7v2h-7zM676 582h8v2h-8zM854 582h11v2h-11zM942 582h12v2h-12zM267 584h28v2h-28zM557 584h7v2h-7zM681 584h9v2h-9zM849 584h11v2h-11zM949 584h13v2h-13zM256 586h10v2h-10zM296 586h14v2h-14zM551 586h8v2h-8zM686 586h10v2h-10zM845 586h12v2h-12zM955 586h15v2h-15zM251 588h6v2h-6zM308 588h8v2h-8zM546 588h8v2h-8zM690 588h11v2h-11zM842 588h13v2h-13zM960 588h17v2h-17zM248 590h6v2h-6zM313 590h6v2h-6zM543 590h8v2h-8zM693 590h12v2h-12zM840 590h15v2h-15zM962 590h20v2h-20zM247 592h5v2h-5zM315 592h6v2h-6zM541 592h9v2h-9zM694 592h13v2h-13zM842 592h17v2h-17zM959 592h23v2h-23zM1062 592h1v2h-1zM247 594h5v2h-5zM316 594h5v2h-5zM541 594h10v2h-10zM693 594h14v2h-14zM845 594h20v2h-20zM951 594h26v2h-26zM1062 594h1v2h-1zM247 596h5v2h-5zM315 596h6v2h-6zM543 596h10v2h-10zM691 596h15v2h-15zM851 596h22v2h-22zM939 596h30v2h-30zM1062 596h1v2h-1zM248 598h5v2h-5zM314 598h7v2h-7zM544 598h11v2h-11zM688 598h16v2h-16zM857 598h27v2h-27zM923 598h35v2h-35zM1063 598h1v2h-1zM250 600h5v2h-5zM313 600h7v2h-7zM546 600h12v2h-12zM684 600h18v2h-18zM866 600h79v2h-79zM1063 600h1v2h-1zM251 602h6v2h-6zM310 602h9v2h-9zM549 602h13v2h-13zM679 602h21v2h-21zM876 602h54v2h-54zM1063 602h1v2h-1zM254 604h6v2h-6zM306 604h11v2h-11zM552 604h14v2h-14zM673 604h24v2h-24zM889 604h24v2h-24zM256 606h9v2h-9zM298 606h16v2h-16zM555 606h15v2h-15zM665 606h28v2h-28zM261 608h47v2h-47zM558 608h17v2h-17zM656 608h33v2h-33zM275 610h14v2h-14zM562 610h18v2h-18zM647 610h41v2h-41zM564 612h19v2h-19zM642 612h51v2h-51zM566 614h19v2h-19zM641 614h62v2h-62zM327 616h1v2h-1zM567 616h19v2h-19zM644 616h77v2h-77zM327 618h1v2h-1zM568 618h19v2h-19zM651 618h97v2h-97zM864 618h52v2h-52zM327 620h1v2h-1zM569 620h18v2h-18zM664 620h125v2h-125zM815 620h117v2h-117zM570 622h18v2h-18zM686 622h262v2h-262zM571 624h17v2h-17zM725 624h239v2h-239zM571 626h17v2h-17zM917 626h61v2h-61zM571 628h17v2h-17zM932 628h56v2h-56zM571 630h15v2h-15zM947 630h49v2h-49zM569 632h15v2h-15zM961 632h42v2h-42zM567 634h15v2h-15zM973 634h37v2h-37zM564 636h15v2h-15zM983 636h35v2h-35zM562 638h15v2h-15zM991 638h35v2h-35zM559 640h15v2h-15zM998 640h37v2h-37zM557 642h14v2h-14zM1006 642h38v2h-38zM322 644h1v2h-1zM555 644h14v2h-14zM1015 644h39v2h-39zM322 646h1v2h-1zM553 646h14v2h-14zM1022 646h41v2h-41zM1064 646h1v2h-1zM322 648h1v1h-1zM551 648h14v1h-14zM1028 648h35v1h-35zM1064 648h12v1h-12z"/>
<path fill="#dbdbdb" d="M324 466h1v2h-1zM324 468h1v2h-1zM325 474h1v2h-1zM325 476h1v2h-1zM323 490h1v2h-1zM323 492h1v2h-1zM1063 498h1v2h-1zM1063 500h1v2h-1zM326 502h1v2h-1zM1063 502h1v2h-1zM326 504h1v2h-1zM1063 504h1v2h-1zM1063 506h1v2h-1zM1063 508h1v2h-1zM1063 510h1v2h-1zM322 520h1v2h-1zM1062 526h1v2h-1zM1062 528h1v2h-1zM1062 530h1v2h-1zM322 532h1v2h-1zM1062 532h1v2h-1zM322 534h1v2h-1zM1062 534h1v2h-1zM322 536h1v2h-1zM1062 536h1v2h-1zM322 538h1v2h-1zM1062 538h1v2h-1zM1062 542h1v2h-1zM1062 544h1v2h-1zM1062 546h1v2h-1zM1062 548h1v2h-1zM1062 550h1v2h-1zM1062 552h1v2h-1zM322 554h1v2h-1zM1062 554h1v2h-1zM322 556h1v2h-1zM1062 556h1v2h-1zM322 558h1v2h-1zM1062 558h1v2h-1zM322 560h1v2h-1zM1062 560h1v2h-1zM1062 562h1v2h-1zM1062 564h1v2h-1zM1062 566h1v2h-1zM1062 568h1v2h-1zM1062 570h1v2h-1zM1062 572h1v2h-1zM1062 574h1v2h-1zM327 576h1v2h-1zM593 576h9v2h-9zM643 576h11v2h-11zM895 576h11v2h-11zM1062 576h1v2h-1zM327 578h1v2h-1zM584 578h6v2h-6zM655 578h8v2h-8zM879 578h16v2h-16zM907 578h16v2h-16zM1062 578h1v2h-1zM327 580h1v2h-1zM577 580h6v2h-6zM663 580h7v2h-7zM871 580h12v2h-12zM921 580h13v2h-13zM1062 580h1v2h-1zM327 582h1v2h-1zM570 582h7v2h-7zM668 582h8v2h-8zM865 582h11v2h-11zM930 582h12v2h-12zM1062 582h1v2h-1zM564 584h7v2h-7zM673 584h8v2h-8zM860 584h11v2h-11zM936 584h13v2h-13zM1062 584h1v2h-1zM266 586h30v2h-30zM559 586h7v2h-7zM678 586h8v2h-8zM857 586h12v2h-12zM941 586h14v2h-14zM1062 586h1v2h-1zM257 588h10v2h-10zM295 588h13v2h-13zM554 588h8v2h-8zM681 588h9v2h-9zM855 588h13v2h-13zM944 588h16v2h-16zM1062 588h1v2h-1zM254 590h6v2h-6zM304 590h9v2h-9zM551 590h8v2h-8zM683 590h10v2h-10zM855 590h15v2h-15zM943 590h19v2h-19zM1062 590h2v2h-2zM252 592h6v2h-6zM307 592h8v2h-8zM550 592h9v2h-9zM683 592h11v2h-11zM859 592h16v2h-16zM937 592h22v2h-22zM1063 592h1v2h-1zM252 594h5v2h-5zM308 594h8v2h-8zM551 594h9v2h-9zM682 594h11v2h-11zM865 594h19v2h-19zM924 594h27v2h-27zM1063 594h1v2h-1zM252 596h6v2h-6zM308 596h7v2h-7zM553 596h9v2h-9zM679 596h12v2h-12zM873 596h66v2h-66zM1063 596h1v2h-1zM253 598h6v2h-6zM306 598h8v2h-8zM555 598h10v2h-10zM675 598h13v2h-13zM884 598h39v2h-39zM255 600h6v2h-6zM303 600h10v2h-10zM558 600h11v2h-11zM669 600h15v2h-15zM257 602h8v2h-8zM298 602h12v2h-12zM562 602h11v2h-11zM663 602h16v2h-16zM260 604h12v2h-12zM289 604h17v2h-17zM566 604h13v2h-13zM654 604h19v2h-19zM265 606h33v2h-33zM570 606h15v2h-15zM641 606h24v2h-24zM327 608h1v2h-1zM575 608h18v2h-18zM625 608h31v2h-31zM327 610h1v2h-1zM580 610h67v2h-67zM327 612h1v2h-1zM583 612h59v2h-59zM327 614h1v2h-1zM585 614h56v2h-56zM586 616h58v2h-58zM587 618h64v2h-64zM587 620h77v2h-77zM588 622h98v2h-98zM588 624h137v2h-137zM588 626h329v2h-329zM588 628h344v2h-344zM586 630h361v2h-361zM322 632h1v2h-1zM584 632h377v2h-377zM322 634h1v2h-1zM582 634h19v2h-19zM910 634h63v2h-63zM322 636h1v2h-1zM579 636h17v2h-17zM923 636h60v2h-60zM322 638h1v2h-1zM577 638h15v2h-15zM936 638h55v2h-55zM322 640h1v2h-1zM574 640h15v2h-15zM949 640h49v2h-49zM322 642h1v2h-1zM571 642h15v2h-15zM961 642h45v2h-45zM569 644h14v2h-14zM973 644h42v2h-42zM567 646h14v2h-14zM981 646h41v2h-41zM565 648h14v1h-14zM987 648h41v1h-41z"/>
<path fill="#dddddd" d="M324 470h1v2h-1zM324 472h1v2h-1zM325 478h1v2h-1zM325 480h1v2h-1zM323 494h1v2h-1zM323 496h1v2h-1zM326 506h1v2h-1zM208 508h84v2h-84zM326 508h1v2h-1zM1063 512h1v2h-1zM1063 514h1v2h-1zM1063 516h1v2h-1zM1063 518h1v2h-1zM1063 520h1v2h-1zM322 522h1v2h-1zM1063 522h1v2h-1zM322 524h1v2h-1zM1063 524h1v2h-1zM322 526h1v2h-1zM1063 526h1v2h-1zM322 528h1v2h-1zM322 530h1v2h-1zM1062 540h1v2h-1zM322 562h1v2h-1zM322 564h1v2h-1zM322 566h1v2h-1zM602 576h41v2h-41zM1063 576h1v2h-1zM590 578h8v2h-8zM646 578h9v2h-9zM895 578h12v2h-12zM1063 578h1v2h-1zM583 580h6v2h-6zM655 580h8v2h-8zM883 580h38v2h-38zM1063 580h1v2h-1zM577 582h6v2h-6zM662 582h6v2h-6zM876 582h12v2h-12zM916 582h14v2h-14zM1063 582h1v2h-1zM327 584h1v2h-1zM571 584h6v2h-6zM667 584h6v2h-6zM871 584h12v2h-12zM923 584h13v2h-13zM1063 584h1v2h-1zM327 586h1v2h-1zM566 586h6v2h-6zM671 586h7v2h-7zM869 586h12v2h-12zM927 586h14v2h-14zM1063 586h1v2h-1zM267 588h28v2h-28zM327 588h1v2h-1zM562 588h6v2h-6zM674 588h7v2h-7zM868 588h13v2h-13zM928 588h16v2h-16zM1063 588h1v2h-1zM260 590h11v2h-11zM290 590h14v2h-14zM559 590h7v2h-7zM675 590h8v2h-8zM870 590h14v2h-14zM924 590h19v2h-19zM258 592h7v2h-7zM297 592h10v2h-10zM559 592h7v2h-7zM675 592h8v2h-8zM875 592h19v2h-19zM912 592h25v2h-25zM257 594h7v2h-7zM298 594h10v2h-10zM327 594h1v2h-1zM560 594h8v2h-8zM672 594h10v2h-10zM884 594h40v2h-40zM258 596h7v2h-7zM297 596h11v2h-11zM327 596h1v2h-1zM562 596h9v2h-9zM669 596h10v2h-10zM259 598h8v2h-8zM295 598h11v2h-11zM327 598h1v2h-1zM565 598h9v2h-9zM664 598h11v2h-11zM261 600h11v2h-11zM289 600h14v2h-14zM327 600h1v2h-1zM569 600h10v2h-10zM657 600h12v2h-12zM265 602h33v2h-33zM327 602h1v2h-1zM573 602h11v2h-11zM648 602h15v2h-15zM272 604h17v2h-17zM327 604h1v2h-1zM579 604h12v2h-12zM634 604h20v2h-20zM327 606h1v2h-1zM585 606h56v2h-56zM593 608h32v2h-32zM322 624h1v2h-1zM322 626h1v2h-1zM322 628h1v2h-1zM322 630h1v2h-1zM601 634h309v2h-309zM596 636h327v2h-327zM592 638h344v2h-344zM589 640h360v2h-360zM586 642h375v2h-375zM583 644h19v2h-19zM910 644h63v2h-63zM581 646h16v2h-16zM921 646h60v2h-60zM579 648h16v1h-16zM929 648h58v1h-58z"/>
<path fill="#dfdfdf" d="M324 474h1v2h-1zM324 476h1v2h-1zM325 482h1v2h-1zM325 484h1v2h-1zM323 498h1v2h-1zM323 500h1v2h-1zM326 510h1v2h-1zM1063 528h1v2h-1zM1063 530h1v2h-1zM1063 532h1v2h-1zM1063 534h1v2h-1zM1063 536h1v2h-1zM1063 538h1v2h-1zM1063 540h1v2h-1zM1063 542h1v2h-1zM1063 544h1v2h-1zM1063 546h1v2h-1zM1063 548h1v2h-1zM1063 550h1v2h-1zM1063 552h1v2h-1zM1063 554h1v2h-1zM1063 556h1v2h-1zM1063 558h1v2h-1zM1063 560h1v2h-1zM1063 562h1v2h-1zM1063 564h1v2h-1zM1063 566h1v2h-1zM322 568h1v2h-1zM1063 568h1v2h-1zM322 570h1v2h-1zM1063 570h1v2h-1zM1063 572h1v2h-1zM1063 574h1v2h-1zM598 578h12v2h-12zM631 578h15v2h-15zM589 580h6v2h-6zM648 580h7v2h-7zM583 582h5v2h-5zM655 582h7v2h-7zM888 582h28v2h-28zM577 584h6v2h-6zM660 584h7v2h-7zM883 584h40v2h-40zM572 586h6v2h-6zM664 586h7v2h-7zM881 586h16v2h-16zM908 586h19v2h-19zM568 588h6v2h-6zM667 588h7v2h-7zM881 588h19v2h-19zM905 588h23v2h-23zM271 590h19v2h-19zM327 590h1v2h-1zM566 590h7v2h-7zM668 590h7v2h-7zM884 590h40v2h-40zM265 592h32v2h-32zM327 592h1v2h-1zM566 592h7v2h-7zM667 592h8v2h-8zM894 592h18v2h-18zM264 594h34v2h-34zM568 594h7v2h-7zM664 594h8v2h-8zM265 596h32v2h-32zM571 596h7v2h-7zM660 596h9v2h-9zM267 598h28v2h-28zM574 598h8v2h-8zM654 598h10v2h-10zM272 600h17v2h-17zM579 600h9v2h-9zM645 600h12v2h-12zM584 602h11v2h-11zM630 602h18v2h-18zM591 604h43v2h-43zM322 616h1v2h-1zM322 618h1v2h-1zM322 620h1v2h-1zM322 622h1v2h-1zM602 644h308v2h-308zM597 646h324v2h-324zM595 648h334v1h-334z"/>
<path fill="#e1e1e1" d="M324 478h1v2h-1zM324 480h1v2h-1zM324 482h1v2h-1zM325 486h1v2h-1zM325 488h1v2h-1zM323 502h1v2h-1zM208 510h84v2h-84zM326 512h1v2h-1zM326 514h1v2h-1zM322 572h1v2h-1zM322 574h1v2h-1zM322 576h1v2h-1zM322 578h1v2h-1zM610 578h21v2h-21zM595 580h9v2h-9zM637 580h11v2h-11zM588 582h6v2h-6zM648 582h7v2h-7zM583 584h5v2h-5zM654 584h6v2h-6zM578 586h5v2h-5zM658 586h6v2h-6zM897 586h11v2h-11zM574 588h6v2h-6zM661 588h6v2h-6zM900 588h5v2h-5zM573 590h6v2h-6zM662 590h6v2h-6zM573 592h6v2h-6zM660 592h7v2h-7zM575 594h6v2h-6zM657 594h7v2h-7zM578 596h7v2h-7zM652 596h8v2h-8zM582 598h8v2h-8zM644 598h10v2h-10zM588 600h10v2h-10zM630 600h15v2h-15zM595 602h35v2h-35zM322 608h1v2h-1zM322 610h1v2h-1zM322 612h1v2h-1zM322 614h1v2h-1z"/>
<path fill="#e3e3e3" d="M324 484h1v2h-1zM324 486h1v2h-1zM324 488h1v2h-1zM325 490h1v2h-1zM325 492h1v2h-1zM325 494h1v2h-1zM323 504h1v2h-1zM323 506h1v2h-1zM326 516h1v2h-1zM326 518h1v2h-1zM326 542h1v2h-1zM326 544h1v2h-1zM326 546h1v2h-1zM326 548h1v2h-1zM326 550h1v2h-1zM326 552h1v2h-1zM326 554h1v2h-1zM322 580h1v2h-1zM604 580h33v2h-33zM322 582h1v2h-1zM594 582h7v2h-7zM640 582h8v2h-8zM322 584h1v2h-1zM588 584h5v2h-5zM648 584h6v2h-6zM322 586h1v2h-1zM583 586h5v2h-5zM653 586h5v2h-5zM322 588h1v2h-1zM580 588h5v2h-5zM655 588h6v2h-6zM322 590h1v2h-1zM579 590h5v2h-5zM656 590h6v2h-6zM322 592h1v2h-1zM579 592h6v2h-6zM654 592h6v2h-6zM322 594h1v2h-1zM581 594h6v2h-6zM650 594h7v2h-7zM322 596h1v2h-1zM585 596h7v2h-7zM643 596h9v2h-9zM322 598h1v2h-1zM590 598h10v2h-10zM631 598h13v2h-13zM322 600h1v2h-1zM598 600h32v2h-32zM322 602h1v2h-1zM322 604h1v2h-1zM322 606h1v2h-1zM326 630h1v2h-1zM326 632h1v2h-1zM326 634h1v2h-1zM326 636h1v2h-1zM326 638h1v2h-1zM326 640h1v2h-1zM326 642h1v2h-1zM326 644h1v2h-1zM326 646h1v2h-1zM326 648h1v1h-1z"/>
<path fill="#e5e5e5" d="M324 490h1v2h-1zM324 492h1v2h-1zM325 496h1v2h-1zM325 498h1v2h-1zM323 508h1v2h-1zM323 510h1v2h-1zM326 520h1v2h-1zM326 522h1v2h-1zM326 532h1v2h-1zM326 534h1v2h-1zM326 536h1v2h-1zM326 538h1v2h-1zM326 540h1v2h-1zM326 556h1v2h-1zM326 558h1v2h-1zM326 560h1v2h-1zM326 562h1v2h-1zM326 564h1v2h-1zM326 566h1v2h-1zM326 568h1v2h-1zM601 582h15v2h-15zM624 582h16v2h-16zM593 584h7v2h-7zM640 584h8v2h-8zM588 586h6v2h-6zM646 586h7v2h-7zM585 588h5v2h-5zM649 588h6v2h-6zM584 590h5v2h-5zM650 590h6v2h-6zM585 592h5v2h-5zM647 592h7v2h-7zM587 594h7v2h-7zM642 594h8v2h-8zM592 596h8v2h-8zM632 596h11v2h-11zM600 598h31v2h-31zM326 616h1v2h-1zM326 618h1v2h-1zM326 620h1v2h-1zM326 622h1v2h-1zM326 624h1v2h-1zM326 626h1v2h-1zM326 628h1v2h-1zM323 646h1v2h-1zM323 648h1v1h-1z"/>
<path fill="#e7e7e7" d="M324 494h1v2h-1zM324 496h1v2h-1zM324 498h1v2h-1zM325 500h1v2h-1zM325 502h1v2h-1zM323 512h1v2h-1zM323 514h1v2h-1zM323 516h1v2h-1zM326 524h1v2h-1zM326 526h1v2h-1zM326 528h1v2h-1zM326 530h1v2h-1zM326 570h1v2h-1zM326 572h1v2h-1zM326 574h1v2h-1zM326 576h1v2h-1zM326 578h1v2h-1zM326 580h1v2h-1zM326 582h1v2h-1zM616 582h8v2h-8zM326 584h1v2h-1zM600 584h10v2h-10zM629 584h11v2h-11zM594 586h6v2h-6zM639 586h7v2h-7zM590 588h6v2h-6zM643 588h6v2h-6zM589 590h6v2h-6zM643 590h7v2h-7zM590 592h6v2h-6zM640 592h7v2h-7zM594 594h8v2h-8zM632 594h10v2h-10zM326 596h1v2h-1zM600 596h32v2h-32zM326 598h1v2h-1zM326 600h1v2h-1zM326 602h1v2h-1zM326 604h1v2h-1zM326 606h1v2h-1zM326 608h1v2h-1zM326 610h1v2h-1zM326 612h1v2h-1zM326 614h1v2h-1zM323 624h1v2h-1zM323 626h1v2h-1zM323 628h1v2h-1zM323 630h1v2h-1zM323 632h1v2h-1zM323 634h1v2h-1zM323 636h1v2h-1zM323 638h1v2h-1zM323 640h1v2h-1zM323 642h1v2h-1zM323 644h1v2h-1z"/>
<path fill="#e9e9e9" d="M324 500h1v2h-1zM324 502h1v2h-1zM325 504h1v2h-1zM325 506h1v2h-1zM325 508h1v2h-1zM323 518h1v2h-1zM323 520h1v2h-1zM323 538h1v2h-1zM323 540h1v2h-1zM323 542h1v2h-1zM323 544h1v2h-1zM323 546h1v2h-1zM323 548h1v2h-1zM323 550h1v2h-1zM323 552h1v2h-1zM323 554h1v2h-1zM323 556h1v2h-1zM323 558h1v2h-1zM323 560h1v2h-1zM323 562h1v2h-1zM323 564h1v2h-1zM323 566h1v2h-1zM323 568h1v2h-1zM323 570h1v2h-1zM610 584h19v2h-19zM326 586h1v2h-1zM600 586h10v2h-10zM628 586h11v2h-11zM326 588h1v2h-1zM596 588h7v2h-7zM634 588h9v2h-9zM326 590h1v2h-1zM595 590h6v2h-6zM635 590h8v2h-8zM326 592h1v2h-1zM596 592h9v2h-9zM630 592h10v2h-10zM326 594h1v2h-1zM602 594h30v2h-30zM323 604h1v2h-1zM323 606h1v2h-1zM323 608h1v2h-1zM323 610h1v2h-1zM323 612h1v2h-1zM323 614h1v2h-1zM323 616h1v2h-1zM323 618h1v2h-1zM323 620h1v2h-1zM323 622h1v2h-1zM325 638h1v2h-1zM325 640h1v2h-1zM325 642h1v2h-1zM325 644h1v2h-1zM325 646h1v2h-1zM325 648h1v1h-1z"/>
<path fill="#ebebeb" d="M324 504h1v2h-1zM324 506h1v2h-1zM324 508h1v2h-1zM325 510h1v2h-1zM325 512h1v2h-1zM323 522h1v2h-1zM323 524h1v2h-1zM323 526h1v2h-1zM323 528h1v2h-1zM323 530h1v2h-1zM323 532h1v2h-1zM323 534h1v2h-1zM323 536h1v2h-1zM323 572h1v2h-1zM323 574h1v2h-1zM323 576h1v2h-1zM323 578h1v2h-1zM323 580h1v2h-1zM323 582h1v2h-1zM323 584h1v2h-1zM323 586h1v2h-1zM610 586h18v2h-18zM323 588h1v2h-1zM603 588h31v2h-31zM323 590h1v2h-1zM601 590h34v2h-34zM323 592h1v2h-1zM605 592h25v2h-25zM323 594h1v2h-1zM323 596h1v2h-1zM323 598h1v2h-1zM323 600h1v2h-1zM323 602h1v2h-1zM325 606h1v2h-1zM325 608h1v2h-1zM325 610h1v2h-1zM325 612h1v2h-1zM325 614h1v2h-1zM325 616h1v2h-1zM325 618h1v2h-1zM324 620h2v2h-2zM324 622h2v2h-2zM324 624h2v2h-2zM324 626h2v2h-2zM324 628h2v2h-2zM324 630h2v2h-2zM324 632h2v2h-2zM324 634h2v2h-2zM324 636h2v2h-2zM324 638h1v2h-1zM324 640h1v2h-1zM324 642h1v2h-1zM324 644h1v2h-1zM324 646h1v2h-1zM324 648h1v1h-1z"/>
<path fill="#ededed" d="M324 510h1v2h-1zM324 512h1v2h-1zM324 514h2v2h-2zM325 516h1v2h-1zM325 518h1v2h-1zM325 544h1v2h-1zM325 546h1v2h-1zM325 548h1v2h-1zM325 550h1v2h-1zM325 552h1v2h-1zM325 554h1v2h-1zM325 556h1v2h-1zM325 558h1v2h-1zM325 560h1v2h-1zM325 562h1v2h-1zM325 564h1v2h-1zM325 566h1v2h-1zM325 568h1v2h-1zM325 570h1v2h-1zM325 572h1v2h-1zM325 574h1v2h-1zM325 576h1v2h-1zM325 578h1v2h-1zM324 580h2v2h-2zM324 582h2v2h-2zM324 584h2v2h-2zM324 586h2v2h-2zM324 588h2v2h-2zM324 590h2v2h-2zM324 592h2v2h-2zM324 594h2v2h-2zM324 596h2v2h-2zM324 598h2v2h-2zM324 600h2v2h-2zM324 602h2v2h-2zM324 604h2v2h-2zM324 606h1v2h-1zM324 608h1v2h-1zM324 610h1v2h-1zM324 612h1v2h-1zM324 614h1v2h-1zM324 616h1v2h-1zM324 618h1v2h-1z"/>
<path fill="#efefef" d="M324 516h1v2h-1zM324 518h1v2h-1zM325 520h1v2h-1zM325 522h1v2h-1zM325 528h1v2h-1zM325 530h1v2h-1zM325 532h1v2h-1zM325 534h1v2h-1zM325 536h1v2h-1zM325 538h1v2h-1zM324 540h2v2h-2zM324 542h2v2h-2zM324 544h1v2h-1zM324 546h1v2h-1zM324 548h1v2h-1zM324 550h1v2h-1zM324 552h1v2h-1zM324 554h1v2h-1zM324 556h1v2h-1zM324 558h1v2h-1zM324 560h1v2h-1zM324 562h1v2h-1zM324 564h1v2h-1zM324 566h1v2h-1zM324 568h1v2h-1zM324 570h1v2h-1zM324 572h1v2h-1zM324 574h1v2h-1zM324 576h1v2h-1zM324 578h1v2h-1z"/>
<path fill="#f1f1f1" d="M324 520h1v2h-1zM324 522h1v2h-1zM324 524h2v2h-2zM324 526h2v2h-2zM324 528h1v2h-1zM324 530h1v2h-1zM324 532h1v2h-1zM324 534h1v2h-1zM324 536h1v2h-1zM324 538h1v2h-1z"/></g>
<g fill="url(#vlg)" shape-rendering="auto"><rect x="839.9" y="337" width="1.2" height="83" opacity="0.061"/><rect x="1344.0" y="337" width="1.2" height="156" opacity="0.101"/><rect x="828.0" y="337" width="1.2" height="154" opacity="0.054"/><rect x="1381.2" y="337" width="1.2" height="140" opacity="0.034"/><rect x="1046.9" y="337" width="1.2" height="141" opacity="0.070"/><rect x="1142.7" y="337" width="1.2" height="85" opacity="0.081"/><rect x="1262.5" y="337" width="1.2" height="146" opacity="0.100"/><rect x="1070.2" y="337" width="1.2" height="90" opacity="0.106"/><rect x="898.0" y="337" width="1.2" height="86" opacity="0.090"/><rect x="813.3" y="337" width="1.2" height="109" opacity="0.089"/><rect x="730.1" y="337" width="1.2" height="73" opacity="0.085"/><rect x="1241.2" y="337" width="1.2" height="149" opacity="0.085"/><rect x="1010.3" y="337" width="1.2" height="87" opacity="0.090"/><rect x="790.4" y="337" width="1.2" height="139" opacity="0.107"/><rect x="1351.1" y="337" width="1.2" height="125" opacity="0.058"/><rect x="880.4" y="337" width="1.2" height="142" opacity="0.034"/><rect x="989.3" y="337" width="1.2" height="126" opacity="0.047"/><rect x="897.5" y="337" width="1.2" height="159" opacity="0.045"/><rect x="1156.0" y="337" width="1.2" height="107" opacity="0.057"/><rect x="1117.9" y="337" width="1.2" height="117" opacity="0.094"/><rect x="1133.5" y="337" width="1.2" height="103" opacity="0.032"/><rect x="873.9" y="337" width="1.2" height="139" opacity="0.064"/><rect x="888.6" y="337" width="1.2" height="100" opacity="0.094"/><rect x="864.4" y="337" width="1.2" height="144" opacity="0.049"/><rect x="921.9" y="337" width="1.2" height="80" opacity="0.032"/><rect x="779.4" y="337" width="1.2" height="94" opacity="0.047"/><rect x="796.1" y="337" width="1.2" height="112" opacity="0.034"/><rect x="1416.4" y="337" width="1.2" height="84" opacity="0.093"/><rect x="1413.5" y="337" width="1.2" height="91" opacity="0.041"/><rect x="813.8" y="337" width="1.2" height="148" opacity="0.043"/><rect x="686.3" y="337" width="1.2" height="106" opacity="0.094"/><rect x="826.3" y="337" width="1.2" height="92" opacity="0.094"/><rect x="1211.2" y="337" width="1.2" height="149" opacity="0.075"/><rect x="1273.1" y="337" width="1.2" height="124" opacity="0.102"/><rect x="685.2" y="337" width="1.2" height="130" opacity="0.032"/><rect x="1116.2" y="337" width="1.2" height="153" opacity="0.106"/><rect x="668.7" y="337" width="1.2" height="137" opacity="0.074"/><rect x="1067.9" y="337" width="1.2" height="96" opacity="0.052"/><rect x="1164.5" y="337" width="1.2" height="73" opacity="0.095"/><rect x="1433.2" y="337" width="1.2" height="122" opacity="0.081"/><rect x="868.7" y="337" width="1.2" height="136" opacity="0.108"/><rect x="1290.9" y="337" width="1.2" height="145" opacity="0.036"/><rect x="1343.8" y="337" width="1.2" height="90" opacity="0.075"/><rect x="1384.4" y="337" width="1.2" height="130" opacity="0.066"/><rect x="669.1" y="337" width="1.2" height="157" opacity="0.081"/><rect x="1032.2" y="337" width="1.2" height="96" opacity="0.047"/><rect x="1430.0" y="337" width="1.2" height="99" opacity="0.030"/><rect x="977.4" y="337" width="1.2" height="111" opacity="0.072"/><rect x="1299.7" y="337" width="1.2" height="124" opacity="0.057"/><rect x="1092.0" y="337" width="1.2" height="162" opacity="0.100"/><rect x="1266.4" y="337" width="1.2" height="125" opacity="0.065"/><rect x="1044.2" y="337" width="1.2" height="152" opacity="0.062"/><rect x="690.0" y="337" width="1.2" height="132" opacity="0.079"/><rect x="734.6" y="337" width="1.2" height="115" opacity="0.070"/><rect x="754.0" y="337" width="1.2" height="100" opacity="0.106"/><rect x="862.6" y="337" width="1.2" height="104" opacity="0.092"/><rect x="1417.1" y="337" width="1.2" height="142" opacity="0.068"/><rect x="1158.3" y="337" width="1.2" height="88" opacity="0.045"/><rect x="1301.9" y="337" width="1.2" height="85" opacity="0.077"/><rect x="1107.2" y="337" width="1.2" height="92" opacity="0.089"/><rect x="1161.1" y="337" width="1.2" height="133" opacity="0.089"/><rect x="1298.2" y="337" width="1.2" height="106" opacity="0.109"/><rect x="1387.4" y="337" width="1.2" height="91" opacity="0.045"/><rect x="1376.5" y="337" width="1.2" height="102" opacity="0.062"/><rect x="1308.3" y="337" width="1.2" height="80" opacity="0.062"/><rect x="740.6" y="337" width="1.2" height="112" opacity="0.053"/><rect x="947.9" y="337" width="1.2" height="146" opacity="0.057"/><rect x="695.0" y="337" width="1.2" height="113" opacity="0.066"/><rect x="1091.9" y="337" width="1.2" height="113" opacity="0.072"/><rect x="1286.0" y="337" width="1.2" height="75" opacity="0.049"/><rect x="707.1" y="337" width="1.2" height="98" opacity="0.038"/><rect x="814.0" y="337" width="1.2" height="79" opacity="0.052"/><rect x="951.4" y="337" width="1.2" height="77" opacity="0.038"/><rect x="857.2" y="337" width="1.2" height="150" opacity="0.053"/><rect x="1285.2" y="337" width="1.2" height="137" opacity="0.083"/><rect x="941.0" y="337" width="1.2" height="147" opacity="0.076"/><rect x="1163.8" y="337" width="1.2" height="84" opacity="0.109"/><rect x="1050.8" y="337" width="1.2" height="105" opacity="0.073"/><rect x="1120.8" y="337" width="1.2" height="155" opacity="0.072"/><rect x="1397.2" y="337" width="1.2" height="112" opacity="0.080"/><rect x="1400.5" y="337" width="1.2" height="156" opacity="0.087"/><rect x="754.2" y="337" width="1.2" height="159" opacity="0.078"/><rect x="1322.8" y="337" width="1.2" height="73" opacity="0.075"/><rect x="936.3" y="337" width="1.2" height="111" opacity="0.077"/><rect x="745.7" y="337" width="1.2" height="125" opacity="0.056"/><rect x="965.3" y="337" width="1.2" height="104" opacity="0.091"/><rect x="1063.9" y="337" width="1.2" height="106" opacity="0.077"/><rect x="1414.2" y="337" width="1.2" height="105" opacity="0.053"/><rect x="956.1" y="337" width="1.2" height="93" opacity="0.047"/><rect x="677.0" y="337" width="1.2" height="75" opacity="0.033"/><rect x="1335.4" y="337" width="1.2" height="138" opacity="0.056"/><rect x="753.7" y="337" width="1.2" height="162" opacity="0.028"/><rect x="1039.1" y="337" width="1.2" height="76" opacity="0.041"/><rect x="1327.8" y="337" width="1.2" height="150" opacity="0.032"/><rect x="1067.4" y="337" width="1.2" height="121" opacity="0.050"/><rect x="1014.4" y="337" width="1.2" height="74" opacity="0.056"/><rect x="1289.4" y="337" width="1.2" height="79" opacity="0.076"/><rect x="683.2" y="337" width="1.2" height="120" opacity="0.091"/><rect x="1112.3" y="337" width="1.2" height="82" opacity="0.078"/><rect x="987.0" y="337" width="1.2" height="99" opacity="0.040"/><rect x="1432.9" y="337" width="1.2" height="97" opacity="0.100"/><rect x="1290.1" y="337" width="1.2" height="160" opacity="0.087"/><rect x="709.3" y="337" width="1.2" height="115" opacity="0.068"/><rect x="815.4" y="337" width="1.2" height="98" opacity="0.080"/><rect x="1018.9" y="337" width="1.2" height="157" opacity="0.069"/><rect x="1213.6" y="337" width="1.2" height="160" opacity="0.041"/><rect x="925.4" y="337" width="1.2" height="137" opacity="0.080"/><rect x="947.1" y="337" width="1.2" height="85" opacity="0.108"/><rect x="1383.4" y="337" width="1.2" height="153" opacity="0.090"/><rect x="1408.4" y="337" width="1.2" height="112" opacity="0.042"/></g>
</g>
<g shape-rendering="crispEdges"><rect x="207" y="131" width="19" height="21" fill="#00008f"/><rect x="226" y="131" width="20" height="21" fill="#00009f"/><rect x="246" y="131" width="19" height="21" fill="#0000af"/><rect x="265" y="131" width="19" height="21" fill="#0000bf"/><rect x="284" y="131" width="20" height="21" fill="#0000cf"/><rect x="304" y="131" width="19" height="21" fill="#0000df"/><rect x="323" y="131" width="19" height="21" fill="#0000ef"/><rect x="342" y="131" width="20" height="21" fill="#0000ff"/><rect x="362" y="131" width="19" height="21" fill="#0010ff"/><rect x="381" y="131" width="19" height="21" fill="#0020ff"/><rect x="400" y="131" width="20" height="21" fill="#0030ff"/><rect x="420" y="131" width="19" height="21" fill="#0040ff"/><rect x="439" y="131" width="19" height="21" fill="#0050ff"/><rect x="458" y="131" width="20" height="21" fill="#0060ff"/><rect x="478" y="131" width="19" height="21" fill="#0070ff"/><rect x="497" y="131" width="19" height="21" fill="#0080ff"/><rect x="516" y="131" width="20" height="21" fill="#008fff"/><rect x="536" y="131" width="19" height="21" fill="#009fff"/><rect x="555" y="131" width="19" height="21" fill="#00afff"/><rect x="574" y="131" width="20" height="21" fill="#00bfff"/><rect x="594" y="131" width="19" height="21" fill="#00cfff"/><rect x="613" y="131" width="19" height="21" fill="#00dfff"/><rect x="632" y="131" width="20" height="21" fill="#00efff"/><rect x="652" y="131" width="19" height="21" fill="#00ffff"/><rect x="671" y="131" width="19" height="21" fill="#10ffef"/><rect x="690" y="131" width="20" height="21" fill="#20ffdf"/><rect x="710" y="131" width="19" height="21" fill="#30ffcf"/><rect x="729" y="131" width="19" height="21" fill="#40ffbf"/><rect x="748" y="131" width="20" height="21" fill="#50ffaf"/><rect x="768" y="131" width="19" height="21" fill="#60ff9f"/><rect x="787" y="131" width="19" height="21" fill="#70ff8f"/><rect x="806" y="131" width="20" height="21" fill="#80ff80"/><rect x="826" y="131" width="19" height="21" fill="#8fff70"/><rect x="845" y="131" width="19" height="21" fill="#9fff60"/><rect x="864" y="131" width="20" height="21" fill="#afff50"/><rect x="884" y="131" width="19" height="21" fill="#bfff40"/><rect x="903" y="131" width="19" height="21" fill="#cfff30"/><rect x="922" y="131" width="20" height="21" fill="#dfff20"/><rect x="942" y="131" width="19" height="21" fill="#efff10"/><rect x="961" y="131" width="19" height="21" fill="#ffff00"/><rect x="980" y="131" width="20" height="21" fill="#ffef00"/><rect x="1000" y="131" width="19" height="21" fill="#ffdf00"/><rect x="1019" y="131" width="19" height="21" fill="#ffcf00"/><rect x="1038" y="131" width="20" height="21" fill="#ffbf00"/><rect x="1058" y="131" width="19" height="21" fill="#ffaf00"/><rect x="1077" y="131" width="19" height="21" fill="#ff9f00"/><rect x="1096" y="131" width="20" height="21" fill="#ff8f00"/><rect x="1116" y="131" width="19" height="21" fill="#ff8000"/><rect x="1135" y="131" width="19" height="21" fill="#ff7000"/><rect x="1154" y="131" width="20" height="21" fill="#ff6000"/><rect x="1174" y="131" width="19" height="21" fill="#ff5000"/><rect x="1193" y="131" width="19" height="21" fill="#ff4000"/><rect x="1212" y="131" width="20" height="21" fill="#ff3000"/><rect x="1232" y="131" width="19" height="21" fill="#ff2000"/><rect x="1251" y="131" width="19" height="21" fill="#ff1000"/><rect x="1270" y="131" width="20" height="21" fill="#ff0000"/><rect x="1290" y="131" width="19" height="21" fill="#ef0000"/><rect x="1309" y="131" width="19" height="21" fill="#df0000"/><rect x="1328" y="131" width="20" height="21" fill="#cf0000"/><rect x="1348" y="131" width="19" height="21" fill="#bf0000"/><rect x="1367" y="131" width="19" height="21" fill="#af0000"/><rect x="1386" y="131" width="20" height="21" fill="#9f0000"/><rect x="1406" y="131" width="19" height="21" fill="#8f0000"/><rect x="1425" y="131" width="19" height="21" fill="#800000"/></g>
<rect x="207.5" y="130.5" width="1237" height="22" fill="none" stroke="#262626" stroke-width="1"/>
<g opacity="0.999">
<path d="M268.5 131v11M459.0 131v11M649.5 131v11M840.0 131v11M1030.5 131v11M1221.0 131v11M1411.5 131v11" stroke="#262626" stroke-width="1" fill="none"/>
<text x="267.5" y="121" text-anchor="middle" font-size="16" fill="#262626">-22</text>
<text x="458.0" y="121" text-anchor="middle" font-size="16" fill="#262626">-20</text>
<text x="648.5" y="121" text-anchor="middle" font-size="16" fill="#262626">-18</text>
<text x="839.0" y="121" text-anchor="middle" font-size="16" fill="#262626">-16</text>
<text x="1029.5" y="121" text-anchor="middle" font-size="16" fill="#262626">-14</text>
<text x="1220.0" y="121" text-anchor="middle" font-size="16" fill="#262626">-12</text>
<text x="1410.5" y="121" text-anchor="middle" font-size="16" fill="#262626">-10</text>
<path d="M192 619.5h15M192 598.8h15M192 582.8h15M192 569.7h15M192 558.6h15M192 549.0h15M192 540.6h15M176 533.0h31M192 483.2h15M192 454.1h15M192 433.4h15M192 417.4h15M192 404.3h15M192 393.2h15M192 383.6h15M192 375.2h15M176 367.6h31M192 317.8h15M192 288.7h15M192 268.0h15M192 252.0h15M192 238.9h15M192 227.8h15M192 218.2h15M192 209.8h15M176 202.2h31" stroke="#262626" stroke-width="1" fill="none"/>
<text x="142" y="210.2" font-size="18" fill="#262626" letter-spacing="-0.8">10<tspan dx="1.2" dy="-8.5" font-size="13" letter-spacing="0">2</tspan></text>
<text x="142" y="375.6" font-size="18" fill="#262626" letter-spacing="-0.8">10<tspan dx="1.2" dy="-8.5" font-size="13" letter-spacing="0">1</tspan></text>
<text x="142" y="541.0" font-size="18" fill="#262626" letter-spacing="-0.8">10<tspan dx="1.2" dy="-8.5" font-size="13" letter-spacing="0">0</tspan></text>
<path d="M207.0 649v31M222.5 649v15M237.9 649v15M253.4 649v15M268.9 649v15M284.3 649v15M299.8 649v15M315.3 649v15M330.8 649v15M346.2 649v15M361.7 649v31M377.2 649v15M392.6 649v15M408.1 649v15M423.6 649v15M439.0 649v15M454.5 649v15M470.0 649v15M485.4 649v15M500.9 649v15M516.4 649v31M531.8 649v15M547.3 649v15M562.8 649v15M578.2 649v15M593.7 649v15M609.2 649v15M624.7 649v15M640.1 649v15M655.6 649v15M671.1 649v31M686.5 649v15M702.0 649v15M717.5 649v15M732.9 649v15M748.4 649v15M763.9 649v15M779.3 649v15M794.8 649v15M810.3 649v15M825.8 649v31M841.2 649v15M856.7 649v15M872.2 649v15M887.6 649v15M903.1 649v15M918.6 649v15M934.0 649v15M949.5 649v15M965.0 649v15M980.4 649v31M995.9 649v15M1011.4 649v15M1026.8 649v15M1042.3 649v15M1057.8 649v15M1073.2 649v15M1088.7 649v15M1104.2 649v15M1119.7 649v15M1135.1 649v31M1150.6 649v15M1166.1 649v15M1181.5 649v15M1197.0 649v15M1212.5 649v15M1227.9 649v15M1243.4 649v15M1258.9 649v15M1274.3 649v15M1289.8 649v31M1305.3 649v15M1320.8 649v15M1336.2 649v15M1351.7 649v15M1367.2 649v15M1382.6 649v15M1398.1 649v15M1413.6 649v15M1429.0 649v15M1444.5 649v31" stroke="#262626" stroke-width="1" fill="none"/>
<text x="207.0" y="703" text-anchor="middle" font-size="18.3" fill="#262626">26-12-19 11:39</text>
<text x="361.7" y="703" text-anchor="middle" font-size="18.3" fill="#262626">26-12-19 22:07</text>
<text x="516.4" y="703" text-anchor="middle" font-size="18.3" fill="#262626">27-12-19 08:35</text>
<text x="671.1" y="703" text-anchor="middle" font-size="18.3" fill="#262626">27-12-19 19:03</text>
<text x="825.8" y="703" text-anchor="middle" font-size="18.3" fill="#262626">28-12-19 05:30</text>
<text x="980.4" y="703" text-anchor="middle" font-size="18.3" fill="#262626">28-12-19 15:58</text>
<text x="1135.1" y="703" text-anchor="middle" font-size="18.3" fill="#262626">29-12-19 02:26</text>
<text x="1289.8" y="703" text-anchor="middle" font-size="18.3" fill="#262626">29-12-19 12:54</text>
<text x="1444.5" y="703" text-anchor="middle" font-size="18.3" fill="#262626">29-12-19 23:21</text>
<text x="826" y="177" text-anchor="middle" font-size="18.15" font-weight="bold" fill="#000">Spectrogramm - Geophone Frontside Table x</text>
<text x="1408" y="64" font-size="18" font-weight="bold" fill="#000">10^^ PSD [m²/Hz]</text>
<text x="519" y="834.5" font-size="18" font-weight="bold" fill="#262626">Time [hh:mm]</text>
<text transform="translate(122.5 508.5) rotate(-90)" text-anchor="middle" font-size="18" font-weight="bold" fill="#262626">Frequency [Hz]</text>
</g>
</svg>
</body></html>
